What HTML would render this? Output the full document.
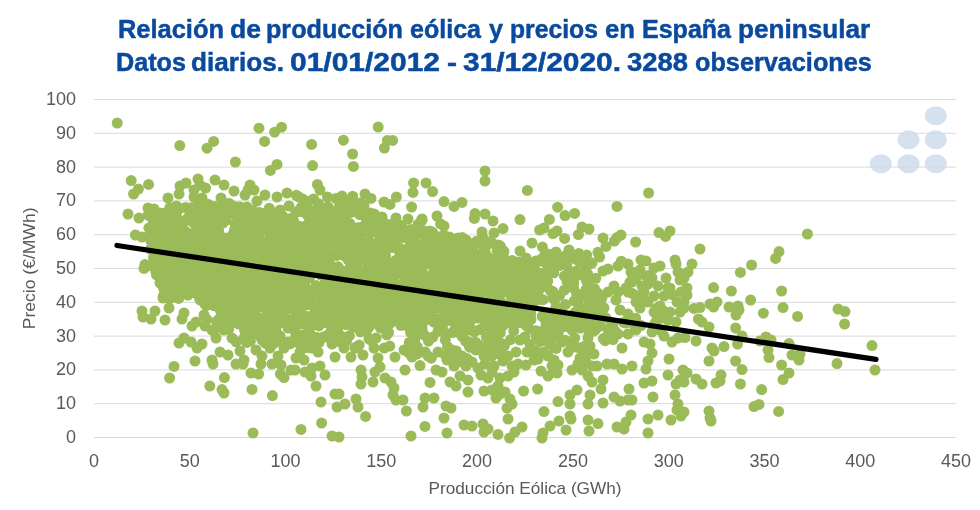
<!DOCTYPE html>
<html><head><meta charset="utf-8">
<style>
html,body{margin:0;padding:0;background:#fff;width:980px;height:510px;overflow:hidden}
svg{display:block;will-change:transform}
text{font-family:"Liberation Sans",sans-serif}
</style></head><body>
<svg width="980" height="510" viewBox="0 0 980 510">
<rect width="980" height="510" fill="#fff"/>
<g fill="#D6E1F0">
<ellipse cx="935.8" cy="115.8" rx="11" ry="9.5"/>
<ellipse cx="908.5" cy="139.8" rx="11" ry="9.5"/>
<ellipse cx="935.8" cy="139.8" rx="11" ry="9.5"/>
<ellipse cx="880.8" cy="163.8" rx="11" ry="9.5"/>
<ellipse cx="908.5" cy="163.8" rx="11" ry="9.5"/>
<ellipse cx="935.8" cy="163.8" rx="11" ry="9.5"/>
</g>
<g stroke="#D9D9D9" stroke-width="1">
<line x1="94" x2="956" y1="437.5" y2="437.5"/>
<line x1="94" x2="956" y1="403.7" y2="403.7"/>
<line x1="94" x2="956" y1="369.9" y2="369.9"/>
<line x1="94" x2="956" y1="336.1" y2="336.1"/>
<line x1="94" x2="956" y1="302.3" y2="302.3"/>
<line x1="94" x2="956" y1="268.5" y2="268.5"/>
<line x1="94" x2="956" y1="234.7" y2="234.7"/>
<line x1="94" x2="956" y1="200.9" y2="200.9"/>
<line x1="94" x2="956" y1="167.1" y2="167.1"/>
<line x1="94" x2="956" y1="133.3" y2="133.3"/>
<line x1="94" x2="956" y1="99.5" y2="99.5"/>
</g>
<g id="dots" fill="#9BBB59">

</g><g fill="#fff"></g><g fill="#9BBB59"><circle cx="117.2" cy="123.0" r="5.5"/>
<circle cx="179.8" cy="145.6" r="5.5"/>
<circle cx="207.0" cy="148.2" r="5.5"/>
<circle cx="213.6" cy="141.4" r="5.5"/>
<circle cx="235.4" cy="162.0" r="5.5"/>
<circle cx="259.0" cy="128.2" r="5.5"/>
<circle cx="264.6" cy="141.4" r="5.5"/>
<circle cx="274.6" cy="132.2" r="5.5"/>
<circle cx="281.6" cy="127.2" r="5.5"/>
<circle cx="277.0" cy="164.4" r="5.5"/>
<circle cx="270.4" cy="170.4" r="5.5"/>
<circle cx="248.0" cy="190.0" r="5.5"/>
<circle cx="194.0" cy="190.0" r="5.5"/>
<circle cx="135.4" cy="235.0" r="5.5"/>
<circle cx="145.0" cy="264.4" r="5.5"/>
<circle cx="144.0" cy="268.4" r="5.5"/>
<circle cx="156.0" cy="271.0" r="5.5"/>
<circle cx="142.0" cy="237.0" r="5.5"/>
<circle cx="131.2" cy="180.6" r="5.5"/>
<circle cx="138.4" cy="189.0" r="5.5"/>
<circle cx="133.6" cy="194.0" r="5.5"/>
<circle cx="148.6" cy="184.4" r="5.5"/>
<circle cx="128.0" cy="214.0" r="5.5"/>
<circle cx="168.0" cy="198.0" r="5.5"/>
<circle cx="180.0" cy="186.0" r="5.5"/>
<circle cx="186.0" cy="183.0" r="5.5"/>
<circle cx="179.0" cy="194.0" r="5.5"/>
<circle cx="198.0" cy="179.0" r="5.5"/>
<circle cx="200.0" cy="185.0" r="5.5"/>
<circle cx="205.6" cy="188.0" r="5.5"/>
<circle cx="194.0" cy="197.0" r="5.5"/>
<circle cx="202.0" cy="198.0" r="5.5"/>
<circle cx="215.0" cy="180.0" r="5.5"/>
<circle cx="224.0" cy="185.0" r="5.5"/>
<circle cx="234.0" cy="191.0" r="5.5"/>
<circle cx="221.0" cy="198.0" r="5.5"/>
<circle cx="250.0" cy="185.0" r="5.5"/>
<circle cx="254.0" cy="190.0" r="5.5"/>
<circle cx="245.0" cy="195.0" r="5.5"/>
<circle cx="265.0" cy="195.0" r="5.5"/>
<circle cx="257.0" cy="201.0" r="5.5"/>
<circle cx="277.0" cy="197.0" r="5.5"/>
<circle cx="287.0" cy="193.0" r="5.5"/>
<circle cx="289.0" cy="206.0" r="5.5"/>
<circle cx="148.0" cy="208.0" r="5.5"/>
<circle cx="154.0" cy="209.0" r="5.5"/>
<circle cx="160.0" cy="213.0" r="5.5"/>
<circle cx="139.0" cy="218.0" r="5.5"/>
<circle cx="160.0" cy="283.0" r="5.5"/>
<circle cx="163.0" cy="298.0" r="5.5"/>
<circle cx="169.0" cy="308.0" r="5.5"/>
<circle cx="142.0" cy="311.0" r="5.5"/>
<circle cx="155.0" cy="311.0" r="5.5"/>
<circle cx="151.0" cy="319.0" r="5.5"/>
<circle cx="143.0" cy="317.0" r="5.5"/>
<circle cx="165.0" cy="320.0" r="5.5"/>
<circle cx="184.0" cy="313.0" r="5.5"/>
<circle cx="182.0" cy="319.0" r="5.5"/>
<circle cx="192.0" cy="326.0" r="5.5"/>
<circle cx="196.0" cy="322.0" r="5.5"/>
<circle cx="204.0" cy="315.0" r="5.5"/>
<circle cx="205.0" cy="326.0" r="5.5"/>
<circle cx="212.0" cy="330.0" r="5.5"/>
<circle cx="216.0" cy="338.0" r="5.5"/>
<circle cx="220.0" cy="318.0" r="5.5"/>
<circle cx="224.0" cy="330.0" r="5.5"/>
<circle cx="232.0" cy="338.0" r="5.5"/>
<circle cx="234.0" cy="322.0" r="5.5"/>
<circle cx="244.0" cy="338.0" r="5.5"/>
<circle cx="252.0" cy="326.0" r="5.5"/>
<circle cx="256.0" cy="334.0" r="5.5"/>
<circle cx="262.0" cy="340.0" r="5.5"/>
<circle cx="268.0" cy="328.0" r="5.5"/>
<circle cx="276.0" cy="330.0" r="5.5"/>
<circle cx="280.0" cy="336.0" r="5.5"/>
<circle cx="288.0" cy="328.0" r="5.5"/>
<circle cx="179.0" cy="343.0" r="5.5"/>
<circle cx="184.0" cy="338.0" r="5.5"/>
<circle cx="191.0" cy="342.0" r="5.5"/>
<circle cx="202.0" cy="344.0" r="5.5"/>
<circle cx="197.0" cy="348.0" r="5.5"/>
<circle cx="195.0" cy="361.0" r="5.5"/>
<circle cx="212.0" cy="360.0" r="5.5"/>
<circle cx="220.0" cy="352.0" r="5.5"/>
<circle cx="228.0" cy="355.0" r="5.5"/>
<circle cx="240.0" cy="351.0" r="5.5"/>
<circle cx="244.0" cy="360.0" r="5.5"/>
<circle cx="256.0" cy="350.0" r="5.5"/>
<circle cx="262.0" cy="356.0" r="5.5"/>
<circle cx="270.0" cy="348.0" r="5.5"/>
<circle cx="278.0" cy="356.0" r="5.5"/>
<circle cx="284.0" cy="348.0" r="5.5"/>
<circle cx="288.0" cy="342.0" r="5.5"/>
<circle cx="272.0" cy="364.0" r="5.5"/>
<circle cx="236.0" cy="364.0" r="5.5"/>
<circle cx="174.0" cy="366.4" r="5.5"/>
<circle cx="169.6" cy="378.0" r="5.5"/>
<circle cx="213.0" cy="364.0" r="5.5"/>
<circle cx="243.0" cy="364.0" r="5.5"/>
<circle cx="261.0" cy="364.0" r="5.5"/>
<circle cx="281.0" cy="365.0" r="5.5"/>
<circle cx="291.0" cy="370.0" r="5.5"/>
<circle cx="224.4" cy="377.6" r="5.5"/>
<circle cx="209.8" cy="386.0" r="5.5"/>
<circle cx="222.0" cy="389.6" r="5.5"/>
<circle cx="224.0" cy="393.0" r="5.5"/>
<circle cx="251.0" cy="373.0" r="5.5"/>
<circle cx="258.6" cy="374.0" r="5.5"/>
<circle cx="252.0" cy="389.4" r="5.5"/>
<circle cx="272.4" cy="395.6" r="5.5"/>
<circle cx="280.4" cy="374.0" r="5.5"/>
<circle cx="284.0" cy="377.6" r="5.5"/>
<circle cx="253.0" cy="433.0" r="5.5"/>
<circle cx="311.6" cy="144.4" r="5.5"/>
<circle cx="312.6" cy="165.6" r="5.5"/>
<circle cx="343.4" cy="140.2" r="5.5"/>
<circle cx="352.6" cy="154.0" r="5.5"/>
<circle cx="353.4" cy="166.4" r="5.5"/>
<circle cx="378.2" cy="127.0" r="5.5"/>
<circle cx="387.4" cy="140.4" r="5.5"/>
<circle cx="392.6" cy="140.4" r="5.5"/>
<circle cx="384.4" cy="148.0" r="5.5"/>
<circle cx="317.4" cy="184.4" r="5.5"/>
<circle cx="320.0" cy="190.0" r="5.5"/>
<circle cx="327.4" cy="197.0" r="5.5"/>
<circle cx="299.0" cy="197.0" r="5.5"/>
<circle cx="313.6" cy="199.0" r="5.5"/>
<circle cx="342.0" cy="196.0" r="5.5"/>
<circle cx="351.0" cy="201.0" r="5.5"/>
<circle cx="340.0" cy="206.0" r="5.5"/>
<circle cx="365.0" cy="194.0" r="5.5"/>
<circle cx="371.0" cy="198.4" r="5.5"/>
<circle cx="364.0" cy="205.6" r="5.5"/>
<circle cx="370.0" cy="213.0" r="5.5"/>
<circle cx="384.0" cy="202.0" r="5.5"/>
<circle cx="390.0" cy="204.4" r="5.5"/>
<circle cx="396.4" cy="197.0" r="5.5"/>
<circle cx="413.6" cy="183.0" r="5.5"/>
<circle cx="413.0" cy="192.4" r="5.5"/>
<circle cx="411.6" cy="207.0" r="5.5"/>
<circle cx="426.0" cy="183.0" r="5.5"/>
<circle cx="432.6" cy="191.6" r="5.5"/>
<circle cx="444.0" cy="201.6" r="5.5"/>
<circle cx="454.0" cy="206.4" r="5.5"/>
<circle cx="462.0" cy="202.4" r="5.5"/>
<circle cx="475.0" cy="213.6" r="5.5"/>
<circle cx="474.4" cy="218.4" r="5.5"/>
<circle cx="485.0" cy="171.0" r="5.5"/>
<circle cx="485.0" cy="181.0" r="5.5"/>
<circle cx="485.0" cy="214.0" r="5.5"/>
<circle cx="382.0" cy="217.0" r="5.5"/>
<circle cx="396.0" cy="218.0" r="5.5"/>
<circle cx="408.0" cy="219.0" r="5.5"/>
<circle cx="422.0" cy="219.0" r="5.5"/>
<circle cx="437.0" cy="216.0" r="5.5"/>
<circle cx="444.0" cy="226.0" r="5.5"/>
<circle cx="458.0" cy="238.0" r="5.5"/>
<circle cx="476.0" cy="243.0" r="5.5"/>
<circle cx="482.0" cy="232.0" r="5.5"/>
<circle cx="472.0" cy="250.0" r="5.5"/>
<circle cx="296.0" cy="358.0" r="5.5"/>
<circle cx="295.0" cy="370.0" r="5.5"/>
<circle cx="305.0" cy="372.0" r="5.5"/>
<circle cx="311.0" cy="376.0" r="5.5"/>
<circle cx="312.0" cy="368.0" r="5.5"/>
<circle cx="320.0" cy="366.0" r="5.5"/>
<circle cx="325.0" cy="375.0" r="5.5"/>
<circle cx="316.0" cy="386.0" r="5.5"/>
<circle cx="335.0" cy="357.0" r="5.5"/>
<circle cx="351.0" cy="357.0" r="5.5"/>
<circle cx="363.0" cy="355.0" r="5.5"/>
<circle cx="361.0" cy="370.0" r="5.5"/>
<circle cx="362.0" cy="377.0" r="5.5"/>
<circle cx="361.0" cy="384.0" r="5.5"/>
<circle cx="373.0" cy="382.0" r="5.5"/>
<circle cx="378.0" cy="358.0" r="5.5"/>
<circle cx="380.0" cy="367.0" r="5.5"/>
<circle cx="375.0" cy="372.0" r="5.5"/>
<circle cx="385.0" cy="378.0" r="5.5"/>
<circle cx="391.0" cy="382.0" r="5.5"/>
<circle cx="394.0" cy="388.0" r="5.5"/>
<circle cx="393.0" cy="395.0" r="5.5"/>
<circle cx="396.0" cy="400.0" r="5.5"/>
<circle cx="403.0" cy="400.0" r="5.5"/>
<circle cx="406.4" cy="411.0" r="5.5"/>
<circle cx="395.0" cy="357.0" r="5.5"/>
<circle cx="405.0" cy="370.0" r="5.5"/>
<circle cx="412.0" cy="357.0" r="5.5"/>
<circle cx="420.0" cy="365.6" r="5.5"/>
<circle cx="425.0" cy="352.0" r="5.5"/>
<circle cx="430.0" cy="382.4" r="5.5"/>
<circle cx="425.0" cy="398.0" r="5.5"/>
<circle cx="434.0" cy="398.0" r="5.5"/>
<circle cx="423.0" cy="407.0" r="5.5"/>
<circle cx="436.0" cy="370.0" r="5.5"/>
<circle cx="442.0" cy="372.0" r="5.5"/>
<circle cx="447.0" cy="360.0" r="5.5"/>
<circle cx="450.0" cy="382.0" r="5.5"/>
<circle cx="456.0" cy="386.0" r="5.5"/>
<circle cx="460.0" cy="376.0" r="5.5"/>
<circle cx="468.0" cy="380.0" r="5.5"/>
<circle cx="468.0" cy="392.0" r="5.5"/>
<circle cx="472.0" cy="362.0" r="5.5"/>
<circle cx="446.0" cy="406.0" r="5.5"/>
<circle cx="451.0" cy="408.0" r="5.5"/>
<circle cx="444.0" cy="418.0" r="5.5"/>
<circle cx="447.0" cy="433.0" r="5.5"/>
<circle cx="425.0" cy="426.4" r="5.5"/>
<circle cx="411.0" cy="436.0" r="5.5"/>
<circle cx="464.0" cy="425.0" r="5.5"/>
<circle cx="472.0" cy="426.0" r="5.5"/>
<circle cx="483.0" cy="424.0" r="5.5"/>
<circle cx="484.0" cy="432.0" r="5.5"/>
<circle cx="484.0" cy="391.0" r="5.5"/>
<circle cx="481.0" cy="375.0" r="5.5"/>
<circle cx="485.0" cy="364.0" r="5.5"/>
<circle cx="321.0" cy="402.0" r="5.5"/>
<circle cx="335.0" cy="394.0" r="5.5"/>
<circle cx="339.0" cy="394.0" r="5.5"/>
<circle cx="337.0" cy="407.0" r="5.5"/>
<circle cx="345.0" cy="404.0" r="5.5"/>
<circle cx="356.0" cy="399.0" r="5.5"/>
<circle cx="358.0" cy="407.0" r="5.5"/>
<circle cx="365.6" cy="416.4" r="5.5"/>
<circle cx="321.6" cy="423.0" r="5.5"/>
<circle cx="301.0" cy="429.4" r="5.5"/>
<circle cx="332.0" cy="436.0" r="5.5"/>
<circle cx="339.0" cy="437.0" r="5.5"/>
<circle cx="438.0" cy="352.0" r="5.5"/>
<circle cx="452.0" cy="350.0" r="5.5"/>
<circle cx="462.0" cy="356.0" r="5.5"/>
<circle cx="476.0" cy="350.0" r="5.5"/>
<circle cx="484.0" cy="356.0" r="5.5"/>
<circle cx="344.0" cy="348.0" r="5.5"/>
<circle cx="356.0" cy="348.0" r="5.5"/>
<circle cx="374.0" cy="348.0" r="5.5"/>
<circle cx="404.0" cy="350.0" r="5.5"/>
<circle cx="332.0" cy="344.0" r="5.5"/>
<circle cx="312.0" cy="348.0" r="5.5"/>
<circle cx="304.0" cy="360.0" r="5.5"/>
<circle cx="300.0" cy="352.0" r="5.5"/>
<circle cx="318.0" cy="352.0" r="5.5"/>
<circle cx="454.0" cy="366.0" r="5.5"/>
<circle cx="458.0" cy="362.0" r="5.5"/>
<circle cx="466.0" cy="366.0" r="5.5"/>
<circle cx="478.0" cy="368.0" r="5.5"/>
<circle cx="412.0" cy="352.0" r="5.5"/>
<circle cx="428.0" cy="356.0" r="5.5"/>
<circle cx="527.4" cy="190.4" r="5.5"/>
<circle cx="648.6" cy="193.0" r="5.5"/>
<circle cx="617.0" cy="206.4" r="5.5"/>
<circle cx="557.6" cy="207.2" r="5.5"/>
<circle cx="565.0" cy="215.6" r="5.5"/>
<circle cx="574.6" cy="213.4" r="5.5"/>
<circle cx="549.4" cy="219.4" r="5.5"/>
<circle cx="520.0" cy="219.6" r="5.5"/>
<circle cx="493.0" cy="221.0" r="5.5"/>
<circle cx="503.0" cy="228.6" r="5.5"/>
<circle cx="494.0" cy="233.0" r="5.5"/>
<circle cx="539.6" cy="230.0" r="5.5"/>
<circle cx="544.0" cy="228.0" r="5.5"/>
<circle cx="553.0" cy="233.6" r="5.5"/>
<circle cx="557.0" cy="231.0" r="5.5"/>
<circle cx="564.6" cy="238.4" r="5.5"/>
<circle cx="578.4" cy="234.6" r="5.5"/>
<circle cx="582.0" cy="227.0" r="5.5"/>
<circle cx="589.0" cy="229.0" r="5.5"/>
<circle cx="603.0" cy="238.0" r="5.5"/>
<circle cx="606.0" cy="246.4" r="5.5"/>
<circle cx="614.4" cy="241.0" r="5.5"/>
<circle cx="621.0" cy="235.0" r="5.5"/>
<circle cx="617.0" cy="237.6" r="5.5"/>
<circle cx="635.6" cy="242.0" r="5.5"/>
<circle cx="659.0" cy="232.6" r="5.5"/>
<circle cx="665.6" cy="236.4" r="5.5"/>
<circle cx="670.0" cy="231.0" r="5.5"/>
<circle cx="532.0" cy="243.0" r="5.5"/>
<circle cx="542.4" cy="247.0" r="5.5"/>
<circle cx="520.0" cy="251.0" r="5.5"/>
<circle cx="526.0" cy="258.0" r="5.5"/>
<circle cx="537.0" cy="261.0" r="5.5"/>
<circle cx="548.0" cy="254.0" r="5.5"/>
<circle cx="556.0" cy="252.0" r="5.5"/>
<circle cx="569.0" cy="250.0" r="5.5"/>
<circle cx="576.0" cy="259.0" r="5.5"/>
<circle cx="586.0" cy="263.0" r="5.5"/>
<circle cx="592.0" cy="263.0" r="5.5"/>
<circle cx="641.0" cy="260.0" r="5.5"/>
<circle cx="646.0" cy="261.0" r="5.5"/>
<circle cx="675.0" cy="260.0" r="5.5"/>
<circle cx="603.0" cy="271.0" r="5.5"/>
<circle cx="608.0" cy="269.0" r="5.5"/>
<circle cx="618.0" cy="266.0" r="5.5"/>
<circle cx="614.0" cy="286.0" r="5.5"/>
<circle cx="608.0" cy="292.0" r="5.5"/>
<circle cx="600.0" cy="298.0" r="5.5"/>
<circle cx="604.0" cy="308.0" r="5.5"/>
<circle cx="616.0" cy="300.0" r="5.5"/>
<circle cx="620.0" cy="310.0" r="5.5"/>
<circle cx="628.0" cy="292.0" r="5.5"/>
<circle cx="626.0" cy="288.0" r="5.5"/>
<circle cx="632.0" cy="282.0" r="5.5"/>
<circle cx="632.0" cy="272.0" r="5.5"/>
<circle cx="640.0" cy="270.0" r="5.5"/>
<circle cx="646.0" cy="276.0" r="5.5"/>
<circle cx="648.0" cy="284.0" r="5.5"/>
<circle cx="644.0" cy="292.0" r="5.5"/>
<circle cx="636.0" cy="302.0" r="5.5"/>
<circle cx="640.0" cy="308.0" r="5.5"/>
<circle cx="648.0" cy="302.0" r="5.5"/>
<circle cx="654.0" cy="312.0" r="5.5"/>
<circle cx="660.0" cy="306.0" r="5.5"/>
<circle cx="664.0" cy="296.0" r="5.5"/>
<circle cx="666.0" cy="278.0" r="5.5"/>
<circle cx="670.0" cy="288.0" r="5.5"/>
<circle cx="660.0" cy="266.0" r="5.5"/>
<circle cx="676.0" cy="264.0" r="5.5"/>
<circle cx="680.0" cy="280.0" r="5.5"/>
<circle cx="681.0" cy="292.0" r="5.5"/>
<circle cx="677.0" cy="302.0" r="5.5"/>
<circle cx="670.0" cy="312.0" r="5.5"/>
<circle cx="680.0" cy="312.0" r="5.5"/>
<circle cx="668.0" cy="320.0" r="5.5"/>
<circle cx="676.0" cy="322.0" r="5.5"/>
<circle cx="660.0" cy="330.0" r="5.5"/>
<circle cx="664.0" cy="336.0" r="5.5"/>
<circle cx="652.0" cy="332.0" r="5.5"/>
<circle cx="636.0" cy="330.0" r="5.5"/>
<circle cx="628.0" cy="334.0" r="5.5"/>
<circle cx="618.0" cy="334.0" r="5.5"/>
<circle cx="612.0" cy="324.0" r="5.5"/>
<circle cx="600.0" cy="326.0" r="5.5"/>
<circle cx="592.0" cy="330.0" r="5.5"/>
<circle cx="588.0" cy="338.0" r="5.5"/>
<circle cx="590.0" cy="346.0" r="5.5"/>
<circle cx="584.0" cy="352.0" r="5.5"/>
<circle cx="594.0" cy="354.0" r="5.5"/>
<circle cx="568.0" cy="352.0" r="5.5"/>
<circle cx="562.0" cy="342.0" r="5.5"/>
<circle cx="554.0" cy="360.0" r="5.5"/>
<circle cx="544.0" cy="352.0" r="5.5"/>
<circle cx="548.0" cy="356.0" r="5.5"/>
<circle cx="572.0" cy="330.0" r="5.5"/>
<circle cx="580.0" cy="328.0" r="5.5"/>
<circle cx="622.0" cy="348.0" r="5.5"/>
<circle cx="644.0" cy="342.0" r="5.5"/>
<circle cx="650.0" cy="344.0" r="5.5"/>
<circle cx="652.0" cy="353.0" r="5.5"/>
<circle cx="672.0" cy="342.0" r="5.5"/>
<circle cx="678.0" cy="338.0" r="5.5"/>
<circle cx="606.0" cy="318.0" r="5.5"/>
<circle cx="618.0" cy="292.0" r="5.5"/>
<circle cx="638.0" cy="296.0" r="5.5"/>
<circle cx="658.0" cy="286.0" r="5.5"/>
<circle cx="654.0" cy="268.0" r="5.5"/>
<circle cx="628.0" cy="264.0" r="5.5"/>
<circle cx="636.0" cy="278.0" r="5.5"/>
<circle cx="642.0" cy="286.0" r="5.5"/>
<circle cx="654.0" cy="296.0" r="5.5"/>
<circle cx="652.0" cy="278.0" r="5.5"/>
<circle cx="628.0" cy="314.0" r="5.5"/>
<circle cx="634.0" cy="320.0" r="5.5"/>
<circle cx="678.0" cy="272.0" r="5.5"/>
<circle cx="684.0" cy="302.0" r="5.5"/>
<circle cx="662.0" cy="318.0" r="5.5"/>
<circle cx="656.0" cy="322.0" r="5.5"/>
<circle cx="492.0" cy="356.0" r="5.5"/>
<circle cx="500.0" cy="354.0" r="5.5"/>
<circle cx="508.0" cy="356.0" r="5.5"/>
<circle cx="516.0" cy="352.0" r="5.5"/>
<circle cx="494.0" cy="366.0" r="5.5"/>
<circle cx="503.0" cy="361.0" r="5.5"/>
<circle cx="512.0" cy="366.0" r="5.5"/>
<circle cx="518.0" cy="364.0" r="5.5"/>
<circle cx="526.0" cy="365.0" r="5.5"/>
<circle cx="534.0" cy="360.0" r="5.5"/>
<circle cx="538.0" cy="359.0" r="5.5"/>
<circle cx="541.0" cy="371.0" r="5.5"/>
<circle cx="548.0" cy="376.0" r="5.5"/>
<circle cx="552.0" cy="366.0" r="5.5"/>
<circle cx="558.0" cy="365.0" r="5.5"/>
<circle cx="557.0" cy="373.0" r="5.5"/>
<circle cx="572.0" cy="370.0" r="5.5"/>
<circle cx="578.0" cy="364.0" r="5.5"/>
<circle cx="584.0" cy="356.0" r="5.5"/>
<circle cx="590.0" cy="353.0" r="5.5"/>
<circle cx="586.0" cy="362.0" r="5.5"/>
<circle cx="592.0" cy="366.0" r="5.5"/>
<circle cx="597.0" cy="366.0" r="5.5"/>
<circle cx="588.0" cy="376.0" r="5.5"/>
<circle cx="592.0" cy="382.0" r="5.5"/>
<circle cx="603.0" cy="380.0" r="5.5"/>
<circle cx="601.0" cy="389.0" r="5.5"/>
<circle cx="607.0" cy="364.0" r="5.5"/>
<circle cx="614.0" cy="364.0" r="5.5"/>
<circle cx="622.0" cy="369.0" r="5.5"/>
<circle cx="632.0" cy="366.0" r="5.5"/>
<circle cx="646.0" cy="369.0" r="5.5"/>
<circle cx="648.0" cy="361.0" r="5.5"/>
<circle cx="669.0" cy="359.0" r="5.5"/>
<circle cx="668.0" cy="375.0" r="5.5"/>
<circle cx="644.0" cy="383.0" r="5.5"/>
<circle cx="652.0" cy="381.0" r="5.5"/>
<circle cx="653.0" cy="397.0" r="5.5"/>
<circle cx="676.0" cy="384.0" r="5.5"/>
<circle cx="680.0" cy="380.0" r="5.5"/>
<circle cx="675.0" cy="395.0" r="5.5"/>
<circle cx="678.0" cy="404.0" r="5.5"/>
<circle cx="677.0" cy="410.0" r="5.5"/>
<circle cx="681.0" cy="416.0" r="5.5"/>
<circle cx="671.0" cy="420.0" r="5.5"/>
<circle cx="683.0" cy="370.0" r="5.5"/>
<circle cx="488.0" cy="378.0" r="5.5"/>
<circle cx="492.0" cy="390.0" r="5.5"/>
<circle cx="498.0" cy="386.0" r="5.5"/>
<circle cx="505.0" cy="392.0" r="5.5"/>
<circle cx="510.0" cy="399.0" r="5.5"/>
<circle cx="512.0" cy="404.0" r="5.5"/>
<circle cx="507.0" cy="408.0" r="5.5"/>
<circle cx="508.0" cy="419.0" r="5.5"/>
<circle cx="488.0" cy="429.0" r="5.5"/>
<circle cx="498.0" cy="434.4" r="5.5"/>
<circle cx="509.6" cy="438.0" r="5.5"/>
<circle cx="515.0" cy="432.0" r="5.5"/>
<circle cx="522.0" cy="427.0" r="5.5"/>
<circle cx="500.0" cy="378.0" r="5.5"/>
<circle cx="492.0" cy="372.0" r="5.5"/>
<circle cx="508.0" cy="376.0" r="5.5"/>
<circle cx="514.0" cy="372.0" r="5.5"/>
<circle cx="523.6" cy="391.0" r="5.5"/>
<circle cx="537.6" cy="389.0" r="5.5"/>
<circle cx="544.0" cy="411.6" r="5.5"/>
<circle cx="558.0" cy="401.6" r="5.5"/>
<circle cx="570.0" cy="395.0" r="5.5"/>
<circle cx="577.0" cy="390.0" r="5.5"/>
<circle cx="570.0" cy="404.0" r="5.5"/>
<circle cx="570.0" cy="416.0" r="5.5"/>
<circle cx="571.0" cy="419.0" r="5.5"/>
<circle cx="588.0" cy="404.0" r="5.5"/>
<circle cx="590.0" cy="395.0" r="5.5"/>
<circle cx="603.0" cy="403.0" r="5.5"/>
<circle cx="614.0" cy="397.0" r="5.5"/>
<circle cx="620.0" cy="401.0" r="5.5"/>
<circle cx="628.0" cy="400.0" r="5.5"/>
<circle cx="632.0" cy="400.0" r="5.5"/>
<circle cx="629.0" cy="389.0" r="5.5"/>
<circle cx="588.0" cy="420.0" r="5.5"/>
<circle cx="589.0" cy="431.0" r="5.5"/>
<circle cx="598.0" cy="423.6" r="5.5"/>
<circle cx="566.0" cy="430.0" r="5.5"/>
<circle cx="559.0" cy="421.0" r="5.5"/>
<circle cx="550.0" cy="426.0" r="5.5"/>
<circle cx="543.0" cy="433.0" r="5.5"/>
<circle cx="542.0" cy="438.0" r="5.5"/>
<circle cx="617.0" cy="427.0" r="5.5"/>
<circle cx="624.0" cy="429.0" r="5.5"/>
<circle cx="626.0" cy="422.0" r="5.5"/>
<circle cx="631.0" cy="415.0" r="5.5"/>
<circle cx="648.0" cy="419.0" r="5.5"/>
<circle cx="658.0" cy="415.0" r="5.5"/>
<circle cx="648.0" cy="433.0" r="5.5"/>
<circle cx="582.0" cy="370.0" r="5.5"/>
<circle cx="580.0" cy="358.0" r="5.5"/>
<circle cx="554.0" cy="370.0" r="5.5"/>
<circle cx="500.0" cy="394.0" r="5.5"/>
<circle cx="496.0" cy="398.0" r="5.5"/>
<circle cx="807.4" cy="234.0" r="5.5"/>
<circle cx="700.0" cy="249.0" r="5.5"/>
<circle cx="779.0" cy="251.6" r="5.5"/>
<circle cx="775.6" cy="258.4" r="5.5"/>
<circle cx="692.0" cy="264.0" r="5.5"/>
<circle cx="688.0" cy="272.0" r="5.5"/>
<circle cx="684.0" cy="278.0" r="5.5"/>
<circle cx="687.0" cy="288.0" r="5.5"/>
<circle cx="687.0" cy="295.0" r="5.5"/>
<circle cx="684.0" cy="308.0" r="5.5"/>
<circle cx="694.0" cy="308.4" r="5.5"/>
<circle cx="700.0" cy="307.6" r="5.5"/>
<circle cx="710.0" cy="304.0" r="5.5"/>
<circle cx="717.0" cy="302.0" r="5.5"/>
<circle cx="713.6" cy="307.0" r="5.5"/>
<circle cx="713.6" cy="287.6" r="5.5"/>
<circle cx="731.4" cy="291.0" r="5.5"/>
<circle cx="740.4" cy="272.4" r="5.5"/>
<circle cx="751.6" cy="265.0" r="5.5"/>
<circle cx="729.0" cy="307.0" r="5.5"/>
<circle cx="738.0" cy="306.0" r="5.5"/>
<circle cx="739.0" cy="310.0" r="5.5"/>
<circle cx="736.0" cy="315.0" r="5.5"/>
<circle cx="750.6" cy="300.0" r="5.5"/>
<circle cx="763.4" cy="313.2" r="5.5"/>
<circle cx="781.6" cy="291.0" r="5.5"/>
<circle cx="783.0" cy="307.6" r="5.5"/>
<circle cx="797.6" cy="316.4" r="5.5"/>
<circle cx="838.0" cy="309.0" r="5.5"/>
<circle cx="845.0" cy="311.6" r="5.5"/>
<circle cx="844.6" cy="324.0" r="5.5"/>
<circle cx="872.0" cy="345.6" r="5.5"/>
<circle cx="698.4" cy="319.0" r="5.5"/>
<circle cx="702.0" cy="322.0" r="5.5"/>
<circle cx="709.0" cy="327.0" r="5.5"/>
<circle cx="735.6" cy="328.0" r="5.5"/>
<circle cx="742.0" cy="336.0" r="5.5"/>
<circle cx="737.6" cy="344.0" r="5.5"/>
<circle cx="724.0" cy="346.6" r="5.5"/>
<circle cx="712.0" cy="348.0" r="5.5"/>
<circle cx="714.0" cy="351.0" r="5.5"/>
<circle cx="696.0" cy="341.0" r="5.5"/>
<circle cx="685.0" cy="337.6" r="5.5"/>
<circle cx="760.0" cy="341.0" r="5.5"/>
<circle cx="766.0" cy="337.0" r="5.5"/>
<circle cx="771.0" cy="340.0" r="5.5"/>
<circle cx="768.0" cy="350.0" r="5.5"/>
<circle cx="789.0" cy="343.6" r="5.5"/>
<circle cx="792.0" cy="355.0" r="5.5"/>
<circle cx="800.0" cy="354.0" r="5.5"/>
<circle cx="709.0" cy="361.0" r="5.5"/>
<circle cx="735.6" cy="361.0" r="5.5"/>
<circle cx="742.0" cy="369.6" r="5.5"/>
<circle cx="687.0" cy="373.0" r="5.5"/>
<circle cx="684.0" cy="382.0" r="5.5"/>
<circle cx="696.0" cy="379.0" r="5.5"/>
<circle cx="702.0" cy="384.0" r="5.5"/>
<circle cx="716.0" cy="383.0" r="5.5"/>
<circle cx="721.0" cy="375.0" r="5.5"/>
<circle cx="720.0" cy="381.0" r="5.5"/>
<circle cx="740.4" cy="384.0" r="5.5"/>
<circle cx="761.6" cy="389.6" r="5.5"/>
<circle cx="754.0" cy="406.6" r="5.5"/>
<circle cx="759.0" cy="404.4" r="5.5"/>
<circle cx="778.6" cy="411.4" r="5.5"/>
<circle cx="769.0" cy="357.6" r="5.5"/>
<circle cx="781.6" cy="365.0" r="5.5"/>
<circle cx="789.0" cy="373.0" r="5.5"/>
<circle cx="783.0" cy="379.6" r="5.5"/>
<circle cx="799.0" cy="360.0" r="5.5"/>
<circle cx="837.0" cy="363.6" r="5.5"/>
<circle cx="875.0" cy="370.0" r="5.5"/>
<circle cx="684.0" cy="412.0" r="5.5"/>
<circle cx="709.0" cy="411.0" r="5.5"/>
<circle cx="710.0" cy="418.0" r="5.5"/>
<circle cx="711.0" cy="421.0" r="5.5"/>
<circle cx="522.0" cy="322.8" r="5.5"/>
<circle cx="410.6" cy="332.5" r="5.5"/>
<circle cx="475.4" cy="349.4" r="5.5"/>
<circle cx="551.8" cy="331.6" r="5.5"/>
<circle cx="389.8" cy="346.1" r="5.5"/>
<circle cx="594.7" cy="329.1" r="5.5"/>
<circle cx="294.9" cy="331.1" r="5.5"/>
<circle cx="217.1" cy="321.1" r="5.5"/>
<circle cx="386.7" cy="334.8" r="5.5"/>
<circle cx="301.7" cy="321.5" r="5.5"/>
<circle cx="295.8" cy="333.0" r="5.5"/>
<circle cx="552.6" cy="337.8" r="5.5"/>
<circle cx="471.6" cy="319.3" r="5.5"/>
<circle cx="255.2" cy="326.6" r="5.5"/>
<circle cx="504.4" cy="345.6" r="5.5"/>
<circle cx="593.6" cy="331.1" r="5.5"/>
<circle cx="549.5" cy="343.5" r="5.5"/>
<circle cx="330.9" cy="339.4" r="5.5"/>
<circle cx="414.7" cy="339.5" r="5.5"/>
<circle cx="219.3" cy="322.1" r="5.5"/>
<circle cx="535.9" cy="330.7" r="5.5"/>
<circle cx="276.8" cy="337.4" r="5.5"/>
<circle cx="496.8" cy="343.7" r="5.5"/>
<circle cx="360.5" cy="331.9" r="5.5"/>
<circle cx="416.0" cy="348.9" r="5.5"/>
<circle cx="421.2" cy="329.7" r="5.5"/>
<circle cx="613.0" cy="339.7" r="5.5"/>
<circle cx="368.3" cy="318.5" r="5.5"/>
<circle cx="524.8" cy="337.0" r="5.5"/>
<circle cx="562.0" cy="321.6" r="5.5"/>
<circle cx="444.8" cy="333.0" r="5.5"/>
<circle cx="316.8" cy="337.4" r="5.5"/>
<circle cx="530.2" cy="351.0" r="5.5"/>
<circle cx="572.8" cy="347.0" r="5.5"/>
<circle cx="540.8" cy="335.9" r="5.5"/>
<circle cx="438.0" cy="331.3" r="5.5"/>
<circle cx="441.5" cy="320.0" r="5.5"/>
<circle cx="414.5" cy="334.2" r="5.5"/>
<circle cx="353.1" cy="327.3" r="5.5"/>
<circle cx="428.5" cy="341.2" r="5.5"/>
<circle cx="459.2" cy="332.9" r="5.5"/>
<circle cx="216.6" cy="321.5" r="5.5"/>
<circle cx="278.5" cy="339.2" r="5.5"/>
<circle cx="535.8" cy="350.8" r="5.5"/>
<circle cx="518.6" cy="322.5" r="5.5"/>
<circle cx="250.4" cy="341.2" r="5.5"/>
<circle cx="271.2" cy="336.4" r="5.5"/>
<circle cx="274.8" cy="323.6" r="5.5"/>
<circle cx="500.3" cy="332.7" r="5.5"/>
<circle cx="338.6" cy="333.7" r="5.5"/>
<circle cx="214.8" cy="329.3" r="5.5"/>
<circle cx="379.7" cy="319.4" r="5.5"/>
<circle cx="416.7" cy="320.5" r="5.5"/>
<circle cx="456.3" cy="350.9" r="5.5"/>
<circle cx="271.5" cy="345.2" r="5.5"/>
<circle cx="486.4" cy="337.2" r="5.5"/>
<circle cx="536.1" cy="335.8" r="5.5"/>
<circle cx="297.6" cy="342.4" r="5.5"/>
<circle cx="368.9" cy="338.8" r="5.5"/>
<circle cx="338.3" cy="341.5" r="5.5"/>
<circle cx="229.4" cy="324.9" r="5.5"/>
<circle cx="513.7" cy="330.8" r="5.5"/>
<circle cx="441.7" cy="318.6" r="5.5"/>
<circle cx="497.2" cy="335.4" r="5.5"/>
<circle cx="361.9" cy="327.3" r="5.5"/>
<circle cx="290.4" cy="343.7" r="5.5"/>
<circle cx="384.7" cy="319.7" r="5.5"/>
<circle cx="327.9" cy="335.0" r="5.5"/>
<circle cx="288.4" cy="326.4" r="5.5"/>
<circle cx="345.7" cy="320.7" r="5.5"/>
<circle cx="484.9" cy="351.9" r="5.5"/>
<circle cx="591.9" cy="327.2" r="5.5"/>
<circle cx="571.2" cy="344.4" r="5.5"/>
<circle cx="302.4" cy="346.3" r="5.5"/>
<circle cx="240.1" cy="318.5" r="5.5"/>
<circle cx="583.1" cy="320.6" r="5.5"/>
<circle cx="520.0" cy="340.0" r="5.5"/>
<circle cx="554.1" cy="328.4" r="5.5"/>
<circle cx="346.2" cy="324.6" r="5.5"/>
<circle cx="565.0" cy="340.2" r="5.5"/>
<circle cx="261.2" cy="337.6" r="5.5"/>
<circle cx="532.1" cy="351.4" r="5.5"/>
<circle cx="346.5" cy="340.8" r="5.5"/>
<circle cx="529.5" cy="328.9" r="5.5"/>
<circle cx="441.9" cy="321.2" r="5.5"/>
<circle cx="238.9" cy="323.3" r="5.5"/>
<circle cx="574.7" cy="338.2" r="5.5"/>
<circle cx="588.9" cy="332.9" r="5.5"/>
<circle cx="221.6" cy="322.0" r="5.5"/>
<circle cx="615.1" cy="331.1" r="5.5"/>
<circle cx="253.0" cy="318.4" r="5.5"/>
<circle cx="305.2" cy="347.2" r="5.5"/>
<circle cx="582.3" cy="324.7" r="5.5"/>
<circle cx="310.2" cy="333.9" r="5.5"/>
<circle cx="246.6" cy="342.6" r="5.5"/>
<circle cx="612.8" cy="324.8" r="5.5"/>
<circle cx="452.6" cy="332.5" r="5.5"/>
<circle cx="294.3" cy="340.9" r="5.5"/>
<circle cx="611.7" cy="337.1" r="5.5"/>
<circle cx="490.6" cy="343.1" r="5.5"/>
<circle cx="312.5" cy="337.1" r="5.5"/>
<circle cx="332.5" cy="322.3" r="5.5"/>
<circle cx="238.8" cy="324.0" r="5.5"/>
<circle cx="613.1" cy="332.4" r="5.5"/>
<circle cx="475.6" cy="342.2" r="5.5"/>
<circle cx="595.4" cy="329.5" r="5.5"/>
<circle cx="332.3" cy="326.4" r="5.5"/>
<circle cx="575.8" cy="325.1" r="5.5"/>
<circle cx="343.7" cy="337.2" r="5.5"/>
<circle cx="445.3" cy="339.8" r="5.5"/>
<circle cx="236.2" cy="341.8" r="5.5"/>
<circle cx="409.7" cy="353.1" r="5.5"/>
<circle cx="269.0" cy="335.1" r="5.5"/>
<circle cx="598.9" cy="318.7" r="5.5"/>
<circle cx="545.9" cy="326.0" r="5.5"/>
<circle cx="249.4" cy="335.7" r="5.5"/>
<circle cx="586.5" cy="324.7" r="5.5"/>
<circle cx="575.9" cy="317.1" r="5.5"/>
<circle cx="553.9" cy="347.3" r="5.5"/>
<circle cx="491.2" cy="318.9" r="5.5"/>
<circle cx="501.7" cy="343.4" r="5.5"/>
<circle cx="432.9" cy="337.1" r="5.5"/>
<circle cx="558.3" cy="332.7" r="5.5"/>
<circle cx="369.2" cy="326.9" r="5.5"/>
<circle cx="473.3" cy="330.8" r="5.5"/>
<circle cx="256.9" cy="323.0" r="5.5"/>
<circle cx="549.0" cy="329.9" r="5.5"/>
<circle cx="371.4" cy="340.6" r="5.5"/>
<circle cx="424.4" cy="335.0" r="5.5"/>
<circle cx="474.3" cy="331.9" r="5.5"/>
<circle cx="489.9" cy="346.6" r="5.5"/>
<circle cx="303.9" cy="334.8" r="5.5"/>
<circle cx="403.7" cy="321.3" r="5.5"/>
<circle cx="376.1" cy="338.0" r="5.5"/>
<circle cx="319.2" cy="342.3" r="5.5"/>
<circle cx="417.4" cy="353.9" r="5.5"/>
<circle cx="571.4" cy="325.6" r="5.5"/>
<circle cx="492.4" cy="352.4" r="5.5"/>
<circle cx="359.2" cy="345.1" r="5.5"/>
<circle cx="510.6" cy="339.7" r="5.5"/>
<circle cx="603.4" cy="338.6" r="5.5"/>
<circle cx="278.2" cy="322.5" r="5.5"/>
<circle cx="295.3" cy="338.5" r="5.5"/>
<circle cx="487.9" cy="345.9" r="5.5"/>
<circle cx="349.4" cy="335.8" r="5.5"/>
<circle cx="540.3" cy="341.4" r="5.5"/>
<circle cx="603.2" cy="317.0" r="5.5"/>
<circle cx="526.9" cy="352.1" r="5.5"/>
<circle cx="478.8" cy="345.0" r="5.5"/>
<circle cx="608.1" cy="329.1" r="5.5"/>
<circle cx="538.1" cy="331.6" r="5.5"/>
<circle cx="273.4" cy="326.3" r="5.5"/>
<circle cx="603.2" cy="316.0" r="5.5"/>
<circle cx="454.3" cy="330.4" r="5.5"/>
<circle cx="254.0" cy="324.8" r="5.5"/>
<circle cx="308.0" cy="347.5" r="5.5"/>
<circle cx="206.7" cy="319.5" r="5.5"/>
<circle cx="465.4" cy="340.3" r="5.5"/>
<circle cx="551.7" cy="320.3" r="5.5"/>
<circle cx="323.2" cy="337.1" r="5.5"/>
<circle cx="318.4" cy="339.3" r="5.5"/>
<circle cx="309.1" cy="344.2" r="5.5"/>
<circle cx="533.3" cy="350.4" r="5.5"/>
<circle cx="609.1" cy="337.3" r="5.5"/>
<circle cx="408.7" cy="352.8" r="5.5"/>
<circle cx="524.2" cy="338.5" r="5.5"/>
<circle cx="364.1" cy="324.2" r="5.5"/>
<circle cx="431.3" cy="358.2" r="5.5"/>
<circle cx="261.7" cy="335.0" r="5.5"/>
<circle cx="442.6" cy="325.6" r="5.5"/>
<circle cx="413.8" cy="327.8" r="5.5"/>
<circle cx="388.6" cy="332.5" r="5.5"/>
<circle cx="331.5" cy="330.0" r="5.5"/>
<circle cx="530.0" cy="344.2" r="5.5"/>
<circle cx="409.3" cy="342.4" r="5.5"/>
<circle cx="361.7" cy="320.2" r="5.5"/>
<circle cx="453.2" cy="354.1" r="5.5"/>
<circle cx="549.2" cy="335.5" r="5.5"/>
<circle cx="614.6" cy="333.1" r="5.5"/>
<circle cx="551.4" cy="330.4" r="5.5"/>
<circle cx="331.7" cy="318.5" r="5.5"/>
<circle cx="462.3" cy="336.5" r="5.5"/>
<circle cx="366.5" cy="331.3" r="5.5"/>
<circle cx="447.5" cy="346.7" r="5.5"/>
<circle cx="577.6" cy="347.4" r="5.5"/>
<circle cx="409.5" cy="347.3" r="5.5"/>
<circle cx="470.7" cy="342.4" r="5.5"/>
<circle cx="466.3" cy="330.3" r="5.5"/>
<circle cx="466.1" cy="341.7" r="5.5"/>
<circle cx="556.2" cy="348.4" r="5.5"/>
<circle cx="543.4" cy="340.3" r="5.5"/>
<circle cx="350.0" cy="323.2" r="5.5"/>
<circle cx="498.8" cy="353.7" r="5.5"/>
<circle cx="430.9" cy="317.6" r="5.5"/>
<circle cx="550.7" cy="334.2" r="5.5"/>
<circle cx="416.8" cy="347.2" r="5.5"/>
<circle cx="380.4" cy="327.8" r="5.5"/>
<circle cx="491.5" cy="330.1" r="5.5"/>
<circle cx="490.9" cy="340.2" r="5.5"/>
<circle cx="291.7" cy="320.4" r="5.5"/>
<circle cx="572.7" cy="323.5" r="5.5"/>
<circle cx="422.1" cy="328.4" r="5.5"/>
<circle cx="417.3" cy="346.8" r="5.5"/>
<circle cx="274.9" cy="342.7" r="5.5"/>
<circle cx="501.1" cy="350.8" r="5.5"/>
<circle cx="317.0" cy="340.5" r="5.5"/>
<circle cx="301.3" cy="338.1" r="5.5"/>
<circle cx="564.7" cy="326.5" r="5.5"/>
<circle cx="498.3" cy="352.2" r="5.5"/>
<circle cx="463.3" cy="325.8" r="5.5"/>
<circle cx="384.2" cy="348.1" r="5.5"/>
<circle cx="530.9" cy="319.5" r="5.5"/>
<circle cx="464.7" cy="318.3" r="5.5"/>
<circle cx="608.8" cy="332.2" r="5.5"/>
<circle cx="584.0" cy="346.4" r="5.5"/>
<circle cx="456.6" cy="323.1" r="5.5"/>
<circle cx="354.9" cy="347.6" r="5.5"/>
<circle cx="304.8" cy="345.9" r="5.5"/>
<circle cx="503.2" cy="325.3" r="5.5"/>
<circle cx="249.1" cy="329.9" r="5.5"/>
<circle cx="453.0" cy="354.4" r="5.5"/>
<circle cx="497.1" cy="350.7" r="5.5"/>
<circle cx="605.1" cy="340.7" r="5.5"/>
<circle cx="244.5" cy="330.0" r="5.5"/>
<circle cx="410.4" cy="328.9" r="5.5"/>
<circle cx="275.0" cy="321.6" r="5.5"/>
<circle cx="545.4" cy="333.1" r="5.5"/>
<circle cx="445.7" cy="320.6" r="5.5"/>
<circle cx="501.7" cy="326.5" r="5.5"/>
<circle cx="451.4" cy="355.5" r="5.5"/>
<circle cx="535.9" cy="352.9" r="5.5"/>
<circle cx="337.6" cy="329.2" r="5.5"/>
<circle cx="445.8" cy="355.9" r="5.5"/>
<circle cx="519.8" cy="317.6" r="5.5"/>
<circle cx="265.2" cy="343.2" r="5.5"/>
<circle cx="228.7" cy="329.0" r="5.5"/>
<circle cx="258.9" cy="333.1" r="5.5"/>
<circle cx="469.6" cy="347.2" r="5.5"/>
<circle cx="490.0" cy="352.3" r="5.5"/>
<circle cx="480.2" cy="329.5" r="5.5"/>
<circle cx="466.9" cy="358.5" r="5.5"/>
<circle cx="599.6" cy="257.0" r="5.5"/>
<circle cx="662.7" cy="310.3" r="5.5"/>
<circle cx="649.2" cy="275.3" r="5.5"/>
<circle cx="644.1" cy="299.8" r="5.5"/>
<circle cx="629.9" cy="282.3" r="5.5"/>
<circle cx="671.9" cy="294.6" r="5.5"/>
<circle cx="631.0" cy="272.0" r="5.5"/>
<circle cx="597.9" cy="252.3" r="5.5"/>
<circle cx="632.7" cy="276.1" r="5.5"/>
<circle cx="625.8" cy="323.1" r="5.5"/>
<circle cx="637.6" cy="296.0" r="5.5"/>
<circle cx="621.3" cy="261.2" r="5.5"/>
<circle cx="667.4" cy="315.3" r="5.5"/>
<circle cx="654.5" cy="324.3" r="5.5"/>
<circle cx="656.8" cy="314.8" r="5.5"/>
<circle cx="656.1" cy="308.6" r="5.5"/>
<circle cx="632.4" cy="293.5" r="5.5"/>
<circle cx="634.7" cy="325.8" r="5.5"/>
<circle cx="635.6" cy="318.2" r="5.5"/>
<circle cx="623.7" cy="322.4" r="5.5"/>
<circle cx="667.9" cy="287.8" r="5.5"/>
<circle cx="641.0" cy="325.5" r="5.5"/>
<circle cx="321.0" cy="240.1" r="5.5"/>
<circle cx="325.3" cy="245.6" r="5.5"/>
<circle cx="413.0" cy="237.3" r="5.5"/>
<circle cx="300.5" cy="235.2" r="5.5"/>
<circle cx="413.5" cy="234.6" r="5.5"/>
<circle cx="464.4" cy="246.9" r="5.5"/>
<circle cx="365.9" cy="217.9" r="5.5"/>
<circle cx="317.1" cy="251.2" r="5.5"/>
<circle cx="427.2" cy="239.7" r="5.5"/>
<circle cx="378.6" cy="233.6" r="5.5"/>
<circle cx="335.5" cy="235.2" r="5.5"/>
<circle cx="320.5" cy="240.4" r="5.5"/>
<circle cx="415.5" cy="243.2" r="5.5"/>
<circle cx="357.3" cy="244.2" r="5.5"/>
<circle cx="391.9" cy="247.6" r="5.5"/>
<circle cx="376.5" cy="227.7" r="5.5"/>
<circle cx="332.6" cy="238.6" r="5.5"/>
<circle cx="415.8" cy="229.7" r="5.5"/>
<circle cx="401.4" cy="230.1" r="5.5"/>
<circle cx="423.1" cy="255.7" r="5.5"/>
<circle cx="453.7" cy="241.4" r="5.5"/>
<circle cx="384.1" cy="259.0" r="5.5"/>
<circle cx="379.6" cy="240.7" r="5.5"/>
<circle cx="462.2" cy="244.0" r="5.5"/>
<circle cx="368.6" cy="247.4" r="5.5"/>
<circle cx="409.7" cy="257.2" r="5.5"/>
<circle cx="414.1" cy="235.4" r="5.5"/>
<circle cx="370.1" cy="258.4" r="5.5"/>
<circle cx="306.2" cy="253.9" r="5.5"/>
<circle cx="341.9" cy="244.0" r="5.5"/>
<circle cx="379.8" cy="242.8" r="5.5"/>
<circle cx="335.3" cy="228.6" r="5.5"/>
<circle cx="320.0" cy="232.3" r="5.5"/>
<circle cx="368.3" cy="213.6" r="5.5"/>
<circle cx="315.3" cy="213.6" r="5.5"/>
<circle cx="373.9" cy="223.1" r="5.5"/>
<circle cx="339.7" cy="215.7" r="5.5"/>
<circle cx="350.2" cy="247.4" r="5.5"/>
<circle cx="331.5" cy="231.5" r="5.5"/>
<circle cx="450.1" cy="252.3" r="5.5"/>
<circle cx="382.6" cy="253.0" r="5.5"/>
<circle cx="310.2" cy="214.7" r="5.5"/>
<circle cx="456.1" cy="260.1" r="5.5"/>
<circle cx="293.5" cy="220.8" r="5.5"/>
<circle cx="334.9" cy="242.0" r="5.5"/>
<circle cx="429.6" cy="257.5" r="5.5"/>
<circle cx="430.2" cy="259.7" r="5.5"/>
<circle cx="417.1" cy="232.1" r="5.5"/>
<circle cx="444.6" cy="246.5" r="5.5"/>
<circle cx="328.9" cy="259.1" r="5.5"/>
<circle cx="319.8" cy="230.7" r="5.5"/>
<circle cx="409.9" cy="232.5" r="5.5"/>
<circle cx="464.3" cy="259.5" r="5.5"/>
<circle cx="358.9" cy="212.7" r="5.5"/>
<circle cx="340.7" cy="212.9" r="5.5"/>
<circle cx="293.8" cy="238.2" r="5.5"/>
<circle cx="347.1" cy="236.7" r="5.5"/>
<circle cx="440.6" cy="248.0" r="5.5"/>
<circle cx="391.3" cy="236.7" r="5.5"/>
<circle cx="409.3" cy="231.9" r="5.5"/>
<circle cx="345.5" cy="256.5" r="5.5"/>
<circle cx="464.1" cy="245.0" r="5.5"/>
<circle cx="307.6" cy="244.6" r="5.5"/>
<circle cx="312.6" cy="247.8" r="5.5"/>
<circle cx="326.7" cy="260.7" r="5.5"/>
<circle cx="336.7" cy="255.4" r="5.5"/>
<circle cx="318.4" cy="224.3" r="5.5"/>
<circle cx="384.6" cy="225.4" r="5.5"/>
<circle cx="313.4" cy="244.4" r="5.5"/>
<circle cx="358.5" cy="232.8" r="5.5"/>
<circle cx="302.7" cy="244.2" r="5.5"/>
<circle cx="380.6" cy="261.7" r="5.5"/>
<circle cx="455.3" cy="261.4" r="5.5"/>
<circle cx="395.7" cy="260.4" r="5.5"/>
<circle cx="303.0" cy="231.9" r="5.5"/>
<circle cx="378.4" cy="230.6" r="5.5"/>
<circle cx="366.4" cy="251.3" r="5.5"/>
<circle cx="355.2" cy="250.8" r="5.5"/>
<circle cx="437.8" cy="251.4" r="5.5"/>
<circle cx="425.6" cy="257.2" r="5.5"/>
<circle cx="457.6" cy="241.1" r="5.5"/>
<circle cx="460.6" cy="253.9" r="5.5"/>
<circle cx="436.7" cy="258.0" r="5.5"/>
<circle cx="326.1" cy="217.5" r="5.5"/>
<circle cx="425.3" cy="251.8" r="5.5"/>
<circle cx="452.5" cy="244.3" r="5.5"/>
<circle cx="483.8" cy="260.4" r="5.5"/>
<circle cx="378.1" cy="257.5" r="5.5"/>
<circle cx="370.4" cy="251.3" r="5.5"/>
<circle cx="293.9" cy="235.6" r="5.5"/>
<circle cx="377.4" cy="221.1" r="5.5"/>
<circle cx="304.7" cy="234.8" r="5.5"/>
<circle cx="370.7" cy="243.7" r="5.5"/>
<circle cx="307.6" cy="249.8" r="5.5"/>
<circle cx="308.3" cy="231.8" r="5.5"/>
<circle cx="363.9" cy="253.9" r="5.5"/>
<circle cx="467.0" cy="247.0" r="5.5"/>
<circle cx="349.7" cy="223.5" r="5.5"/>
<circle cx="416.5" cy="246.3" r="5.5"/>
<circle cx="329.6" cy="226.9" r="5.5"/>
<circle cx="294.8" cy="233.6" r="5.5"/>
<circle cx="347.5" cy="239.0" r="5.5"/>
<circle cx="389.9" cy="226.3" r="5.5"/>
<circle cx="469.6" cy="253.1" r="5.5"/>
<circle cx="465.4" cy="247.3" r="5.5"/>
<circle cx="360.0" cy="240.3" r="5.5"/>
<circle cx="348.8" cy="242.0" r="5.5"/>
<circle cx="361.7" cy="214.0" r="5.5"/>
<circle cx="363.6" cy="227.1" r="5.5"/>
<circle cx="310.3" cy="241.8" r="5.5"/>
<circle cx="359.4" cy="251.0" r="5.5"/>
<circle cx="339.6" cy="246.8" r="5.5"/>
<circle cx="364.6" cy="260.4" r="5.5"/>
<circle cx="371.1" cy="223.7" r="5.5"/>
<circle cx="322.1" cy="252.3" r="5.5"/>
<circle cx="355.9" cy="255.1" r="5.5"/>
<circle cx="486.6" cy="256.3" r="5.5"/>
<circle cx="438.8" cy="239.3" r="5.5"/>
<circle cx="439.7" cy="259.0" r="5.5"/>
<circle cx="330.7" cy="218.8" r="5.5"/>
<circle cx="485.1" cy="252.5" r="5.5"/>
<circle cx="411.9" cy="239.3" r="5.5"/>
<circle cx="405.7" cy="249.4" r="5.5"/>
<circle cx="385.6" cy="255.9" r="5.5"/>
<circle cx="469.5" cy="257.8" r="5.5"/>
<circle cx="330.3" cy="216.5" r="5.5"/>
<circle cx="429.7" cy="231.0" r="5.5"/>
<circle cx="365.4" cy="247.8" r="5.5"/>
<circle cx="357.7" cy="212.4" r="5.5"/>
<circle cx="400.0" cy="255.0" r="5.5"/>
<circle cx="312.1" cy="223.9" r="5.5"/>
<circle cx="388.3" cy="242.6" r="5.5"/>
<circle cx="332.5" cy="221.5" r="5.5"/>
<circle cx="360.3" cy="240.2" r="5.5"/>
<circle cx="427.5" cy="254.3" r="5.5"/>
<circle cx="402.7" cy="253.7" r="5.5"/>
<circle cx="467.0" cy="257.8" r="5.5"/>
<circle cx="472.2" cy="244.6" r="5.5"/>
<circle cx="312.9" cy="257.6" r="5.5"/>
<circle cx="373.2" cy="224.3" r="5.5"/>
<circle cx="399.6" cy="248.1" r="5.5"/>
<circle cx="445.6" cy="258.6" r="5.5"/>
<circle cx="483.7" cy="258.7" r="5.5"/>
<circle cx="404.1" cy="255.7" r="5.5"/>
<circle cx="407.8" cy="253.4" r="5.5"/>
<circle cx="316.2" cy="247.8" r="5.5"/>
<circle cx="475.8" cy="256.6" r="5.5"/>
<circle cx="382.7" cy="230.6" r="5.5"/>
<circle cx="316.4" cy="253.5" r="5.5"/>
<circle cx="345.3" cy="212.0" r="5.5"/>
<circle cx="311.9" cy="258.1" r="5.5"/>
<circle cx="373.5" cy="250.2" r="5.5"/>
<circle cx="305.8" cy="232.4" r="5.5"/>
<circle cx="438.2" cy="249.0" r="5.5"/>
<circle cx="329.3" cy="232.4" r="5.5"/>
<circle cx="451.3" cy="257.1" r="5.5"/>
<circle cx="310.4" cy="238.5" r="5.5"/>
<circle cx="466.4" cy="240.3" r="5.5"/>
<circle cx="448.5" cy="237.1" r="5.5"/>
<circle cx="327.5" cy="258.6" r="5.5"/>
<circle cx="296.4" cy="247.0" r="5.5"/>
<circle cx="412.2" cy="242.6" r="5.5"/>
<circle cx="430.9" cy="245.9" r="5.5"/>
<circle cx="326.5" cy="229.2" r="5.5"/>
<circle cx="408.1" cy="254.4" r="5.5"/>
<circle cx="418.6" cy="232.8" r="5.5"/>
<circle cx="452.6" cy="253.1" r="5.5"/>
<circle cx="341.0" cy="215.5" r="5.5"/>
<circle cx="293.1" cy="254.7" r="5.5"/>
<circle cx="333.5" cy="238.0" r="5.5"/>
<circle cx="395.0" cy="242.5" r="5.5"/>
<circle cx="475.9" cy="242.4" r="5.5"/>
<circle cx="325.7" cy="229.6" r="5.5"/>
<circle cx="328.3" cy="226.8" r="5.5"/>
<circle cx="437.1" cy="242.2" r="5.5"/>
<circle cx="415.2" cy="254.2" r="5.5"/>
<circle cx="429.5" cy="241.8" r="5.5"/>
<circle cx="297.3" cy="261.5" r="5.5"/>
<circle cx="370.2" cy="243.4" r="5.5"/>
<circle cx="337.0" cy="229.1" r="5.5"/>
<circle cx="315.1" cy="260.2" r="5.5"/>
<circle cx="300.2" cy="209.1" r="5.5"/>
<circle cx="434.4" cy="237.8" r="5.5"/>
<circle cx="355.3" cy="258.6" r="5.5"/>
<circle cx="431.5" cy="258.4" r="5.5"/>
<circle cx="367.7" cy="261.6" r="5.5"/>
<circle cx="398.6" cy="229.9" r="5.5"/>
<circle cx="430.6" cy="234.8" r="5.5"/>
<circle cx="380.8" cy="228.9" r="5.5"/>
<circle cx="464.4" cy="251.2" r="5.5"/>
<circle cx="339.5" cy="227.7" r="5.5"/>
<circle cx="468.5" cy="246.6" r="5.5"/>
<circle cx="409.8" cy="240.9" r="5.5"/>
<circle cx="331.5" cy="237.4" r="5.5"/>
<circle cx="372.2" cy="229.6" r="5.5"/>
<circle cx="443.6" cy="234.9" r="5.5"/>
<circle cx="341.1" cy="219.3" r="5.5"/>
<circle cx="344.8" cy="214.2" r="5.5"/>
<circle cx="308.5" cy="242.5" r="5.5"/>
<circle cx="337.3" cy="238.3" r="5.5"/>
<circle cx="355.9" cy="231.2" r="5.5"/>
<circle cx="404.2" cy="261.9" r="5.5"/>
<circle cx="365.9" cy="225.7" r="5.5"/>
<circle cx="430.8" cy="237.5" r="5.5"/>
<circle cx="416.6" cy="234.1" r="5.5"/>
<circle cx="410.3" cy="232.9" r="5.5"/>
<circle cx="323.8" cy="212.1" r="5.5"/>
<circle cx="369.8" cy="262.0" r="5.5"/>
<circle cx="391.8" cy="233.5" r="5.5"/>
<circle cx="379.8" cy="249.2" r="5.5"/>
<circle cx="361.4" cy="227.2" r="5.5"/>
<circle cx="357.8" cy="237.6" r="5.5"/>
<circle cx="386.0" cy="239.4" r="5.5"/>
<circle cx="414.4" cy="261.6" r="5.5"/>
<circle cx="437.5" cy="253.1" r="5.5"/>
<circle cx="361.6" cy="212.3" r="5.5"/>
<circle cx="445.2" cy="257.6" r="5.5"/>
<circle cx="472.0" cy="250.8" r="5.5"/>
<circle cx="412.7" cy="250.8" r="5.5"/>
<circle cx="413.6" cy="242.0" r="5.5"/>
<circle cx="362.4" cy="251.1" r="5.5"/>
<circle cx="292.4" cy="222.0" r="5.5"/>
<circle cx="346.8" cy="255.5" r="5.5"/>
<circle cx="296.0" cy="212.3" r="5.5"/>
<circle cx="319.4" cy="236.9" r="5.5"/>
<circle cx="405.9" cy="253.6" r="5.5"/>
<circle cx="293.0" cy="248.5" r="5.5"/>
<circle cx="388.7" cy="227.1" r="5.5"/>
<circle cx="369.4" cy="241.3" r="5.5"/>
<circle cx="294.9" cy="239.4" r="5.5"/>
<circle cx="320.6" cy="258.8" r="5.5"/>
<circle cx="394.8" cy="228.5" r="5.5"/>
<circle cx="306.0" cy="248.4" r="5.5"/>
<circle cx="376.3" cy="253.0" r="5.5"/>
<circle cx="440.7" cy="252.1" r="5.5"/>
<circle cx="402.7" cy="237.5" r="5.5"/>
<circle cx="413.1" cy="247.5" r="5.5"/>
<circle cx="441.7" cy="242.1" r="5.5"/>
<circle cx="410.3" cy="235.9" r="5.5"/>
<circle cx="319.8" cy="220.5" r="5.5"/>
<circle cx="315.4" cy="239.0" r="5.5"/>
<circle cx="366.1" cy="254.4" r="5.5"/>
<circle cx="322.6" cy="235.6" r="5.5"/>
<circle cx="392.4" cy="231.8" r="5.5"/>
<circle cx="347.9" cy="259.3" r="5.5"/>
<circle cx="402.0" cy="233.6" r="5.5"/>
<circle cx="307.1" cy="207.2" r="5.5"/>
<circle cx="426.1" cy="245.4" r="5.5"/>
<circle cx="303.9" cy="226.6" r="5.5"/>
<circle cx="353.0" cy="242.0" r="5.5"/>
<circle cx="403.1" cy="254.1" r="5.5"/>
<circle cx="299.7" cy="232.3" r="5.5"/>
<circle cx="299.9" cy="230.4" r="5.5"/>
<circle cx="458.4" cy="247.3" r="5.5"/>
<circle cx="423.4" cy="254.7" r="5.5"/>
<circle cx="441.8" cy="258.0" r="5.5"/>
<circle cx="477.2" cy="254.8" r="5.5"/>
<circle cx="446.9" cy="260.2" r="5.5"/>
<circle cx="477.0" cy="240.9" r="5.5"/>
<circle cx="374.3" cy="244.5" r="5.5"/>
<circle cx="312.7" cy="237.6" r="5.5"/>
<circle cx="328.6" cy="210.9" r="5.5"/>
<circle cx="405.8" cy="236.6" r="5.5"/>
<circle cx="318.3" cy="235.7" r="5.5"/>
<circle cx="304.5" cy="211.2" r="5.5"/>
<circle cx="359.0" cy="258.9" r="5.5"/>
<circle cx="442.0" cy="255.6" r="5.5"/>
<circle cx="433.6" cy="243.2" r="5.5"/>
<circle cx="325.9" cy="212.3" r="5.5"/>
<circle cx="375.0" cy="224.4" r="5.5"/>
<circle cx="345.4" cy="249.2" r="5.5"/>
<circle cx="475.6" cy="258.5" r="5.5"/>
<circle cx="307.1" cy="214.5" r="5.5"/>
<circle cx="379.7" cy="248.9" r="5.5"/>
<circle cx="441.4" cy="252.8" r="5.5"/>
<circle cx="316.4" cy="236.8" r="5.5"/>
<circle cx="302.2" cy="244.2" r="5.5"/>
<circle cx="346.8" cy="226.8" r="5.5"/>
<circle cx="322.9" cy="261.4" r="5.5"/>
<circle cx="370.2" cy="232.7" r="5.5"/>
<circle cx="335.1" cy="243.5" r="5.5"/>
<circle cx="353.3" cy="233.4" r="5.5"/>
<circle cx="310.9" cy="229.5" r="5.5"/>
<circle cx="474.7" cy="244.7" r="5.5"/>
<circle cx="408.7" cy="253.5" r="5.5"/>
<circle cx="326.4" cy="245.3" r="5.5"/>
<circle cx="295.0" cy="239.6" r="5.5"/>
<circle cx="345.8" cy="245.2" r="5.5"/>
<circle cx="395.6" cy="261.5" r="5.5"/>
<circle cx="362.1" cy="233.0" r="5.5"/>
<circle cx="445.3" cy="248.3" r="5.5"/>
<circle cx="378.2" cy="226.6" r="5.5"/>
<circle cx="387.3" cy="224.7" r="5.5"/>
<circle cx="295.6" cy="243.8" r="5.5"/>
<circle cx="309.3" cy="221.9" r="5.5"/>
<circle cx="409.9" cy="254.4" r="5.5"/>
<circle cx="417.7" cy="259.6" r="5.5"/>
<circle cx="296.3" cy="250.8" r="5.5"/>
<circle cx="436.9" cy="245.3" r="5.5"/>
<circle cx="308.3" cy="259.3" r="5.5"/>
<circle cx="382.6" cy="254.8" r="5.5"/>
<circle cx="334.5" cy="252.6" r="5.5"/>
<circle cx="322.5" cy="221.2" r="5.5"/>
<circle cx="325.1" cy="236.4" r="5.5"/>
<circle cx="340.0" cy="245.3" r="5.5"/>
<circle cx="423.7" cy="234.8" r="5.5"/>
<circle cx="325.5" cy="233.7" r="5.5"/>
<circle cx="459.6" cy="260.2" r="5.5"/>
<circle cx="379.9" cy="244.6" r="5.5"/>
<circle cx="438.5" cy="259.0" r="5.5"/>
<circle cx="466.0" cy="241.5" r="5.5"/>
<circle cx="338.2" cy="254.5" r="5.5"/>
<circle cx="419.4" cy="246.2" r="5.5"/>
<circle cx="351.1" cy="234.2" r="5.5"/>
<circle cx="456.8" cy="261.3" r="5.5"/>
<circle cx="312.1" cy="223.8" r="5.5"/>
<circle cx="373.5" cy="258.0" r="5.5"/>
<circle cx="402.4" cy="250.5" r="5.5"/>
<circle cx="376.0" cy="261.1" r="5.5"/>
<circle cx="441.9" cy="260.6" r="5.5"/>
<circle cx="320.5" cy="244.0" r="5.5"/>
<circle cx="469.0" cy="259.7" r="5.5"/>
<circle cx="462.3" cy="238.2" r="5.5"/>
<circle cx="337.2" cy="220.3" r="5.5"/>
<circle cx="484.3" cy="249.2" r="5.5"/>
<circle cx="405.5" cy="254.7" r="5.5"/>
<circle cx="411.0" cy="229.4" r="5.5"/>
<circle cx="300.6" cy="211.5" r="5.5"/>
<circle cx="461.0" cy="240.6" r="5.5"/>
<circle cx="311.1" cy="260.2" r="5.5"/>
<circle cx="448.0" cy="241.1" r="5.5"/>
<circle cx="312.0" cy="218.6" r="5.5"/>
<circle cx="354.7" cy="237.2" r="5.5"/>
<circle cx="390.6" cy="237.3" r="5.5"/>
<circle cx="297.9" cy="225.8" r="5.5"/>
<circle cx="317.9" cy="226.8" r="5.5"/>
<circle cx="294.3" cy="228.1" r="5.5"/>
<circle cx="460.6" cy="250.7" r="5.5"/>
<circle cx="453.8" cy="241.8" r="5.5"/>
<circle cx="391.9" cy="237.1" r="5.5"/>
<circle cx="479.9" cy="256.1" r="5.5"/>
<circle cx="346.6" cy="235.1" r="5.5"/>
<circle cx="314.9" cy="252.0" r="5.5"/>
<circle cx="468.8" cy="260.9" r="5.5"/>
<circle cx="310.2" cy="260.5" r="5.5"/>
<circle cx="312.2" cy="248.1" r="5.5"/>
<circle cx="408.6" cy="251.0" r="5.5"/>
<circle cx="447.7" cy="251.8" r="5.5"/>
<circle cx="422.9" cy="234.0" r="5.5"/>
<circle cx="397.4" cy="248.5" r="5.5"/>
<circle cx="438.8" cy="243.0" r="5.5"/>
<circle cx="357.6" cy="227.8" r="5.5"/>
<circle cx="343.5" cy="245.6" r="5.5"/>
<circle cx="294.9" cy="258.8" r="5.5"/>
<circle cx="322.8" cy="242.2" r="5.5"/>
<circle cx="298.7" cy="261.2" r="5.5"/>
<circle cx="338.2" cy="232.9" r="5.5"/>
<circle cx="412.5" cy="244.8" r="5.5"/>
<circle cx="334.4" cy="225.0" r="5.5"/>
<circle cx="367.2" cy="221.2" r="5.5"/>
<circle cx="357.1" cy="254.6" r="5.5"/>
<circle cx="423.5" cy="230.8" r="5.5"/>
<circle cx="317.4" cy="224.4" r="5.5"/>
<circle cx="432.3" cy="232.1" r="5.5"/>
<circle cx="441.2" cy="244.4" r="5.5"/>
<circle cx="389.8" cy="244.6" r="5.5"/>
<circle cx="390.5" cy="224.5" r="5.5"/>
<circle cx="485.6" cy="246.9" r="5.5"/>
<circle cx="383.2" cy="224.0" r="5.5"/>
<circle cx="463.6" cy="259.8" r="5.5"/>
<circle cx="402.0" cy="251.8" r="5.5"/>
<circle cx="304.4" cy="260.5" r="5.5"/>
<circle cx="456.0" cy="260.0" r="5.5"/>
<circle cx="383.4" cy="249.7" r="5.5"/>
<circle cx="312.4" cy="212.9" r="5.5"/>
<circle cx="436.4" cy="246.7" r="5.5"/>
<circle cx="304.8" cy="253.1" r="5.5"/>
<circle cx="401.8" cy="233.6" r="5.5"/>
<circle cx="462.2" cy="237.5" r="5.5"/>
<circle cx="374.1" cy="224.3" r="5.5"/>
<circle cx="328.7" cy="254.4" r="5.5"/>
<circle cx="407.5" cy="257.9" r="5.5"/>
<circle cx="416.8" cy="248.5" r="5.5"/>
<circle cx="404.3" cy="233.5" r="5.5"/>
<circle cx="316.9" cy="260.8" r="5.5"/>
<circle cx="296.5" cy="251.1" r="5.5"/>
<circle cx="486.8" cy="244.8" r="5.5"/>
<circle cx="433.0" cy="240.0" r="5.5"/>
<circle cx="304.5" cy="250.8" r="5.5"/>
<circle cx="325.6" cy="244.1" r="5.5"/>
<circle cx="320.3" cy="241.7" r="5.5"/>
<circle cx="303.0" cy="260.3" r="5.5"/>
<circle cx="385.7" cy="238.5" r="5.5"/>
<circle cx="320.5" cy="244.4" r="5.5"/>
<circle cx="344.2" cy="250.8" r="5.5"/>
<circle cx="482.4" cy="258.0" r="5.5"/>
<circle cx="313.9" cy="232.7" r="5.5"/>
<circle cx="295.6" cy="249.3" r="5.5"/>
<circle cx="436.9" cy="251.1" r="5.5"/>
<circle cx="348.2" cy="236.5" r="5.5"/>
<circle cx="432.2" cy="259.9" r="5.5"/>
<circle cx="484.5" cy="261.5" r="5.5"/>
<circle cx="451.0" cy="258.5" r="5.5"/>
<circle cx="367.5" cy="221.8" r="5.5"/>
<circle cx="342.6" cy="239.8" r="5.5"/>
<circle cx="370.6" cy="257.8" r="5.5"/>
<circle cx="319.3" cy="225.0" r="5.5"/>
<circle cx="433.8" cy="234.5" r="5.5"/>
<circle cx="431.8" cy="258.8" r="5.5"/>
<circle cx="426.8" cy="260.1" r="5.5"/>
<circle cx="365.8" cy="224.2" r="5.5"/>
<circle cx="409.7" cy="260.5" r="5.5"/>
<circle cx="424.0" cy="243.2" r="5.5"/>
<circle cx="311.5" cy="246.9" r="5.5"/>
<circle cx="384.2" cy="242.1" r="5.5"/>
<circle cx="367.0" cy="246.5" r="5.5"/>
<circle cx="327.4" cy="234.2" r="5.5"/>
<circle cx="309.4" cy="248.2" r="5.5"/>
<circle cx="345.4" cy="217.3" r="5.5"/>
<circle cx="386.0" cy="249.4" r="5.5"/>
<circle cx="312.7" cy="229.8" r="5.5"/>
<circle cx="293.7" cy="232.0" r="5.5"/>
<circle cx="312.2" cy="243.5" r="5.5"/>
<circle cx="481.7" cy="239.1" r="5.5"/>
<circle cx="379.7" cy="236.4" r="5.5"/>
<circle cx="448.7" cy="247.4" r="5.5"/>
<circle cx="470.0" cy="257.9" r="5.5"/>
<circle cx="330.6" cy="256.2" r="5.5"/>
<circle cx="420.7" cy="230.5" r="5.5"/>
<circle cx="360.4" cy="230.8" r="5.5"/>
<circle cx="300.5" cy="251.3" r="5.5"/>
<circle cx="333.7" cy="216.6" r="5.5"/>
<circle cx="466.7" cy="245.6" r="5.5"/>
<circle cx="480.2" cy="256.9" r="5.5"/>
<circle cx="463.7" cy="258.9" r="5.5"/>
<circle cx="356.5" cy="253.6" r="5.5"/>
<circle cx="371.0" cy="258.1" r="5.5"/>
<circle cx="299.3" cy="241.1" r="5.5"/>
<circle cx="342.8" cy="204.7" r="5.5"/>
<circle cx="440.6" cy="223.9" r="5.5"/>
<circle cx="318.6" cy="203.7" r="5.5"/>
<circle cx="352.7" cy="196.2" r="5.5"/>
<circle cx="382.2" cy="220.1" r="5.5"/>
<circle cx="418.2" cy="224.2" r="5.5"/>
<circle cx="401.6" cy="225.5" r="5.5"/>
<circle cx="338.6" cy="208.3" r="5.5"/>
<circle cx="430.6" cy="231.9" r="5.5"/>
<circle cx="296.3" cy="195.3" r="5.5"/>
<circle cx="363.3" cy="208.9" r="5.5"/>
<circle cx="350.9" cy="212.4" r="5.5"/>
<circle cx="352.8" cy="204.0" r="5.5"/>
<circle cx="355.1" cy="210.0" r="5.5"/>
<circle cx="336.1" cy="198.5" r="5.5"/>
<circle cx="450.1" cy="237.3" r="5.5"/>
<circle cx="328.0" cy="207.0" r="5.5"/>
<circle cx="317.4" cy="207.8" r="5.5"/>
<circle cx="359.9" cy="214.5" r="5.5"/>
<circle cx="374.3" cy="214.1" r="5.5"/>
<circle cx="421.9" cy="220.0" r="5.5"/>
<circle cx="348.7" cy="210.4" r="5.5"/>
<circle cx="325.7" cy="208.2" r="5.5"/>
<circle cx="421.9" cy="220.3" r="5.5"/>
<circle cx="361.0" cy="202.7" r="5.5"/>
<circle cx="301.8" cy="206.7" r="5.5"/>
<circle cx="374.9" cy="217.5" r="5.5"/>
<circle cx="302.7" cy="198.9" r="5.5"/>
<circle cx="483.0" cy="238.1" r="5.5"/>
<circle cx="353.9" cy="209.0" r="5.5"/>
<circle cx="329.5" cy="209.8" r="5.5"/>
<circle cx="307.7" cy="201.6" r="5.5"/>
<circle cx="528.3" cy="317.8" r="5.5"/>
<circle cx="518.7" cy="276.6" r="5.5"/>
<circle cx="501.9" cy="307.7" r="5.5"/>
<circle cx="521.9" cy="263.1" r="5.5"/>
<circle cx="495.0" cy="319.3" r="5.5"/>
<circle cx="493.0" cy="303.9" r="5.5"/>
<circle cx="501.8" cy="303.3" r="5.5"/>
<circle cx="524.2" cy="299.2" r="5.5"/>
<circle cx="504.4" cy="282.6" r="5.5"/>
<circle cx="514.1" cy="302.2" r="5.5"/>
<circle cx="505.2" cy="291.8" r="5.5"/>
<circle cx="510.5" cy="278.5" r="5.5"/>
<circle cx="495.5" cy="298.4" r="5.5"/>
<circle cx="492.2" cy="300.3" r="5.5"/>
<circle cx="521.7" cy="315.0" r="5.5"/>
<circle cx="498.6" cy="288.5" r="5.5"/>
<circle cx="526.8" cy="284.4" r="5.5"/>
<circle cx="529.6" cy="274.8" r="5.5"/>
<circle cx="523.3" cy="264.6" r="5.5"/>
<circle cx="516.0" cy="313.6" r="5.5"/>
<circle cx="511.0" cy="302.5" r="5.5"/>
<circle cx="526.4" cy="325.8" r="5.5"/>
<circle cx="495.5" cy="295.5" r="5.5"/>
<circle cx="489.7" cy="286.2" r="5.5"/>
<circle cx="494.1" cy="272.3" r="5.5"/>
<circle cx="514.2" cy="267.4" r="5.5"/>
<circle cx="494.5" cy="262.6" r="5.5"/>
<circle cx="522.2" cy="277.6" r="5.5"/>
<circle cx="491.0" cy="301.7" r="5.5"/>
<circle cx="518.1" cy="302.4" r="5.5"/>
<circle cx="511.0" cy="296.2" r="5.5"/>
<circle cx="518.2" cy="281.9" r="5.5"/>
<circle cx="523.4" cy="306.4" r="5.5"/>
<circle cx="524.0" cy="319.0" r="5.5"/>
<circle cx="523.3" cy="295.2" r="5.5"/>
<circle cx="509.9" cy="309.0" r="5.5"/>
<circle cx="512.3" cy="263.8" r="5.5"/>
<circle cx="526.5" cy="274.7" r="5.5"/>
<circle cx="508.3" cy="291.0" r="5.5"/>
<circle cx="491.9" cy="299.0" r="5.5"/>
<circle cx="512.8" cy="314.0" r="5.5"/>
<circle cx="513.7" cy="281.6" r="5.5"/>
<circle cx="511.7" cy="323.4" r="5.5"/>
<circle cx="514.7" cy="316.0" r="5.5"/>
<circle cx="488.5" cy="306.1" r="5.5"/>
<circle cx="496.9" cy="272.4" r="5.5"/>
<circle cx="501.9" cy="273.4" r="5.5"/>
<circle cx="491.6" cy="275.5" r="5.5"/>
<circle cx="497.7" cy="278.0" r="5.5"/>
<circle cx="521.6" cy="267.3" r="5.5"/>
<circle cx="496.4" cy="265.5" r="5.5"/>
<circle cx="509.3" cy="276.7" r="5.5"/>
<circle cx="510.3" cy="277.2" r="5.5"/>
<circle cx="496.3" cy="293.2" r="5.5"/>
<circle cx="491.0" cy="318.6" r="5.5"/>
<circle cx="511.6" cy="287.3" r="5.5"/>
<circle cx="511.1" cy="322.6" r="5.5"/>
<circle cx="508.8" cy="287.2" r="5.5"/>
<circle cx="497.1" cy="286.3" r="5.5"/>
<circle cx="520.5" cy="301.2" r="5.5"/>
<circle cx="499.6" cy="319.5" r="5.5"/>
<circle cx="493.6" cy="284.8" r="5.5"/>
<circle cx="520.6" cy="320.6" r="5.5"/>
<circle cx="507.3" cy="262.7" r="5.5"/>
<circle cx="511.6" cy="289.3" r="5.5"/>
<circle cx="489.2" cy="284.3" r="5.5"/>
<circle cx="525.0" cy="264.4" r="5.5"/>
<circle cx="495.5" cy="272.7" r="5.5"/>
<circle cx="521.5" cy="281.7" r="5.5"/>
<circle cx="516.8" cy="305.2" r="5.5"/>
<circle cx="488.5" cy="290.0" r="5.5"/>
<circle cx="493.0" cy="313.2" r="5.5"/>
<circle cx="508.6" cy="285.6" r="5.5"/>
<circle cx="522.1" cy="314.6" r="5.5"/>
<circle cx="490.9" cy="268.1" r="5.5"/>
<circle cx="501.6" cy="282.0" r="5.5"/>
<circle cx="506.5" cy="289.4" r="5.5"/>
<circle cx="528.8" cy="305.0" r="5.5"/>
<circle cx="528.4" cy="301.6" r="5.5"/>
<circle cx="497.8" cy="298.3" r="5.5"/>
<circle cx="494.7" cy="299.4" r="5.5"/>
<circle cx="494.0" cy="321.6" r="5.5"/>
<circle cx="500.7" cy="319.2" r="5.5"/>
<circle cx="497.2" cy="275.3" r="5.5"/>
<circle cx="498.3" cy="314.7" r="5.5"/>
<circle cx="522.8" cy="309.7" r="5.5"/>
<circle cx="512.1" cy="271.3" r="5.5"/>
<circle cx="498.0" cy="264.1" r="5.5"/>
<circle cx="527.1" cy="270.2" r="5.5"/>
<circle cx="518.1" cy="262.0" r="5.5"/>
<circle cx="500.0" cy="300.6" r="5.5"/>
<circle cx="495.7" cy="266.5" r="5.5"/>
<circle cx="525.6" cy="280.4" r="5.5"/>
<circle cx="488.3" cy="307.1" r="5.5"/>
<circle cx="529.5" cy="296.9" r="5.5"/>
<circle cx="489.5" cy="288.7" r="5.5"/>
<circle cx="513.6" cy="277.7" r="5.5"/>
<circle cx="505.5" cy="309.5" r="5.5"/>
<circle cx="515.6" cy="315.2" r="5.5"/>
<circle cx="527.9" cy="295.2" r="5.5"/>
<circle cx="529.2" cy="269.5" r="5.5"/>
<circle cx="509.7" cy="305.2" r="5.5"/>
<circle cx="527.0" cy="292.1" r="5.5"/>
<circle cx="506.3" cy="319.1" r="5.5"/>
<circle cx="507.8" cy="265.7" r="5.5"/>
<circle cx="507.0" cy="279.3" r="5.5"/>
<circle cx="515.5" cy="314.2" r="5.5"/>
<circle cx="490.0" cy="282.3" r="5.5"/>
<circle cx="525.8" cy="313.8" r="5.5"/>
<circle cx="520.9" cy="286.9" r="5.5"/>
<circle cx="528.1" cy="316.3" r="5.5"/>
<circle cx="522.4" cy="296.8" r="5.5"/>
<circle cx="514.9" cy="270.4" r="5.5"/>
<circle cx="489.5" cy="262.9" r="5.5"/>
<circle cx="490.3" cy="294.6" r="5.5"/>
<circle cx="527.7" cy="298.8" r="5.5"/>
<circle cx="521.1" cy="310.3" r="5.5"/>
<circle cx="527.7" cy="279.7" r="5.5"/>
<circle cx="508.9" cy="321.2" r="5.5"/>
<circle cx="501.9" cy="306.7" r="5.5"/>
<circle cx="505.3" cy="271.8" r="5.5"/>
<circle cx="496.5" cy="285.0" r="5.5"/>
<circle cx="489.2" cy="318.4" r="5.5"/>
<circle cx="502.9" cy="277.4" r="5.5"/>
<circle cx="521.6" cy="262.4" r="5.5"/>
<circle cx="520.0" cy="290.8" r="5.5"/>
<circle cx="491.8" cy="287.5" r="5.5"/>
<circle cx="529.4" cy="264.5" r="5.5"/>
<circle cx="499.9" cy="273.4" r="5.5"/>
<circle cx="512.9" cy="274.7" r="5.5"/>
<circle cx="523.6" cy="285.3" r="5.5"/>
<circle cx="527.9" cy="269.8" r="5.5"/>
<circle cx="497.7" cy="263.7" r="5.5"/>
<circle cx="489.9" cy="273.7" r="5.5"/>
<circle cx="512.7" cy="297.2" r="5.5"/>
<circle cx="518.5" cy="277.0" r="5.5"/>
<circle cx="513.2" cy="325.0" r="5.5"/>
<circle cx="501.5" cy="277.1" r="5.5"/>
<circle cx="495.8" cy="323.8" r="5.5"/>
<circle cx="514.7" cy="293.6" r="5.5"/>
<circle cx="508.8" cy="267.1" r="5.5"/>
<circle cx="497.5" cy="306.8" r="5.5"/>
<circle cx="498.6" cy="294.9" r="5.5"/>
<circle cx="526.0" cy="273.7" r="5.5"/>
<circle cx="507.8" cy="310.8" r="5.5"/>
<circle cx="519.3" cy="314.9" r="5.5"/>
<circle cx="526.2" cy="299.0" r="5.5"/>
<circle cx="497.5" cy="294.6" r="5.5"/>
<circle cx="526.9" cy="274.7" r="5.5"/>
<circle cx="500.3" cy="274.6" r="5.5"/>
<circle cx="547.2" cy="257.8" r="5.5"/>
<circle cx="558.9" cy="261.8" r="5.5"/>
<circle cx="534.9" cy="280.5" r="5.5"/>
<circle cx="597.0" cy="310.8" r="5.5"/>
<circle cx="585.9" cy="266.9" r="5.5"/>
<circle cx="569.2" cy="271.0" r="5.5"/>
<circle cx="542.6" cy="258.1" r="5.5"/>
<circle cx="545.7" cy="320.5" r="5.5"/>
<circle cx="590.5" cy="311.3" r="5.5"/>
<circle cx="588.4" cy="264.7" r="5.5"/>
<circle cx="552.6" cy="297.7" r="5.5"/>
<circle cx="583.4" cy="315.0" r="5.5"/>
<circle cx="574.2" cy="301.0" r="5.5"/>
<circle cx="566.9" cy="263.5" r="5.5"/>
<circle cx="564.6" cy="256.8" r="5.5"/>
<circle cx="598.2" cy="315.8" r="5.5"/>
<circle cx="570.0" cy="272.8" r="5.5"/>
<circle cx="596.3" cy="293.5" r="5.5"/>
<circle cx="594.4" cy="314.5" r="5.5"/>
<circle cx="567.1" cy="281.5" r="5.5"/>
<circle cx="573.7" cy="282.8" r="5.5"/>
<circle cx="541.8" cy="273.2" r="5.5"/>
<circle cx="533.4" cy="297.6" r="5.5"/>
<circle cx="550.5" cy="290.6" r="5.5"/>
<circle cx="564.4" cy="276.1" r="5.5"/>
<circle cx="560.1" cy="265.4" r="5.5"/>
<circle cx="576.2" cy="271.0" r="5.5"/>
<circle cx="556.0" cy="306.8" r="5.5"/>
<circle cx="553.4" cy="292.4" r="5.5"/>
<circle cx="534.5" cy="267.4" r="5.5"/>
<circle cx="585.9" cy="296.8" r="5.5"/>
<circle cx="547.3" cy="275.2" r="5.5"/>
<circle cx="543.0" cy="284.9" r="5.5"/>
<circle cx="533.1" cy="303.0" r="5.5"/>
<circle cx="531.3" cy="272.0" r="5.5"/>
<circle cx="600.5" cy="308.9" r="5.5"/>
<circle cx="560.0" cy="321.7" r="5.5"/>
<circle cx="575.3" cy="312.2" r="5.5"/>
<circle cx="551.4" cy="264.5" r="5.5"/>
<circle cx="562.4" cy="260.4" r="5.5"/>
<circle cx="557.9" cy="323.1" r="5.5"/>
<circle cx="533.3" cy="262.9" r="5.5"/>
<circle cx="587.2" cy="277.6" r="5.5"/>
<circle cx="551.2" cy="257.4" r="5.5"/>
<circle cx="545.2" cy="254.5" r="5.5"/>
<circle cx="534.0" cy="262.8" r="5.5"/>
<circle cx="579.4" cy="261.4" r="5.5"/>
<circle cx="533.0" cy="287.3" r="5.5"/>
<circle cx="538.9" cy="290.2" r="5.5"/>
<circle cx="586.5" cy="281.1" r="5.5"/>
<circle cx="547.7" cy="281.2" r="5.5"/>
<circle cx="532.7" cy="282.0" r="5.5"/>
<circle cx="548.1" cy="317.6" r="5.5"/>
<circle cx="590.7" cy="287.9" r="5.5"/>
<circle cx="532.3" cy="269.3" r="5.5"/>
<circle cx="547.7" cy="265.8" r="5.5"/>
<circle cx="546.9" cy="316.1" r="5.5"/>
<circle cx="597.7" cy="293.0" r="5.5"/>
<circle cx="595.8" cy="299.7" r="5.5"/>
<circle cx="587.7" cy="306.6" r="5.5"/>
<circle cx="566.1" cy="257.1" r="5.5"/>
<circle cx="545.4" cy="316.4" r="5.5"/>
<circle cx="595.7" cy="320.3" r="5.5"/>
<circle cx="554.6" cy="299.9" r="5.5"/>
<circle cx="588.4" cy="298.8" r="5.5"/>
<circle cx="589.5" cy="290.1" r="5.5"/>
<circle cx="577.8" cy="302.1" r="5.5"/>
<circle cx="549.6" cy="320.1" r="5.5"/>
<circle cx="578.8" cy="253.4" r="5.5"/>
<circle cx="600.7" cy="300.7" r="5.5"/>
<circle cx="534.4" cy="262.7" r="5.5"/>
<circle cx="576.4" cy="293.3" r="5.5"/>
<circle cx="584.5" cy="320.5" r="5.5"/>
<circle cx="589.1" cy="309.5" r="5.5"/>
<circle cx="594.1" cy="291.8" r="5.5"/>
<circle cx="579.0" cy="275.1" r="5.5"/>
<circle cx="595.1" cy="308.8" r="5.5"/>
<circle cx="564.4" cy="290.0" r="5.5"/>
<circle cx="573.4" cy="287.2" r="5.5"/>
<circle cx="593.1" cy="296.2" r="5.5"/>
<circle cx="540.1" cy="277.6" r="5.5"/>
<circle cx="586.0" cy="289.7" r="5.5"/>
<circle cx="530.8" cy="313.7" r="5.5"/>
<circle cx="569.7" cy="279.0" r="5.5"/>
<circle cx="587.5" cy="273.6" r="5.5"/>
<circle cx="547.1" cy="287.0" r="5.5"/>
<circle cx="538.4" cy="297.2" r="5.5"/>
<circle cx="594.6" cy="288.9" r="5.5"/>
<circle cx="561.7" cy="315.2" r="5.5"/>
<circle cx="586.7" cy="255.1" r="5.5"/>
<circle cx="552.1" cy="313.6" r="5.5"/>
<circle cx="560.8" cy="310.7" r="5.5"/>
<circle cx="542.2" cy="316.4" r="5.5"/>
<circle cx="542.9" cy="261.3" r="5.5"/>
<circle cx="566.1" cy="275.7" r="5.5"/>
<circle cx="569.6" cy="318.7" r="5.5"/>
<circle cx="552.8" cy="291.4" r="5.5"/>
<circle cx="565.5" cy="304.4" r="5.5"/>
<circle cx="565.4" cy="255.8" r="5.5"/>
<circle cx="547.9" cy="314.4" r="5.5"/>
<circle cx="556.0" cy="308.3" r="5.5"/>
<circle cx="602.0" cy="297.6" r="5.5"/>
<circle cx="579.4" cy="296.3" r="5.5"/>
<circle cx="552.9" cy="319.4" r="5.5"/>
<circle cx="564.1" cy="319.3" r="5.5"/>
<circle cx="552.3" cy="315.9" r="5.5"/>
<circle cx="587.4" cy="296.6" r="5.5"/>
<circle cx="562.3" cy="260.7" r="5.5"/>
<circle cx="586.3" cy="277.5" r="5.5"/>
<circle cx="578.3" cy="260.1" r="5.5"/>
<circle cx="536.0" cy="260.9" r="5.5"/>
<circle cx="589.1" cy="263.5" r="5.5"/>
<circle cx="595.8" cy="278.3" r="5.5"/>
<circle cx="572.0" cy="276.6" r="5.5"/>
<circle cx="575.3" cy="257.1" r="5.5"/>
<circle cx="559.4" cy="321.2" r="5.5"/>
<circle cx="543.1" cy="299.7" r="5.5"/>
<circle cx="553.8" cy="272.8" r="5.5"/>
<circle cx="599.3" cy="313.1" r="5.5"/>
<circle cx="588.5" cy="311.4" r="5.5"/>
<circle cx="572.6" cy="287.6" r="5.5"/>
<circle cx="571.9" cy="321.3" r="5.5"/>
<circle cx="538.5" cy="299.5" r="5.5"/>
<circle cx="579.3" cy="306.6" r="5.5"/>
<circle cx="575.1" cy="313.2" r="5.5"/>
<circle cx="552.1" cy="320.5" r="5.5"/>
<circle cx="559.6" cy="295.5" r="5.5"/>
<circle cx="595.5" cy="303.5" r="5.5"/>
<circle cx="250.6" cy="290.5" r="5.5"/>
<circle cx="266.4" cy="243.2" r="5.5"/>
<circle cx="264.3" cy="285.1" r="5.5"/>
<circle cx="175.8" cy="294.4" r="5.5"/>
<circle cx="201.0" cy="265.2" r="5.5"/>
<circle cx="242.5" cy="278.7" r="5.5"/>
<circle cx="255.8" cy="255.6" r="5.5"/>
<circle cx="218.2" cy="247.7" r="5.5"/>
<circle cx="188.3" cy="267.5" r="5.5"/>
<circle cx="159.7" cy="259.5" r="5.5"/>
<circle cx="265.6" cy="250.0" r="5.5"/>
<circle cx="211.0" cy="242.1" r="5.5"/>
<circle cx="254.5" cy="245.6" r="5.5"/>
<circle cx="175.0" cy="281.7" r="5.5"/>
<circle cx="212.2" cy="271.0" r="5.5"/>
<circle cx="236.1" cy="267.8" r="5.5"/>
<circle cx="209.7" cy="248.6" r="5.5"/>
<circle cx="169.3" cy="251.4" r="5.5"/>
<circle cx="184.0" cy="258.0" r="5.5"/>
<circle cx="276.5" cy="252.0" r="5.5"/>
<circle cx="167.7" cy="255.1" r="5.5"/>
<circle cx="167.9" cy="286.4" r="5.5"/>
<circle cx="285.3" cy="282.9" r="5.5"/>
<circle cx="285.4" cy="270.8" r="5.5"/>
<circle cx="213.8" cy="261.5" r="5.5"/>
<circle cx="242.3" cy="253.4" r="5.5"/>
<circle cx="223.9" cy="261.8" r="5.5"/>
<circle cx="244.6" cy="288.8" r="5.5"/>
<circle cx="243.1" cy="247.8" r="5.5"/>
<circle cx="233.9" cy="281.0" r="5.5"/>
<circle cx="225.9" cy="243.7" r="5.5"/>
<circle cx="162.5" cy="270.2" r="5.5"/>
<circle cx="251.6" cy="267.7" r="5.5"/>
<circle cx="253.2" cy="270.8" r="5.5"/>
<circle cx="266.7" cy="252.1" r="5.5"/>
<circle cx="267.9" cy="281.9" r="5.5"/>
<circle cx="165.3" cy="252.6" r="5.5"/>
<circle cx="191.0" cy="284.0" r="5.5"/>
<circle cx="240.3" cy="243.8" r="5.5"/>
<circle cx="254.2" cy="257.2" r="5.5"/>
<circle cx="272.5" cy="255.6" r="5.5"/>
<circle cx="163.6" cy="258.6" r="5.5"/>
<circle cx="215.0" cy="264.0" r="5.5"/>
<circle cx="225.8" cy="246.0" r="5.5"/>
<circle cx="188.1" cy="242.3" r="5.5"/>
<circle cx="290.1" cy="267.3" r="5.5"/>
<circle cx="190.0" cy="249.4" r="5.5"/>
<circle cx="235.5" cy="240.3" r="5.5"/>
<circle cx="171.6" cy="277.4" r="5.5"/>
<circle cx="224.5" cy="279.6" r="5.5"/>
<circle cx="270.3" cy="258.2" r="5.5"/>
<circle cx="258.1" cy="285.1" r="5.5"/>
<circle cx="267.2" cy="270.0" r="5.5"/>
<circle cx="258.2" cy="241.9" r="5.5"/>
<circle cx="176.4" cy="272.3" r="5.5"/>
<circle cx="228.4" cy="274.2" r="5.5"/>
<circle cx="208.3" cy="242.8" r="5.5"/>
<circle cx="194.8" cy="251.2" r="5.5"/>
<circle cx="244.3" cy="253.2" r="5.5"/>
<circle cx="257.7" cy="270.0" r="5.5"/>
<circle cx="204.7" cy="274.4" r="5.5"/>
<circle cx="276.1" cy="258.6" r="5.5"/>
<circle cx="190.4" cy="289.9" r="5.5"/>
<circle cx="217.1" cy="262.8" r="5.5"/>
<circle cx="269.5" cy="246.4" r="5.5"/>
<circle cx="272.7" cy="255.5" r="5.5"/>
<circle cx="259.9" cy="293.5" r="5.5"/>
<circle cx="268.8" cy="258.9" r="5.5"/>
<circle cx="287.4" cy="269.6" r="5.5"/>
<circle cx="191.6" cy="260.5" r="5.5"/>
<circle cx="161.1" cy="275.3" r="5.5"/>
<circle cx="212.6" cy="271.5" r="5.5"/>
<circle cx="275.6" cy="265.2" r="5.5"/>
<circle cx="161.4" cy="273.5" r="5.5"/>
<circle cx="226.6" cy="265.1" r="5.5"/>
<circle cx="243.4" cy="244.9" r="5.5"/>
<circle cx="200.3" cy="251.6" r="5.5"/>
<circle cx="179.8" cy="246.7" r="5.5"/>
<circle cx="180.6" cy="287.9" r="5.5"/>
<circle cx="288.8" cy="274.5" r="5.5"/>
<circle cx="260.0" cy="240.8" r="5.5"/>
<circle cx="197.5" cy="280.4" r="5.5"/>
<circle cx="278.8" cy="243.0" r="5.5"/>
<circle cx="290.7" cy="294.4" r="5.5"/>
<circle cx="161.8" cy="262.6" r="5.5"/>
<circle cx="279.6" cy="259.3" r="5.5"/>
<circle cx="172.6" cy="272.7" r="5.5"/>
<circle cx="238.3" cy="283.2" r="5.5"/>
<circle cx="180.7" cy="268.2" r="5.5"/>
<circle cx="176.8" cy="292.5" r="5.5"/>
<circle cx="278.9" cy="293.3" r="5.5"/>
<circle cx="168.5" cy="250.0" r="5.5"/>
<circle cx="265.7" cy="266.4" r="5.5"/>
<circle cx="270.4" cy="276.1" r="5.5"/>
<circle cx="153.9" cy="246.4" r="5.5"/>
<circle cx="253.0" cy="255.3" r="5.5"/>
<circle cx="206.4" cy="274.6" r="5.5"/>
<circle cx="156.7" cy="245.6" r="5.5"/>
<circle cx="218.9" cy="241.1" r="5.5"/>
<circle cx="198.3" cy="261.7" r="5.5"/>
<circle cx="163.1" cy="244.7" r="5.5"/>
<circle cx="258.1" cy="278.4" r="5.5"/>
<circle cx="219.2" cy="265.3" r="5.5"/>
<circle cx="279.8" cy="266.2" r="5.5"/>
<circle cx="174.3" cy="268.4" r="5.5"/>
<circle cx="219.0" cy="271.0" r="5.5"/>
<circle cx="198.7" cy="268.2" r="5.5"/>
<circle cx="276.0" cy="281.2" r="5.5"/>
<circle cx="269.1" cy="294.8" r="5.5"/>
<circle cx="219.5" cy="263.7" r="5.5"/>
<circle cx="255.2" cy="252.4" r="5.5"/>
<circle cx="192.7" cy="273.4" r="5.5"/>
<circle cx="282.2" cy="268.7" r="5.5"/>
<circle cx="237.8" cy="259.3" r="5.5"/>
<circle cx="214.7" cy="245.3" r="5.5"/>
<circle cx="199.0" cy="250.6" r="5.5"/>
<circle cx="206.7" cy="276.9" r="5.5"/>
<circle cx="271.8" cy="244.5" r="5.5"/>
<circle cx="168.2" cy="274.8" r="5.5"/>
<circle cx="283.1" cy="271.4" r="5.5"/>
<circle cx="223.3" cy="288.3" r="5.5"/>
<circle cx="178.4" cy="240.1" r="5.5"/>
<circle cx="221.2" cy="272.9" r="5.5"/>
<circle cx="166.5" cy="278.5" r="5.5"/>
<circle cx="236.8" cy="286.6" r="5.5"/>
<circle cx="196.5" cy="243.8" r="5.5"/>
<circle cx="181.4" cy="253.1" r="5.5"/>
<circle cx="196.1" cy="276.3" r="5.5"/>
<circle cx="187.8" cy="295.1" r="5.5"/>
<circle cx="173.0" cy="289.0" r="5.5"/>
<circle cx="183.7" cy="291.7" r="5.5"/>
<circle cx="181.5" cy="271.0" r="5.5"/>
<circle cx="184.2" cy="280.2" r="5.5"/>
<circle cx="236.6" cy="280.9" r="5.5"/>
<circle cx="206.7" cy="249.1" r="5.5"/>
<circle cx="194.9" cy="287.9" r="5.5"/>
<circle cx="220.7" cy="249.8" r="5.5"/>
<circle cx="160.2" cy="269.2" r="5.5"/>
<circle cx="268.0" cy="277.9" r="5.5"/>
<circle cx="261.0" cy="243.6" r="5.5"/>
<circle cx="212.1" cy="256.8" r="5.5"/>
<circle cx="182.2" cy="292.8" r="5.5"/>
<circle cx="271.3" cy="259.7" r="5.5"/>
<circle cx="290.4" cy="251.7" r="5.5"/>
<circle cx="267.9" cy="265.7" r="5.5"/>
<circle cx="210.7" cy="295.3" r="5.5"/>
<circle cx="262.4" cy="278.9" r="5.5"/>
<circle cx="243.2" cy="276.1" r="5.5"/>
<circle cx="266.4" cy="279.1" r="5.5"/>
<circle cx="199.3" cy="273.4" r="5.5"/>
<circle cx="209.3" cy="251.4" r="5.5"/>
<circle cx="208.8" cy="268.9" r="5.5"/>
<circle cx="171.7" cy="270.5" r="5.5"/>
<circle cx="276.9" cy="279.3" r="5.5"/>
<circle cx="243.1" cy="271.8" r="5.5"/>
<circle cx="150.7" cy="240.4" r="5.5"/>
<circle cx="163.8" cy="274.0" r="5.5"/>
<circle cx="268.9" cy="293.3" r="5.5"/>
<circle cx="253.6" cy="280.7" r="5.5"/>
<circle cx="176.0" cy="243.7" r="5.5"/>
<circle cx="259.0" cy="254.6" r="5.5"/>
<circle cx="241.6" cy="290.2" r="5.5"/>
<circle cx="195.7" cy="271.1" r="5.5"/>
<circle cx="208.8" cy="285.7" r="5.5"/>
<circle cx="247.3" cy="290.9" r="5.5"/>
<circle cx="250.6" cy="285.2" r="5.5"/>
<circle cx="262.3" cy="267.8" r="5.5"/>
<circle cx="224.9" cy="270.5" r="5.5"/>
<circle cx="164.7" cy="241.9" r="5.5"/>
<circle cx="192.6" cy="263.0" r="5.5"/>
<circle cx="191.6" cy="267.4" r="5.5"/>
<circle cx="279.3" cy="287.5" r="5.5"/>
<circle cx="212.4" cy="266.9" r="5.5"/>
<circle cx="154.3" cy="241.9" r="5.5"/>
<circle cx="227.2" cy="242.7" r="5.5"/>
<circle cx="247.8" cy="247.2" r="5.5"/>
<circle cx="181.0" cy="282.0" r="5.5"/>
<circle cx="170.0" cy="281.9" r="5.5"/>
<circle cx="211.3" cy="253.9" r="5.5"/>
<circle cx="195.7" cy="287.1" r="5.5"/>
<circle cx="180.1" cy="251.6" r="5.5"/>
<circle cx="211.6" cy="262.5" r="5.5"/>
<circle cx="210.3" cy="269.5" r="5.5"/>
<circle cx="231.3" cy="253.7" r="5.5"/>
<circle cx="222.9" cy="271.1" r="5.5"/>
<circle cx="265.8" cy="254.7" r="5.5"/>
<circle cx="168.3" cy="258.7" r="5.5"/>
<circle cx="263.6" cy="265.2" r="5.5"/>
<circle cx="199.8" cy="270.7" r="5.5"/>
<circle cx="160.1" cy="255.4" r="5.5"/>
<circle cx="282.4" cy="267.3" r="5.5"/>
<circle cx="243.4" cy="246.2" r="5.5"/>
<circle cx="166.2" cy="273.4" r="5.5"/>
<circle cx="216.6" cy="251.5" r="5.5"/>
<circle cx="208.6" cy="295.8" r="5.5"/>
<circle cx="233.7" cy="280.2" r="5.5"/>
<circle cx="217.2" cy="272.5" r="5.5"/>
<circle cx="209.1" cy="251.8" r="5.5"/>
<circle cx="184.5" cy="282.7" r="5.5"/>
<circle cx="291.5" cy="282.3" r="5.5"/>
<circle cx="291.2" cy="271.6" r="5.5"/>
<circle cx="190.0" cy="270.5" r="5.5"/>
<circle cx="160.3" cy="242.1" r="5.5"/>
<circle cx="158.8" cy="270.2" r="5.5"/>
<circle cx="277.6" cy="269.5" r="5.5"/>
<circle cx="221.6" cy="272.7" r="5.5"/>
<circle cx="270.1" cy="241.4" r="5.5"/>
<circle cx="279.8" cy="272.7" r="5.5"/>
<circle cx="221.3" cy="242.8" r="5.5"/>
<circle cx="238.0" cy="278.5" r="5.5"/>
<circle cx="275.0" cy="252.0" r="5.5"/>
<circle cx="187.4" cy="293.4" r="5.5"/>
<circle cx="291.7" cy="264.8" r="5.5"/>
<circle cx="244.8" cy="251.1" r="5.5"/>
<circle cx="261.2" cy="294.5" r="5.5"/>
<circle cx="176.7" cy="259.4" r="5.5"/>
<circle cx="282.9" cy="251.0" r="5.5"/>
<circle cx="262.2" cy="272.6" r="5.5"/>
<circle cx="259.9" cy="265.0" r="5.5"/>
<circle cx="287.2" cy="285.6" r="5.5"/>
<circle cx="241.7" cy="253.7" r="5.5"/>
<circle cx="281.2" cy="295.6" r="5.5"/>
<circle cx="224.3" cy="244.1" r="5.5"/>
<circle cx="203.3" cy="274.9" r="5.5"/>
<circle cx="274.7" cy="293.0" r="5.5"/>
<circle cx="222.8" cy="263.7" r="5.5"/>
<circle cx="244.6" cy="288.0" r="5.5"/>
<circle cx="243.3" cy="275.9" r="5.5"/>
<circle cx="204.8" cy="284.7" r="5.5"/>
<circle cx="191.2" cy="256.4" r="5.5"/>
<circle cx="167.7" cy="275.5" r="5.5"/>
<circle cx="196.4" cy="285.4" r="5.5"/>
<circle cx="228.4" cy="243.9" r="5.5"/>
<circle cx="281.7" cy="273.7" r="5.5"/>
<circle cx="236.6" cy="288.8" r="5.5"/>
<circle cx="280.5" cy="265.2" r="5.5"/>
<circle cx="219.8" cy="275.6" r="5.5"/>
<circle cx="171.4" cy="246.0" r="5.5"/>
<circle cx="198.0" cy="290.4" r="5.5"/>
<circle cx="278.7" cy="291.0" r="5.5"/>
<circle cx="286.7" cy="277.6" r="5.5"/>
<circle cx="170.7" cy="266.8" r="5.5"/>
<circle cx="238.3" cy="264.6" r="5.5"/>
<circle cx="218.3" cy="269.9" r="5.5"/>
<circle cx="237.9" cy="245.5" r="5.5"/>
<circle cx="203.0" cy="242.2" r="5.5"/>
<circle cx="262.2" cy="260.1" r="5.5"/>
<circle cx="259.8" cy="249.4" r="5.5"/>
<circle cx="205.0" cy="241.3" r="5.5"/>
<circle cx="259.5" cy="261.4" r="5.5"/>
<circle cx="181.1" cy="280.2" r="5.5"/>
<circle cx="237.2" cy="252.3" r="5.5"/>
<circle cx="189.3" cy="293.1" r="5.5"/>
<circle cx="171.2" cy="291.4" r="5.5"/>
<circle cx="234.6" cy="289.4" r="5.5"/>
<circle cx="269.6" cy="286.7" r="5.5"/>
<circle cx="192.7" cy="290.4" r="5.5"/>
<circle cx="173.7" cy="287.7" r="5.5"/>
<circle cx="271.9" cy="273.7" r="5.5"/>
<circle cx="192.5" cy="283.1" r="5.5"/>
<circle cx="196.9" cy="264.9" r="5.5"/>
<circle cx="252.3" cy="277.6" r="5.5"/>
<circle cx="218.1" cy="290.6" r="5.5"/>
<circle cx="167.7" cy="282.5" r="5.5"/>
<circle cx="235.8" cy="263.6" r="5.5"/>
<circle cx="161.7" cy="250.8" r="5.5"/>
<circle cx="191.6" cy="240.7" r="5.5"/>
<circle cx="279.9" cy="279.9" r="5.5"/>
<circle cx="237.7" cy="260.3" r="5.5"/>
<circle cx="211.6" cy="250.0" r="5.5"/>
<circle cx="244.1" cy="265.4" r="5.5"/>
<circle cx="237.8" cy="255.7" r="5.5"/>
<circle cx="175.1" cy="253.1" r="5.5"/>
<circle cx="241.3" cy="244.5" r="5.5"/>
<circle cx="171.1" cy="260.2" r="5.5"/>
<circle cx="224.5" cy="295.6" r="5.5"/>
<circle cx="246.2" cy="274.5" r="5.5"/>
<circle cx="246.6" cy="269.0" r="5.5"/>
<circle cx="176.3" cy="289.4" r="5.5"/>
<circle cx="274.5" cy="248.4" r="5.5"/>
<circle cx="191.8" cy="279.1" r="5.5"/>
<circle cx="220.2" cy="293.9" r="5.5"/>
<circle cx="224.4" cy="281.7" r="5.5"/>
<circle cx="167.6" cy="249.9" r="5.5"/>
<circle cx="163.3" cy="273.4" r="5.5"/>
<circle cx="170.1" cy="281.5" r="5.5"/>
<circle cx="230.4" cy="273.0" r="5.5"/>
<circle cx="223.9" cy="284.8" r="5.5"/>
<circle cx="160.5" cy="248.5" r="5.5"/>
<circle cx="205.0" cy="293.5" r="5.5"/>
<circle cx="241.2" cy="280.3" r="5.5"/>
<circle cx="163.4" cy="246.6" r="5.5"/>
<circle cx="224.1" cy="289.1" r="5.5"/>
<circle cx="240.5" cy="246.8" r="5.5"/>
<circle cx="261.7" cy="242.6" r="5.5"/>
<circle cx="185.3" cy="291.4" r="5.5"/>
<circle cx="226.0" cy="267.9" r="5.5"/>
<circle cx="201.8" cy="293.0" r="5.5"/>
<circle cx="218.5" cy="259.8" r="5.5"/>
<circle cx="163.9" cy="246.2" r="5.5"/>
<circle cx="239.5" cy="251.9" r="5.5"/>
<circle cx="192.1" cy="257.8" r="5.5"/>
<circle cx="274.3" cy="246.7" r="5.5"/>
<circle cx="283.7" cy="291.2" r="5.5"/>
<circle cx="253.3" cy="247.7" r="5.5"/>
<circle cx="222.8" cy="269.8" r="5.5"/>
<circle cx="211.7" cy="267.1" r="5.5"/>
<circle cx="211.3" cy="284.2" r="5.5"/>
<circle cx="244.1" cy="274.6" r="5.5"/>
<circle cx="200.1" cy="255.8" r="5.5"/>
<circle cx="226.1" cy="249.4" r="5.5"/>
<circle cx="214.1" cy="259.3" r="5.5"/>
<circle cx="185.9" cy="271.7" r="5.5"/>
<circle cx="204.0" cy="267.8" r="5.5"/>
<circle cx="200.7" cy="283.0" r="5.5"/>
<circle cx="268.5" cy="260.7" r="5.5"/>
<circle cx="241.1" cy="282.5" r="5.5"/>
<circle cx="281.3" cy="288.5" r="5.5"/>
<circle cx="166.5" cy="284.1" r="5.5"/>
<circle cx="171.9" cy="240.2" r="5.5"/>
<circle cx="223.0" cy="252.5" r="5.5"/>
<circle cx="274.8" cy="256.9" r="5.5"/>
<circle cx="247.3" cy="261.8" r="5.5"/>
<circle cx="193.1" cy="283.3" r="5.5"/>
<circle cx="270.5" cy="260.2" r="5.5"/>
<circle cx="167.0" cy="277.8" r="5.5"/>
<circle cx="270.7" cy="267.1" r="5.5"/>
<circle cx="277.2" cy="283.6" r="5.5"/>
<circle cx="176.4" cy="260.2" r="5.5"/>
<circle cx="246.6" cy="248.6" r="5.5"/>
<circle cx="210.0" cy="293.1" r="5.5"/>
<circle cx="172.7" cy="244.0" r="5.5"/>
<circle cx="286.7" cy="287.2" r="5.5"/>
<circle cx="194.0" cy="249.8" r="5.5"/>
<circle cx="193.2" cy="264.6" r="5.5"/>
<circle cx="230.6" cy="243.0" r="5.5"/>
<circle cx="195.8" cy="242.0" r="5.5"/>
<circle cx="228.7" cy="258.1" r="5.5"/>
<circle cx="224.4" cy="261.4" r="5.5"/>
<circle cx="187.9" cy="286.8" r="5.5"/>
<circle cx="214.8" cy="290.4" r="5.5"/>
<circle cx="287.0" cy="246.7" r="5.5"/>
<circle cx="242.5" cy="294.0" r="5.5"/>
<circle cx="258.6" cy="289.8" r="5.5"/>
<circle cx="198.2" cy="284.5" r="5.5"/>
<circle cx="179.3" cy="281.5" r="5.5"/>
<circle cx="199.3" cy="261.8" r="5.5"/>
<circle cx="183.5" cy="254.8" r="5.5"/>
<circle cx="181.8" cy="259.6" r="5.5"/>
<circle cx="285.7" cy="281.9" r="5.5"/>
<circle cx="192.7" cy="275.5" r="5.5"/>
<circle cx="264.8" cy="279.2" r="5.5"/>
<circle cx="225.9" cy="291.3" r="5.5"/>
<circle cx="201.6" cy="241.2" r="5.5"/>
<circle cx="237.3" cy="258.6" r="5.5"/>
<circle cx="180.9" cy="272.0" r="5.5"/>
<circle cx="196.8" cy="271.6" r="5.5"/>
<circle cx="231.2" cy="249.6" r="5.5"/>
<circle cx="234.8" cy="262.0" r="5.5"/>
<circle cx="250.7" cy="252.6" r="5.5"/>
<circle cx="266.8" cy="286.8" r="5.5"/>
<circle cx="157.1" cy="244.3" r="5.5"/>
<circle cx="243.9" cy="283.3" r="5.5"/>
<circle cx="151.7" cy="250.2" r="5.5"/>
<circle cx="161.7" cy="270.7" r="5.5"/>
<circle cx="203.3" cy="260.6" r="5.5"/>
<circle cx="161.5" cy="274.1" r="5.5"/>
<circle cx="289.6" cy="263.3" r="5.5"/>
<circle cx="266.0" cy="244.6" r="5.5"/>
<circle cx="283.7" cy="264.7" r="5.5"/>
<circle cx="194.7" cy="274.4" r="5.5"/>
<circle cx="174.4" cy="276.7" r="5.5"/>
<circle cx="239.4" cy="276.8" r="5.5"/>
<circle cx="214.1" cy="258.5" r="5.5"/>
<circle cx="261.5" cy="293.7" r="5.5"/>
<circle cx="175.9" cy="281.9" r="5.5"/>
<circle cx="243.7" cy="264.3" r="5.5"/>
<circle cx="208.2" cy="262.0" r="5.5"/>
<circle cx="280.3" cy="277.9" r="5.5"/>
<circle cx="249.5" cy="290.7" r="5.5"/>
<circle cx="271.4" cy="279.0" r="5.5"/>
<circle cx="184.2" cy="255.3" r="5.5"/>
<circle cx="210.2" cy="271.7" r="5.5"/>
<circle cx="198.5" cy="248.1" r="5.5"/>
<circle cx="182.4" cy="245.4" r="5.5"/>
<circle cx="277.0" cy="251.6" r="5.5"/>
<circle cx="212.4" cy="268.3" r="5.5"/>
<circle cx="160.0" cy="260.3" r="5.5"/>
<circle cx="155.0" cy="247.7" r="5.5"/>
<circle cx="242.4" cy="255.6" r="5.5"/>
<circle cx="250.1" cy="240.8" r="5.5"/>
<circle cx="187.1" cy="264.2" r="5.5"/>
<circle cx="243.1" cy="279.8" r="5.5"/>
<circle cx="205.1" cy="242.2" r="5.5"/>
<circle cx="211.5" cy="242.1" r="5.5"/>
<circle cx="267.7" cy="247.7" r="5.5"/>
<circle cx="169.1" cy="258.3" r="5.5"/>
<circle cx="239.2" cy="257.7" r="5.5"/>
<circle cx="221.5" cy="267.9" r="5.5"/>
<circle cx="250.6" cy="244.0" r="5.5"/>
<circle cx="226.8" cy="286.0" r="5.5"/>
<circle cx="172.5" cy="290.2" r="5.5"/>
<circle cx="199.2" cy="274.7" r="5.5"/>
<circle cx="258.4" cy="290.4" r="5.5"/>
<circle cx="238.6" cy="263.0" r="5.5"/>
<circle cx="164.5" cy="281.6" r="5.5"/>
<circle cx="173.5" cy="291.9" r="5.5"/>
<circle cx="167.9" cy="278.3" r="5.5"/>
<circle cx="290.1" cy="245.9" r="5.5"/>
<circle cx="278.7" cy="280.6" r="5.5"/>
<circle cx="213.4" cy="255.1" r="5.5"/>
<circle cx="287.1" cy="251.9" r="5.5"/>
<circle cx="186.5" cy="251.7" r="5.5"/>
<circle cx="201.2" cy="293.5" r="5.5"/>
<circle cx="289.5" cy="253.3" r="5.5"/>
<circle cx="236.3" cy="283.3" r="5.5"/>
<circle cx="213.5" cy="293.4" r="5.5"/>
<circle cx="169.9" cy="289.3" r="5.5"/>
<circle cx="202.9" cy="284.1" r="5.5"/>
<circle cx="249.5" cy="290.8" r="5.5"/>
<circle cx="172.1" cy="269.5" r="5.5"/>
<circle cx="236.5" cy="245.9" r="5.5"/>
<circle cx="219.2" cy="250.8" r="5.5"/>
<circle cx="173.7" cy="283.9" r="5.5"/>
<circle cx="216.1" cy="286.3" r="5.5"/>
<circle cx="181.2" cy="235.6" r="5.5"/>
<circle cx="287.9" cy="240.4" r="5.5"/>
<circle cx="215.9" cy="218.5" r="5.5"/>
<circle cx="165.3" cy="261.9" r="5.5"/>
<circle cx="255.9" cy="214.8" r="5.5"/>
<circle cx="232.4" cy="243.7" r="5.5"/>
<circle cx="278.3" cy="216.7" r="5.5"/>
<circle cx="191.1" cy="210.8" r="5.5"/>
<circle cx="231.7" cy="257.1" r="5.5"/>
<circle cx="199.7" cy="203.8" r="5.5"/>
<circle cx="168.7" cy="230.1" r="5.5"/>
<circle cx="167.5" cy="216.0" r="5.5"/>
<circle cx="180.7" cy="225.6" r="5.5"/>
<circle cx="270.8" cy="213.8" r="5.5"/>
<circle cx="235.1" cy="224.2" r="5.5"/>
<circle cx="187.9" cy="217.8" r="5.5"/>
<circle cx="259.5" cy="252.1" r="5.5"/>
<circle cx="252.7" cy="255.0" r="5.5"/>
<circle cx="252.1" cy="217.8" r="5.5"/>
<circle cx="179.4" cy="234.7" r="5.5"/>
<circle cx="234.5" cy="248.4" r="5.5"/>
<circle cx="278.2" cy="249.3" r="5.5"/>
<circle cx="288.5" cy="241.5" r="5.5"/>
<circle cx="245.3" cy="249.4" r="5.5"/>
<circle cx="218.1" cy="249.3" r="5.5"/>
<circle cx="273.7" cy="231.3" r="5.5"/>
<circle cx="195.4" cy="223.0" r="5.5"/>
<circle cx="235.0" cy="234.7" r="5.5"/>
<circle cx="217.8" cy="223.5" r="5.5"/>
<circle cx="253.5" cy="242.1" r="5.5"/>
<circle cx="282.7" cy="259.6" r="5.5"/>
<circle cx="254.2" cy="232.8" r="5.5"/>
<circle cx="235.8" cy="215.2" r="5.5"/>
<circle cx="201.7" cy="253.2" r="5.5"/>
<circle cx="243.5" cy="254.3" r="5.5"/>
<circle cx="279.9" cy="257.0" r="5.5"/>
<circle cx="272.2" cy="256.7" r="5.5"/>
<circle cx="276.9" cy="257.6" r="5.5"/>
<circle cx="205.8" cy="224.7" r="5.5"/>
<circle cx="210.6" cy="247.3" r="5.5"/>
<circle cx="288.8" cy="241.3" r="5.5"/>
<circle cx="208.1" cy="204.2" r="5.5"/>
<circle cx="203.6" cy="218.2" r="5.5"/>
<circle cx="158.6" cy="255.6" r="5.5"/>
<circle cx="280.5" cy="231.3" r="5.5"/>
<circle cx="224.2" cy="220.3" r="5.5"/>
<circle cx="203.3" cy="216.8" r="5.5"/>
<circle cx="160.0" cy="260.5" r="5.5"/>
<circle cx="272.5" cy="253.4" r="5.5"/>
<circle cx="166.8" cy="239.1" r="5.5"/>
<circle cx="153.9" cy="244.1" r="5.5"/>
<circle cx="155.3" cy="237.4" r="5.5"/>
<circle cx="168.4" cy="260.7" r="5.5"/>
<circle cx="279.1" cy="225.8" r="5.5"/>
<circle cx="280.2" cy="248.3" r="5.5"/>
<circle cx="171.1" cy="253.2" r="5.5"/>
<circle cx="274.1" cy="215.0" r="5.5"/>
<circle cx="243.4" cy="218.2" r="5.5"/>
<circle cx="148.9" cy="227.9" r="5.5"/>
<circle cx="164.9" cy="250.4" r="5.5"/>
<circle cx="248.0" cy="214.1" r="5.5"/>
<circle cx="197.5" cy="236.9" r="5.5"/>
<circle cx="267.1" cy="260.1" r="5.5"/>
<circle cx="236.4" cy="227.0" r="5.5"/>
<circle cx="273.8" cy="235.7" r="5.5"/>
<circle cx="264.3" cy="221.4" r="5.5"/>
<circle cx="203.1" cy="213.4" r="5.5"/>
<circle cx="200.3" cy="237.9" r="5.5"/>
<circle cx="230.6" cy="212.8" r="5.5"/>
<circle cx="265.6" cy="245.8" r="5.5"/>
<circle cx="287.4" cy="259.8" r="5.5"/>
<circle cx="240.3" cy="215.4" r="5.5"/>
<circle cx="250.6" cy="227.7" r="5.5"/>
<circle cx="276.4" cy="226.5" r="5.5"/>
<circle cx="165.6" cy="212.9" r="5.5"/>
<circle cx="254.9" cy="228.5" r="5.5"/>
<circle cx="189.3" cy="219.6" r="5.5"/>
<circle cx="185.3" cy="231.2" r="5.5"/>
<circle cx="228.4" cy="203.5" r="5.5"/>
<circle cx="206.2" cy="254.4" r="5.5"/>
<circle cx="249.9" cy="231.3" r="5.5"/>
<circle cx="203.7" cy="219.3" r="5.5"/>
<circle cx="166.7" cy="218.1" r="5.5"/>
<circle cx="162.7" cy="261.4" r="5.5"/>
<circle cx="196.9" cy="206.2" r="5.5"/>
<circle cx="196.4" cy="237.3" r="5.5"/>
<circle cx="180.3" cy="227.1" r="5.5"/>
<circle cx="170.9" cy="231.4" r="5.5"/>
<circle cx="167.0" cy="219.1" r="5.5"/>
<circle cx="205.8" cy="216.3" r="5.5"/>
<circle cx="217.0" cy="248.1" r="5.5"/>
<circle cx="208.8" cy="252.4" r="5.5"/>
<circle cx="169.8" cy="243.8" r="5.5"/>
<circle cx="266.8" cy="259.0" r="5.5"/>
<circle cx="246.4" cy="218.8" r="5.5"/>
<circle cx="246.5" cy="238.7" r="5.5"/>
<circle cx="203.7" cy="236.8" r="5.5"/>
<circle cx="171.9" cy="256.8" r="5.5"/>
<circle cx="148.0" cy="215.2" r="5.5"/>
<circle cx="257.6" cy="254.5" r="5.5"/>
<circle cx="206.2" cy="231.0" r="5.5"/>
<circle cx="278.4" cy="217.1" r="5.5"/>
<circle cx="160.5" cy="216.4" r="5.5"/>
<circle cx="251.4" cy="219.7" r="5.5"/>
<circle cx="229.6" cy="203.7" r="5.5"/>
<circle cx="266.5" cy="259.6" r="5.5"/>
<circle cx="286.4" cy="254.9" r="5.5"/>
<circle cx="178.1" cy="225.4" r="5.5"/>
<circle cx="168.4" cy="222.2" r="5.5"/>
<circle cx="241.9" cy="249.0" r="5.5"/>
<circle cx="260.0" cy="250.5" r="5.5"/>
<circle cx="187.2" cy="254.8" r="5.5"/>
<circle cx="252.6" cy="210.3" r="5.5"/>
<circle cx="194.5" cy="250.5" r="5.5"/>
<circle cx="197.3" cy="237.2" r="5.5"/>
<circle cx="188.0" cy="235.3" r="5.5"/>
<circle cx="178.2" cy="235.9" r="5.5"/>
<circle cx="210.0" cy="237.7" r="5.5"/>
<circle cx="178.1" cy="250.7" r="5.5"/>
<circle cx="215.0" cy="241.1" r="5.5"/>
<circle cx="208.7" cy="206.9" r="5.5"/>
<circle cx="288.7" cy="244.3" r="5.5"/>
<circle cx="288.0" cy="241.3" r="5.5"/>
<circle cx="206.0" cy="223.9" r="5.5"/>
<circle cx="261.1" cy="251.7" r="5.5"/>
<circle cx="259.3" cy="212.4" r="5.5"/>
<circle cx="183.0" cy="223.3" r="5.5"/>
<circle cx="150.8" cy="211.3" r="5.5"/>
<circle cx="199.0" cy="208.7" r="5.5"/>
<circle cx="178.5" cy="233.9" r="5.5"/>
<circle cx="246.9" cy="219.6" r="5.5"/>
<circle cx="152.5" cy="210.7" r="5.5"/>
<circle cx="259.6" cy="213.0" r="5.5"/>
<circle cx="254.1" cy="218.3" r="5.5"/>
<circle cx="262.8" cy="229.6" r="5.5"/>
<circle cx="173.8" cy="256.5" r="5.5"/>
<circle cx="291.9" cy="256.7" r="5.5"/>
<circle cx="210.4" cy="235.7" r="5.5"/>
<circle cx="184.8" cy="251.7" r="5.5"/>
<circle cx="201.6" cy="234.4" r="5.5"/>
<circle cx="231.5" cy="257.9" r="5.5"/>
<circle cx="210.3" cy="224.9" r="5.5"/>
<circle cx="152.7" cy="218.8" r="5.5"/>
<circle cx="217.8" cy="251.6" r="5.5"/>
<circle cx="153.0" cy="227.7" r="5.5"/>
<circle cx="258.4" cy="259.0" r="5.5"/>
<circle cx="269.2" cy="208.2" r="5.5"/>
<circle cx="217.2" cy="230.8" r="5.5"/>
<circle cx="215.8" cy="251.7" r="5.5"/>
<circle cx="191.2" cy="211.0" r="5.5"/>
<circle cx="282.6" cy="234.2" r="5.5"/>
<circle cx="242.6" cy="233.3" r="5.5"/>
<circle cx="234.5" cy="206.4" r="5.5"/>
<circle cx="268.5" cy="242.2" r="5.5"/>
<circle cx="171.6" cy="216.3" r="5.5"/>
<circle cx="238.1" cy="261.3" r="5.5"/>
<circle cx="199.8" cy="214.1" r="5.5"/>
<circle cx="173.1" cy="249.2" r="5.5"/>
<circle cx="243.0" cy="245.8" r="5.5"/>
<circle cx="173.2" cy="230.8" r="5.5"/>
<circle cx="149.5" cy="235.6" r="5.5"/>
<circle cx="205.6" cy="233.3" r="5.5"/>
<circle cx="278.3" cy="225.2" r="5.5"/>
<circle cx="224.9" cy="238.0" r="5.5"/>
<circle cx="259.2" cy="225.9" r="5.5"/>
<circle cx="202.2" cy="234.5" r="5.5"/>
<circle cx="252.1" cy="217.8" r="5.5"/>
<circle cx="187.3" cy="253.0" r="5.5"/>
<circle cx="170.0" cy="210.3" r="5.5"/>
<circle cx="210.6" cy="232.4" r="5.5"/>
<circle cx="188.0" cy="250.0" r="5.5"/>
<circle cx="169.2" cy="229.9" r="5.5"/>
<circle cx="150.7" cy="249.0" r="5.5"/>
<circle cx="220.9" cy="207.6" r="5.5"/>
<circle cx="261.4" cy="215.3" r="5.5"/>
<circle cx="237.0" cy="247.4" r="5.5"/>
<circle cx="159.7" cy="223.4" r="5.5"/>
<circle cx="269.5" cy="231.4" r="5.5"/>
<circle cx="195.4" cy="231.3" r="5.5"/>
<circle cx="241.1" cy="214.3" r="5.5"/>
<circle cx="268.8" cy="253.6" r="5.5"/>
<circle cx="229.7" cy="210.6" r="5.5"/>
<circle cx="264.3" cy="213.2" r="5.5"/>
<circle cx="231.5" cy="243.9" r="5.5"/>
<circle cx="204.1" cy="205.2" r="5.5"/>
<circle cx="280.7" cy="248.4" r="5.5"/>
<circle cx="224.7" cy="214.4" r="5.5"/>
<circle cx="195.8" cy="254.2" r="5.5"/>
<circle cx="269.6" cy="254.6" r="5.5"/>
<circle cx="163.4" cy="219.7" r="5.5"/>
<circle cx="248.1" cy="249.5" r="5.5"/>
<circle cx="168.9" cy="240.8" r="5.5"/>
<circle cx="278.8" cy="230.7" r="5.5"/>
<circle cx="246.7" cy="256.8" r="5.5"/>
<circle cx="254.5" cy="260.2" r="5.5"/>
<circle cx="234.5" cy="229.9" r="5.5"/>
<circle cx="253.3" cy="226.7" r="5.5"/>
<circle cx="162.1" cy="229.4" r="5.5"/>
<circle cx="201.8" cy="238.0" r="5.5"/>
<circle cx="273.1" cy="247.3" r="5.5"/>
<circle cx="244.7" cy="219.7" r="5.5"/>
<circle cx="200.2" cy="229.2" r="5.5"/>
<circle cx="291.4" cy="245.5" r="5.5"/>
<circle cx="185.6" cy="220.7" r="5.5"/>
<circle cx="206.9" cy="255.7" r="5.5"/>
<circle cx="212.1" cy="214.9" r="5.5"/>
<circle cx="201.8" cy="239.6" r="5.5"/>
<circle cx="283.1" cy="219.8" r="5.5"/>
<circle cx="270.4" cy="216.5" r="5.5"/>
<circle cx="251.3" cy="222.6" r="5.5"/>
<circle cx="230.5" cy="249.7" r="5.5"/>
<circle cx="169.7" cy="238.9" r="5.5"/>
<circle cx="243.4" cy="256.6" r="5.5"/>
<circle cx="225.0" cy="245.2" r="5.5"/>
<circle cx="215.6" cy="232.6" r="5.5"/>
<circle cx="250.9" cy="220.7" r="5.5"/>
<circle cx="270.4" cy="224.3" r="5.5"/>
<circle cx="203.3" cy="204.0" r="5.5"/>
<circle cx="251.1" cy="254.6" r="5.5"/>
<circle cx="289.7" cy="221.6" r="5.5"/>
<circle cx="177.9" cy="226.1" r="5.5"/>
<circle cx="162.3" cy="222.8" r="5.5"/>
<circle cx="246.0" cy="262.0" r="5.5"/>
<circle cx="260.0" cy="227.8" r="5.5"/>
<circle cx="253.1" cy="227.4" r="5.5"/>
<circle cx="157.2" cy="241.2" r="5.5"/>
<circle cx="247.6" cy="225.6" r="5.5"/>
<circle cx="290.8" cy="231.8" r="5.5"/>
<circle cx="172.5" cy="232.3" r="5.5"/>
<circle cx="213.9" cy="218.7" r="5.5"/>
<circle cx="218.2" cy="237.6" r="5.5"/>
<circle cx="198.2" cy="238.2" r="5.5"/>
<circle cx="218.4" cy="245.2" r="5.5"/>
<circle cx="259.3" cy="213.7" r="5.5"/>
<circle cx="181.3" cy="224.7" r="5.5"/>
<circle cx="275.5" cy="258.9" r="5.5"/>
<circle cx="208.2" cy="216.9" r="5.5"/>
<circle cx="192.9" cy="218.1" r="5.5"/>
<circle cx="252.8" cy="241.9" r="5.5"/>
<circle cx="236.4" cy="223.8" r="5.5"/>
<circle cx="291.2" cy="261.9" r="5.5"/>
<circle cx="257.3" cy="239.7" r="5.5"/>
<circle cx="198.4" cy="234.3" r="5.5"/>
<circle cx="226.9" cy="242.8" r="5.5"/>
<circle cx="291.2" cy="240.3" r="5.5"/>
<circle cx="243.4" cy="251.6" r="5.5"/>
<circle cx="261.7" cy="257.9" r="5.5"/>
<circle cx="185.6" cy="207.4" r="5.5"/>
<circle cx="268.4" cy="226.7" r="5.5"/>
<circle cx="287.8" cy="228.5" r="5.5"/>
<circle cx="239.6" cy="210.6" r="5.5"/>
<circle cx="238.7" cy="244.1" r="5.5"/>
<circle cx="180.9" cy="258.2" r="5.5"/>
<circle cx="217.4" cy="208.3" r="5.5"/>
<circle cx="186.4" cy="258.1" r="5.5"/>
<circle cx="287.1" cy="219.9" r="5.5"/>
<circle cx="278.7" cy="253.4" r="5.5"/>
<circle cx="222.4" cy="218.7" r="5.5"/>
<circle cx="267.8" cy="244.5" r="5.5"/>
<circle cx="191.0" cy="207.8" r="5.5"/>
<circle cx="246.9" cy="222.1" r="5.5"/>
<circle cx="253.7" cy="223.5" r="5.5"/>
<circle cx="252.4" cy="259.8" r="5.5"/>
<circle cx="162.7" cy="233.7" r="5.5"/>
<circle cx="153.1" cy="220.5" r="5.5"/>
<circle cx="168.7" cy="257.2" r="5.5"/>
<circle cx="183.8" cy="240.6" r="5.5"/>
<circle cx="152.8" cy="250.6" r="5.5"/>
<circle cx="197.1" cy="234.5" r="5.5"/>
<circle cx="258.7" cy="234.1" r="5.5"/>
<circle cx="154.3" cy="243.5" r="5.5"/>
<circle cx="213.1" cy="219.4" r="5.5"/>
<circle cx="258.0" cy="236.4" r="5.5"/>
<circle cx="203.6" cy="248.8" r="5.5"/>
<circle cx="266.2" cy="227.6" r="5.5"/>
<circle cx="215.9" cy="225.9" r="5.5"/>
<circle cx="245.2" cy="247.8" r="5.5"/>
<circle cx="214.9" cy="245.2" r="5.5"/>
<circle cx="269.9" cy="238.4" r="5.5"/>
<circle cx="157.3" cy="232.8" r="5.5"/>
<circle cx="202.1" cy="220.6" r="5.5"/>
<circle cx="214.8" cy="206.6" r="5.5"/>
<circle cx="275.7" cy="240.5" r="5.5"/>
<circle cx="210.5" cy="229.4" r="5.5"/>
<circle cx="270.5" cy="217.3" r="5.5"/>
<circle cx="151.9" cy="227.8" r="5.5"/>
<circle cx="209.9" cy="240.4" r="5.5"/>
<circle cx="189.2" cy="209.9" r="5.5"/>
<circle cx="188.1" cy="242.2" r="5.5"/>
<circle cx="224.6" cy="211.6" r="5.5"/>
<circle cx="207.9" cy="243.7" r="5.5"/>
<circle cx="209.6" cy="240.3" r="5.5"/>
<circle cx="153.8" cy="245.8" r="5.5"/>
<circle cx="284.8" cy="227.0" r="5.5"/>
<circle cx="262.7" cy="241.3" r="5.5"/>
<circle cx="230.1" cy="248.8" r="5.5"/>
<circle cx="189.8" cy="235.1" r="5.5"/>
<circle cx="217.9" cy="245.1" r="5.5"/>
<circle cx="287.9" cy="251.6" r="5.5"/>
<circle cx="154.4" cy="217.8" r="5.5"/>
<circle cx="254.2" cy="218.5" r="5.5"/>
<circle cx="257.1" cy="253.6" r="5.5"/>
<circle cx="260.8" cy="213.5" r="5.5"/>
<circle cx="188.4" cy="257.5" r="5.5"/>
<circle cx="201.9" cy="243.7" r="5.5"/>
<circle cx="284.6" cy="226.9" r="5.5"/>
<circle cx="237.4" cy="229.1" r="5.5"/>
<circle cx="243.4" cy="259.1" r="5.5"/>
<circle cx="156.1" cy="226.1" r="5.5"/>
<circle cx="201.4" cy="250.7" r="5.5"/>
<circle cx="199.7" cy="245.8" r="5.5"/>
<circle cx="227.7" cy="248.7" r="5.5"/>
<circle cx="207.9" cy="233.5" r="5.5"/>
<circle cx="260.6" cy="246.8" r="5.5"/>
<circle cx="211.7" cy="234.4" r="5.5"/>
<circle cx="226.3" cy="220.1" r="5.5"/>
<circle cx="243.2" cy="241.6" r="5.5"/>
<circle cx="237.3" cy="259.9" r="5.5"/>
<circle cx="219.6" cy="246.8" r="5.5"/>
<circle cx="269.7" cy="223.6" r="5.5"/>
<circle cx="222.0" cy="217.4" r="5.5"/>
<circle cx="280.3" cy="216.6" r="5.5"/>
<circle cx="215.4" cy="227.4" r="5.5"/>
<circle cx="270.7" cy="211.7" r="5.5"/>
<circle cx="205.5" cy="251.7" r="5.5"/>
<circle cx="164.3" cy="235.6" r="5.5"/>
<circle cx="150.4" cy="215.0" r="5.5"/>
<circle cx="249.0" cy="228.0" r="5.5"/>
<circle cx="196.3" cy="259.7" r="5.5"/>
<circle cx="184.2" cy="253.5" r="5.5"/>
<circle cx="199.2" cy="223.0" r="5.5"/>
<circle cx="179.7" cy="227.7" r="5.5"/>
<circle cx="239.9" cy="206.8" r="5.5"/>
<circle cx="209.7" cy="253.8" r="5.5"/>
<circle cx="198.7" cy="261.4" r="5.5"/>
<circle cx="159.9" cy="251.8" r="5.5"/>
<circle cx="244.2" cy="242.2" r="5.5"/>
<circle cx="207.6" cy="235.5" r="5.5"/>
<circle cx="207.7" cy="257.4" r="5.5"/>
<circle cx="280.1" cy="210.0" r="5.5"/>
<circle cx="197.5" cy="222.9" r="5.5"/>
<circle cx="155.2" cy="222.2" r="5.5"/>
<circle cx="244.8" cy="212.1" r="5.5"/>
<circle cx="169.7" cy="208.1" r="5.5"/>
<circle cx="176.5" cy="216.3" r="5.5"/>
<circle cx="270.6" cy="212.2" r="5.5"/>
<circle cx="204.2" cy="210.4" r="5.5"/>
<circle cx="218.6" cy="231.0" r="5.5"/>
<circle cx="222.2" cy="255.0" r="5.5"/>
<circle cx="209.2" cy="242.1" r="5.5"/>
<circle cx="156.0" cy="257.9" r="5.5"/>
<circle cx="150.1" cy="236.1" r="5.5"/>
<circle cx="284.8" cy="255.5" r="5.5"/>
<circle cx="213.3" cy="226.0" r="5.5"/>
<circle cx="201.2" cy="211.2" r="5.5"/>
<circle cx="172.6" cy="225.4" r="5.5"/>
<circle cx="257.9" cy="247.5" r="5.5"/>
<circle cx="176.8" cy="210.1" r="5.5"/>
<circle cx="156.6" cy="249.2" r="5.5"/>
<circle cx="255.4" cy="238.4" r="5.5"/>
<circle cx="222.9" cy="223.1" r="5.5"/>
<circle cx="209.8" cy="241.5" r="5.5"/>
<circle cx="191.8" cy="233.7" r="5.5"/>
<circle cx="230.7" cy="258.1" r="5.5"/>
<circle cx="159.2" cy="252.2" r="5.5"/>
<circle cx="182.5" cy="259.1" r="5.5"/>
<circle cx="179.6" cy="208.7" r="5.5"/>
<circle cx="179.7" cy="258.3" r="5.5"/>
<circle cx="283.0" cy="216.4" r="5.5"/>
<circle cx="216.4" cy="258.3" r="5.5"/>
<circle cx="171.5" cy="239.5" r="5.5"/>
<circle cx="175.9" cy="230.2" r="5.5"/>
<circle cx="291.8" cy="248.9" r="5.5"/>
<circle cx="267.7" cy="231.0" r="5.5"/>
<circle cx="189.3" cy="247.1" r="5.5"/>
<circle cx="284.0" cy="251.7" r="5.5"/>
<circle cx="212.0" cy="239.9" r="5.5"/>
<circle cx="157.3" cy="225.0" r="5.5"/>
<circle cx="222.2" cy="250.4" r="5.5"/>
<circle cx="192.0" cy="243.0" r="5.5"/>
<circle cx="247.9" cy="223.6" r="5.5"/>
<circle cx="184.0" cy="258.6" r="5.5"/>
<circle cx="283.6" cy="231.4" r="5.5"/>
<circle cx="208.2" cy="258.4" r="5.5"/>
<circle cx="209.3" cy="243.4" r="5.5"/>
<circle cx="161.9" cy="242.5" r="5.5"/>
<circle cx="290.7" cy="218.5" r="5.5"/>
<circle cx="247.4" cy="213.9" r="5.5"/>
<circle cx="254.4" cy="235.8" r="5.5"/>
<circle cx="199.5" cy="241.5" r="5.5"/>
<circle cx="207.4" cy="239.4" r="5.5"/>
<circle cx="221.6" cy="216.8" r="5.5"/>
<circle cx="255.1" cy="239.8" r="5.5"/>
<circle cx="254.5" cy="256.1" r="5.5"/>
<circle cx="243.0" cy="240.8" r="5.5"/>
<circle cx="257.6" cy="253.0" r="5.5"/>
<circle cx="274.7" cy="247.2" r="5.5"/>
<circle cx="272.4" cy="216.5" r="5.5"/>
<circle cx="245.0" cy="257.6" r="5.5"/>
<circle cx="274.7" cy="253.4" r="5.5"/>
<circle cx="153.6" cy="257.6" r="5.5"/>
<circle cx="204.5" cy="249.5" r="5.5"/>
<circle cx="228.2" cy="256.3" r="5.5"/>
<circle cx="157.2" cy="213.9" r="5.5"/>
<circle cx="269.9" cy="253.4" r="5.5"/>
<circle cx="167.1" cy="253.5" r="5.5"/>
<circle cx="225.6" cy="254.0" r="5.5"/>
<circle cx="262.7" cy="241.5" r="5.5"/>
<circle cx="283.9" cy="229.7" r="5.5"/>
<circle cx="253.0" cy="216.9" r="5.5"/>
<circle cx="202.6" cy="212.3" r="5.5"/>
<circle cx="232.6" cy="234.6" r="5.5"/>
<circle cx="247.0" cy="206.9" r="5.5"/>
<circle cx="266.1" cy="260.7" r="5.5"/>
<circle cx="193.5" cy="222.6" r="5.5"/>
<circle cx="184.7" cy="236.4" r="5.5"/>
<circle cx="221.4" cy="261.4" r="5.5"/>
<circle cx="215.5" cy="238.4" r="5.5"/>
<circle cx="203.5" cy="247.2" r="5.5"/>
<circle cx="176.4" cy="206.0" r="5.5"/>
<circle cx="189.5" cy="236.3" r="5.5"/>
<circle cx="174.8" cy="210.0" r="5.5"/>
<circle cx="238.5" cy="226.2" r="5.5"/>
<circle cx="170.5" cy="225.1" r="5.5"/>
<circle cx="165.4" cy="216.9" r="5.5"/>
<circle cx="224.5" cy="242.1" r="5.5"/>
<circle cx="222.7" cy="247.4" r="5.5"/>
<circle cx="183.7" cy="251.2" r="5.5"/>
<circle cx="172.7" cy="247.7" r="5.5"/>
<circle cx="225.9" cy="216.1" r="5.5"/>
<circle cx="151.2" cy="232.6" r="5.5"/>
<circle cx="263.7" cy="244.6" r="5.5"/>
<circle cx="177.8" cy="207.9" r="5.5"/>
<circle cx="212.7" cy="241.3" r="5.5"/>
<circle cx="198.5" cy="244.5" r="5.5"/>
<circle cx="160.8" cy="215.5" r="5.5"/>
<circle cx="197.5" cy="224.4" r="5.5"/>
<circle cx="220.0" cy="249.1" r="5.5"/>
<circle cx="180.8" cy="253.9" r="5.5"/>
<circle cx="239.2" cy="234.6" r="5.5"/>
<circle cx="278.8" cy="224.2" r="5.5"/>
<circle cx="264.1" cy="221.1" r="5.5"/>
<circle cx="205.9" cy="242.7" r="5.5"/>
<circle cx="274.3" cy="287.4" r="5.5"/>
<circle cx="184.9" cy="274.9" r="5.5"/>
<circle cx="172.2" cy="274.5" r="5.5"/>
<circle cx="281.3" cy="322.5" r="5.5"/>
<circle cx="290.3" cy="287.8" r="5.5"/>
<circle cx="236.9" cy="307.6" r="5.5"/>
<circle cx="239.8" cy="265.7" r="5.5"/>
<circle cx="251.0" cy="315.7" r="5.5"/>
<circle cx="210.3" cy="284.8" r="5.5"/>
<circle cx="283.5" cy="275.3" r="5.5"/>
<circle cx="256.3" cy="294.3" r="5.5"/>
<circle cx="274.9" cy="269.4" r="5.5"/>
<circle cx="178.7" cy="291.0" r="5.5"/>
<circle cx="237.1" cy="285.3" r="5.5"/>
<circle cx="260.2" cy="274.0" r="5.5"/>
<circle cx="232.5" cy="298.4" r="5.5"/>
<circle cx="261.0" cy="318.2" r="5.5"/>
<circle cx="172.2" cy="297.1" r="5.5"/>
<circle cx="164.2" cy="278.7" r="5.5"/>
<circle cx="239.5" cy="271.3" r="5.5"/>
<circle cx="253.3" cy="291.4" r="5.5"/>
<circle cx="252.3" cy="294.0" r="5.5"/>
<circle cx="187.3" cy="287.6" r="5.5"/>
<circle cx="201.5" cy="274.2" r="5.5"/>
<circle cx="169.5" cy="298.9" r="5.5"/>
<circle cx="287.7" cy="300.5" r="5.5"/>
<circle cx="203.8" cy="264.0" r="5.5"/>
<circle cx="280.2" cy="282.9" r="5.5"/>
<circle cx="274.6" cy="269.3" r="5.5"/>
<circle cx="291.2" cy="295.9" r="5.5"/>
<circle cx="218.2" cy="269.0" r="5.5"/>
<circle cx="287.3" cy="290.2" r="5.5"/>
<circle cx="290.7" cy="286.8" r="5.5"/>
<circle cx="192.0" cy="268.7" r="5.5"/>
<circle cx="233.6" cy="272.7" r="5.5"/>
<circle cx="284.5" cy="303.2" r="5.5"/>
<circle cx="214.0" cy="305.5" r="5.5"/>
<circle cx="233.5" cy="269.4" r="5.5"/>
<circle cx="214.9" cy="303.9" r="5.5"/>
<circle cx="249.4" cy="274.7" r="5.5"/>
<circle cx="237.1" cy="303.5" r="5.5"/>
<circle cx="225.5" cy="273.4" r="5.5"/>
<circle cx="218.5" cy="303.6" r="5.5"/>
<circle cx="252.0" cy="269.4" r="5.5"/>
<circle cx="290.1" cy="298.9" r="5.5"/>
<circle cx="275.9" cy="287.1" r="5.5"/>
<circle cx="254.5" cy="265.3" r="5.5"/>
<circle cx="286.9" cy="308.8" r="5.5"/>
<circle cx="276.0" cy="275.0" r="5.5"/>
<circle cx="265.5" cy="276.6" r="5.5"/>
<circle cx="246.5" cy="289.1" r="5.5"/>
<circle cx="182.6" cy="264.6" r="5.5"/>
<circle cx="258.9" cy="301.4" r="5.5"/>
<circle cx="165.0" cy="270.5" r="5.5"/>
<circle cx="290.6" cy="322.4" r="5.5"/>
<circle cx="274.1" cy="291.6" r="5.5"/>
<circle cx="271.0" cy="294.1" r="5.5"/>
<circle cx="258.7" cy="270.5" r="5.5"/>
<circle cx="216.5" cy="278.7" r="5.5"/>
<circle cx="253.0" cy="323.0" r="5.5"/>
<circle cx="274.1" cy="315.4" r="5.5"/>
<circle cx="205.3" cy="304.7" r="5.5"/>
<circle cx="271.0" cy="283.4" r="5.5"/>
<circle cx="255.7" cy="290.6" r="5.5"/>
<circle cx="278.0" cy="285.4" r="5.5"/>
<circle cx="224.8" cy="291.8" r="5.5"/>
<circle cx="165.6" cy="294.2" r="5.5"/>
<circle cx="252.9" cy="303.3" r="5.5"/>
<circle cx="283.0" cy="314.3" r="5.5"/>
<circle cx="210.2" cy="263.1" r="5.5"/>
<circle cx="283.7" cy="304.3" r="5.5"/>
<circle cx="241.8" cy="312.8" r="5.5"/>
<circle cx="275.5" cy="299.8" r="5.5"/>
<circle cx="220.6" cy="299.6" r="5.5"/>
<circle cx="177.6" cy="264.0" r="5.5"/>
<circle cx="253.6" cy="309.7" r="5.5"/>
<circle cx="178.4" cy="269.5" r="5.5"/>
<circle cx="247.1" cy="288.4" r="5.5"/>
<circle cx="262.7" cy="280.3" r="5.5"/>
<circle cx="227.4" cy="279.4" r="5.5"/>
<circle cx="182.4" cy="279.5" r="5.5"/>
<circle cx="187.9" cy="274.2" r="5.5"/>
<circle cx="217.4" cy="280.4" r="5.5"/>
<circle cx="188.7" cy="263.4" r="5.5"/>
<circle cx="288.2" cy="280.2" r="5.5"/>
<circle cx="281.5" cy="267.8" r="5.5"/>
<circle cx="206.7" cy="305.4" r="5.5"/>
<circle cx="191.3" cy="285.0" r="5.5"/>
<circle cx="224.2" cy="281.2" r="5.5"/>
<circle cx="230.2" cy="283.6" r="5.5"/>
<circle cx="223.8" cy="272.0" r="5.5"/>
<circle cx="190.7" cy="284.1" r="5.5"/>
<circle cx="289.0" cy="292.7" r="5.5"/>
<circle cx="243.8" cy="315.3" r="5.5"/>
<circle cx="271.0" cy="302.5" r="5.5"/>
<circle cx="202.5" cy="271.2" r="5.5"/>
<circle cx="180.9" cy="280.9" r="5.5"/>
<circle cx="203.9" cy="282.7" r="5.5"/>
<circle cx="222.6" cy="276.8" r="5.5"/>
<circle cx="285.2" cy="269.7" r="5.5"/>
<circle cx="234.5" cy="317.8" r="5.5"/>
<circle cx="197.1" cy="265.6" r="5.5"/>
<circle cx="227.7" cy="315.2" r="5.5"/>
<circle cx="233.7" cy="284.4" r="5.5"/>
<circle cx="277.4" cy="313.0" r="5.5"/>
<circle cx="266.3" cy="308.6" r="5.5"/>
<circle cx="252.6" cy="278.3" r="5.5"/>
<circle cx="241.3" cy="263.7" r="5.5"/>
<circle cx="172.1" cy="282.4" r="5.5"/>
<circle cx="165.5" cy="283.2" r="5.5"/>
<circle cx="265.7" cy="282.4" r="5.5"/>
<circle cx="252.5" cy="296.2" r="5.5"/>
<circle cx="247.2" cy="304.2" r="5.5"/>
<circle cx="228.7" cy="273.3" r="5.5"/>
<circle cx="266.5" cy="310.1" r="5.5"/>
<circle cx="175.6" cy="295.6" r="5.5"/>
<circle cx="192.4" cy="279.5" r="5.5"/>
<circle cx="202.4" cy="264.1" r="5.5"/>
<circle cx="238.8" cy="310.6" r="5.5"/>
<circle cx="178.0" cy="268.6" r="5.5"/>
<circle cx="244.9" cy="277.2" r="5.5"/>
<circle cx="235.2" cy="262.3" r="5.5"/>
<circle cx="280.1" cy="289.4" r="5.5"/>
<circle cx="283.4" cy="316.4" r="5.5"/>
<circle cx="271.7" cy="324.2" r="5.5"/>
<circle cx="277.3" cy="291.7" r="5.5"/>
<circle cx="234.8" cy="278.3" r="5.5"/>
<circle cx="186.2" cy="285.2" r="5.5"/>
<circle cx="283.7" cy="308.0" r="5.5"/>
<circle cx="201.0" cy="282.6" r="5.5"/>
<circle cx="174.6" cy="274.5" r="5.5"/>
<circle cx="285.4" cy="293.6" r="5.5"/>
<circle cx="260.5" cy="263.5" r="5.5"/>
<circle cx="265.2" cy="306.4" r="5.5"/>
<circle cx="276.7" cy="305.2" r="5.5"/>
<circle cx="268.6" cy="282.9" r="5.5"/>
<circle cx="191.4" cy="292.5" r="5.5"/>
<circle cx="255.6" cy="323.3" r="5.5"/>
<circle cx="256.8" cy="270.8" r="5.5"/>
<circle cx="221.6" cy="299.6" r="5.5"/>
<circle cx="191.0" cy="266.9" r="5.5"/>
<circle cx="197.7" cy="294.5" r="5.5"/>
<circle cx="227.0" cy="313.6" r="5.5"/>
<circle cx="234.8" cy="312.9" r="5.5"/>
<circle cx="207.9" cy="302.9" r="5.5"/>
<circle cx="261.0" cy="277.2" r="5.5"/>
<circle cx="225.7" cy="289.6" r="5.5"/>
<circle cx="245.9" cy="275.1" r="5.5"/>
<circle cx="233.5" cy="273.5" r="5.5"/>
<circle cx="276.0" cy="271.7" r="5.5"/>
<circle cx="200.4" cy="300.2" r="5.5"/>
<circle cx="254.2" cy="321.6" r="5.5"/>
<circle cx="155.9" cy="271.4" r="5.5"/>
<circle cx="291.2" cy="323.0" r="5.5"/>
<circle cx="250.4" cy="319.5" r="5.5"/>
<circle cx="256.9" cy="317.5" r="5.5"/>
<circle cx="218.6" cy="298.2" r="5.5"/>
<circle cx="290.5" cy="262.1" r="5.5"/>
<circle cx="261.4" cy="324.5" r="5.5"/>
<circle cx="254.9" cy="323.6" r="5.5"/>
<circle cx="276.9" cy="305.8" r="5.5"/>
<circle cx="269.0" cy="276.1" r="5.5"/>
<circle cx="254.9" cy="325.0" r="5.5"/>
<circle cx="251.9" cy="297.6" r="5.5"/>
<circle cx="267.6" cy="308.4" r="5.5"/>
<circle cx="197.8" cy="266.4" r="5.5"/>
<circle cx="225.2" cy="286.1" r="5.5"/>
<circle cx="192.7" cy="273.0" r="5.5"/>
<circle cx="277.3" cy="273.8" r="5.5"/>
<circle cx="260.0" cy="302.9" r="5.5"/>
<circle cx="219.7" cy="308.2" r="5.5"/>
<circle cx="264.5" cy="262.8" r="5.5"/>
<circle cx="262.5" cy="321.2" r="5.5"/>
<circle cx="284.0" cy="315.3" r="5.5"/>
<circle cx="232.4" cy="293.9" r="5.5"/>
<circle cx="264.6" cy="304.5" r="5.5"/>
<circle cx="270.3" cy="280.7" r="5.5"/>
<circle cx="277.6" cy="265.8" r="5.5"/>
<circle cx="251.6" cy="273.9" r="5.5"/>
<circle cx="226.8" cy="310.8" r="5.5"/>
<circle cx="182.3" cy="264.6" r="5.5"/>
<circle cx="249.9" cy="278.1" r="5.5"/>
<circle cx="154.5" cy="265.0" r="5.5"/>
<circle cx="231.6" cy="302.1" r="5.5"/>
<circle cx="289.8" cy="287.2" r="5.5"/>
<circle cx="271.6" cy="292.4" r="5.5"/>
<circle cx="167.9" cy="297.1" r="5.5"/>
<circle cx="199.3" cy="267.4" r="5.5"/>
<circle cx="284.2" cy="286.0" r="5.5"/>
<circle cx="259.7" cy="320.1" r="5.5"/>
<circle cx="214.3" cy="305.4" r="5.5"/>
<circle cx="254.6" cy="283.9" r="5.5"/>
<circle cx="285.7" cy="265.4" r="5.5"/>
<circle cx="229.7" cy="293.9" r="5.5"/>
<circle cx="214.9" cy="301.3" r="5.5"/>
<circle cx="202.8" cy="280.0" r="5.5"/>
<circle cx="206.6" cy="270.8" r="5.5"/>
<circle cx="281.4" cy="306.3" r="5.5"/>
<circle cx="181.5" cy="263.6" r="5.5"/>
<circle cx="236.2" cy="316.2" r="5.5"/>
<circle cx="271.4" cy="275.2" r="5.5"/>
<circle cx="228.5" cy="295.5" r="5.5"/>
<circle cx="184.1" cy="278.8" r="5.5"/>
<circle cx="233.2" cy="296.8" r="5.5"/>
<circle cx="267.3" cy="280.9" r="5.5"/>
<circle cx="203.8" cy="265.7" r="5.5"/>
<circle cx="216.1" cy="299.6" r="5.5"/>
<circle cx="279.0" cy="290.2" r="5.5"/>
<circle cx="170.3" cy="291.6" r="5.5"/>
<circle cx="197.8" cy="263.3" r="5.5"/>
<circle cx="255.4" cy="262.5" r="5.5"/>
<circle cx="272.4" cy="269.8" r="5.5"/>
<circle cx="213.1" cy="273.5" r="5.5"/>
<circle cx="266.5" cy="323.0" r="5.5"/>
<circle cx="211.1" cy="276.6" r="5.5"/>
<circle cx="199.8" cy="298.8" r="5.5"/>
<circle cx="291.9" cy="266.0" r="5.5"/>
<circle cx="237.0" cy="266.9" r="5.5"/>
<circle cx="229.9" cy="264.0" r="5.5"/>
<circle cx="237.4" cy="308.9" r="5.5"/>
<circle cx="170.2" cy="273.4" r="5.5"/>
<circle cx="186.6" cy="262.9" r="5.5"/>
<circle cx="194.8" cy="286.5" r="5.5"/>
<circle cx="259.8" cy="282.8" r="5.5"/>
<circle cx="252.0" cy="274.7" r="5.5"/>
<circle cx="289.8" cy="320.5" r="5.5"/>
<circle cx="241.1" cy="311.3" r="5.5"/>
<circle cx="256.7" cy="278.5" r="5.5"/>
<circle cx="279.7" cy="305.6" r="5.5"/>
<circle cx="244.1" cy="311.4" r="5.5"/>
<circle cx="278.9" cy="312.8" r="5.5"/>
<circle cx="237.2" cy="294.0" r="5.5"/>
<circle cx="151.0" cy="265.5" r="5.5"/>
<circle cx="254.3" cy="306.7" r="5.5"/>
<circle cx="277.4" cy="319.5" r="5.5"/>
<circle cx="205.8" cy="286.9" r="5.5"/>
<circle cx="216.3" cy="293.8" r="5.5"/>
<circle cx="197.1" cy="293.6" r="5.5"/>
<circle cx="247.1" cy="281.0" r="5.5"/>
<circle cx="249.4" cy="322.2" r="5.5"/>
<circle cx="209.7" cy="291.3" r="5.5"/>
<circle cx="167.2" cy="268.7" r="5.5"/>
<circle cx="263.0" cy="297.7" r="5.5"/>
<circle cx="201.2" cy="296.2" r="5.5"/>
<circle cx="200.8" cy="294.0" r="5.5"/>
<circle cx="157.7" cy="262.1" r="5.5"/>
<circle cx="219.9" cy="309.5" r="5.5"/>
<circle cx="271.3" cy="293.3" r="5.5"/>
<circle cx="283.1" cy="301.2" r="5.5"/>
<circle cx="219.4" cy="299.4" r="5.5"/>
<circle cx="202.0" cy="284.0" r="5.5"/>
<circle cx="241.7" cy="307.9" r="5.5"/>
<circle cx="190.9" cy="264.9" r="5.5"/>
<circle cx="232.7" cy="273.3" r="5.5"/>
<circle cx="253.3" cy="307.7" r="5.5"/>
<circle cx="239.0" cy="289.1" r="5.5"/>
<circle cx="217.2" cy="285.8" r="5.5"/>
<circle cx="216.7" cy="304.9" r="5.5"/>
<circle cx="202.3" cy="286.5" r="5.5"/>
<circle cx="196.7" cy="273.5" r="5.5"/>
<circle cx="253.2" cy="300.4" r="5.5"/>
<circle cx="287.0" cy="307.2" r="5.5"/>
<circle cx="278.4" cy="294.0" r="5.5"/>
<circle cx="221.1" cy="282.3" r="5.5"/>
<circle cx="211.0" cy="282.6" r="5.5"/>
<circle cx="259.3" cy="271.9" r="5.5"/>
<circle cx="226.0" cy="281.3" r="5.5"/>
<circle cx="200.4" cy="299.8" r="5.5"/>
<circle cx="223.1" cy="295.0" r="5.5"/>
<circle cx="186.1" cy="272.6" r="5.5"/>
<circle cx="260.8" cy="269.4" r="5.5"/>
<circle cx="163.3" cy="296.2" r="5.5"/>
<circle cx="282.3" cy="315.2" r="5.5"/>
<circle cx="228.3" cy="263.3" r="5.5"/>
<circle cx="215.8" cy="271.8" r="5.5"/>
<circle cx="272.0" cy="299.4" r="5.5"/>
<circle cx="218.7" cy="301.5" r="5.5"/>
<circle cx="247.9" cy="311.9" r="5.5"/>
<circle cx="163.7" cy="288.5" r="5.5"/>
<circle cx="247.5" cy="284.8" r="5.5"/>
<circle cx="234.6" cy="306.3" r="5.5"/>
<circle cx="165.5" cy="284.0" r="5.5"/>
<circle cx="290.3" cy="277.1" r="5.5"/>
<circle cx="193.5" cy="287.1" r="5.5"/>
<circle cx="226.4" cy="304.5" r="5.5"/>
<circle cx="280.6" cy="311.5" r="5.5"/>
<circle cx="164.8" cy="286.1" r="5.5"/>
<circle cx="268.3" cy="304.8" r="5.5"/>
<circle cx="235.9" cy="264.7" r="5.5"/>
<circle cx="166.9" cy="272.1" r="5.5"/>
<circle cx="249.2" cy="291.5" r="5.5"/>
<circle cx="275.7" cy="313.7" r="5.5"/>
<circle cx="178.7" cy="298.4" r="5.5"/>
<circle cx="284.7" cy="288.0" r="5.5"/>
<circle cx="156.9" cy="271.4" r="5.5"/>
<circle cx="275.4" cy="317.6" r="5.5"/>
<circle cx="289.3" cy="272.5" r="5.5"/>
<circle cx="243.8" cy="284.2" r="5.5"/>
<circle cx="218.5" cy="275.6" r="5.5"/>
<circle cx="240.3" cy="286.1" r="5.5"/>
<circle cx="246.3" cy="298.6" r="5.5"/>
<circle cx="214.2" cy="283.2" r="5.5"/>
<circle cx="273.1" cy="264.5" r="5.5"/>
<circle cx="233.2" cy="293.0" r="5.5"/>
<circle cx="244.7" cy="280.9" r="5.5"/>
<circle cx="287.5" cy="308.4" r="5.5"/>
<circle cx="262.4" cy="306.6" r="5.5"/>
<circle cx="250.7" cy="316.8" r="5.5"/>
<circle cx="207.5" cy="295.1" r="5.5"/>
<circle cx="232.6" cy="288.3" r="5.5"/>
<circle cx="158.1" cy="272.4" r="5.5"/>
<circle cx="182.5" cy="270.6" r="5.5"/>
<circle cx="268.7" cy="297.2" r="5.5"/>
<circle cx="252.9" cy="278.1" r="5.5"/>
<circle cx="282.4" cy="293.1" r="5.5"/>
<circle cx="215.8" cy="301.6" r="5.5"/>
<circle cx="215.4" cy="266.2" r="5.5"/>
<circle cx="213.8" cy="273.9" r="5.5"/>
<circle cx="265.1" cy="272.8" r="5.5"/>
<circle cx="245.7" cy="281.8" r="5.5"/>
<circle cx="161.3" cy="276.5" r="5.5"/>
<circle cx="182.0" cy="291.8" r="5.5"/>
<circle cx="267.6" cy="275.6" r="5.5"/>
<circle cx="166.4" cy="273.0" r="5.5"/>
<circle cx="236.4" cy="307.0" r="5.5"/>
<circle cx="255.7" cy="323.7" r="5.5"/>
<circle cx="260.8" cy="300.3" r="5.5"/>
<circle cx="283.6" cy="322.6" r="5.5"/>
<circle cx="277.4" cy="301.6" r="5.5"/>
<circle cx="223.3" cy="266.2" r="5.5"/>
<circle cx="176.8" cy="267.1" r="5.5"/>
<circle cx="217.2" cy="275.6" r="5.5"/>
<circle cx="246.6" cy="264.4" r="5.5"/>
<circle cx="280.6" cy="273.9" r="5.5"/>
<circle cx="268.4" cy="276.0" r="5.5"/>
<circle cx="236.0" cy="273.7" r="5.5"/>
<circle cx="198.2" cy="287.7" r="5.5"/>
<circle cx="273.5" cy="306.0" r="5.5"/>
<circle cx="258.6" cy="307.4" r="5.5"/>
<circle cx="282.2" cy="271.6" r="5.5"/>
<circle cx="266.9" cy="320.5" r="5.5"/>
<circle cx="222.1" cy="311.6" r="5.5"/>
<circle cx="233.8" cy="318.9" r="5.5"/>
<circle cx="230.7" cy="272.3" r="5.5"/>
<circle cx="186.1" cy="288.5" r="5.5"/>
<circle cx="237.0" cy="301.7" r="5.5"/>
<circle cx="182.7" cy="290.2" r="5.5"/>
<circle cx="260.3" cy="295.3" r="5.5"/>
<circle cx="274.3" cy="312.6" r="5.5"/>
<circle cx="211.2" cy="268.3" r="5.5"/>
<circle cx="155.8" cy="268.5" r="5.5"/>
<circle cx="185.7" cy="285.1" r="5.5"/>
<circle cx="274.5" cy="302.4" r="5.5"/>
<circle cx="264.8" cy="317.7" r="5.5"/>
<circle cx="256.8" cy="319.4" r="5.5"/>
<circle cx="165.5" cy="275.1" r="5.5"/>
<circle cx="271.8" cy="298.0" r="5.5"/>
<circle cx="252.1" cy="303.0" r="5.5"/>
<circle cx="238.5" cy="274.5" r="5.5"/>
<circle cx="230.4" cy="300.9" r="5.5"/>
<circle cx="171.4" cy="269.5" r="5.5"/>
<circle cx="278.3" cy="294.8" r="5.5"/>
<circle cx="189.7" cy="268.5" r="5.5"/>
<circle cx="199.6" cy="270.7" r="5.5"/>
<circle cx="179.7" cy="266.2" r="5.5"/>
<circle cx="246.5" cy="290.3" r="5.5"/>
<circle cx="243.0" cy="306.1" r="5.5"/>
<circle cx="194.1" cy="288.5" r="5.5"/>
<circle cx="183.3" cy="288.8" r="5.5"/>
<circle cx="216.4" cy="264.7" r="5.5"/>
<circle cx="257.3" cy="271.9" r="5.5"/>
<circle cx="245.6" cy="294.1" r="5.5"/>
<circle cx="197.6" cy="289.2" r="5.5"/>
<circle cx="251.6" cy="304.4" r="5.5"/>
<circle cx="230.7" cy="299.9" r="5.5"/>
<circle cx="271.9" cy="307.5" r="5.5"/>
<circle cx="231.1" cy="307.8" r="5.5"/>
<circle cx="257.2" cy="306.5" r="5.5"/>
<circle cx="201.5" cy="265.2" r="5.5"/>
<circle cx="258.4" cy="292.8" r="5.5"/>
<circle cx="257.1" cy="265.4" r="5.5"/>
<circle cx="230.8" cy="281.6" r="5.5"/>
<circle cx="241.8" cy="305.4" r="5.5"/>
<circle cx="158.3" cy="271.5" r="5.5"/>
<circle cx="167.3" cy="264.7" r="5.5"/>
<circle cx="156.5" cy="274.9" r="5.5"/>
<circle cx="227.8" cy="313.6" r="5.5"/>
<circle cx="257.6" cy="291.3" r="5.5"/>
<circle cx="283.9" cy="278.0" r="5.5"/>
<circle cx="246.2" cy="293.9" r="5.5"/>
<circle cx="245.5" cy="318.9" r="5.5"/>
<circle cx="257.0" cy="306.8" r="5.5"/>
<circle cx="346.8" cy="291.4" r="5.5"/>
<circle cx="399.3" cy="268.5" r="5.5"/>
<circle cx="390.4" cy="323.2" r="5.5"/>
<circle cx="402.3" cy="295.2" r="5.5"/>
<circle cx="446.8" cy="290.9" r="5.5"/>
<circle cx="345.9" cy="315.7" r="5.5"/>
<circle cx="324.7" cy="318.9" r="5.5"/>
<circle cx="465.2" cy="297.1" r="5.5"/>
<circle cx="393.2" cy="266.2" r="5.5"/>
<circle cx="326.0" cy="311.4" r="5.5"/>
<circle cx="434.8" cy="301.8" r="5.5"/>
<circle cx="318.9" cy="308.3" r="5.5"/>
<circle cx="485.9" cy="317.8" r="5.5"/>
<circle cx="422.5" cy="290.5" r="5.5"/>
<circle cx="375.0" cy="271.8" r="5.5"/>
<circle cx="300.0" cy="323.9" r="5.5"/>
<circle cx="369.8" cy="286.9" r="5.5"/>
<circle cx="386.9" cy="324.9" r="5.5"/>
<circle cx="471.2" cy="306.2" r="5.5"/>
<circle cx="445.7" cy="295.7" r="5.5"/>
<circle cx="419.1" cy="312.9" r="5.5"/>
<circle cx="422.3" cy="265.1" r="5.5"/>
<circle cx="383.2" cy="299.5" r="5.5"/>
<circle cx="423.7" cy="321.6" r="5.5"/>
<circle cx="445.4" cy="288.8" r="5.5"/>
<circle cx="385.9" cy="311.9" r="5.5"/>
<circle cx="440.3" cy="285.1" r="5.5"/>
<circle cx="369.7" cy="301.1" r="5.5"/>
<circle cx="388.9" cy="304.8" r="5.5"/>
<circle cx="459.5" cy="288.7" r="5.5"/>
<circle cx="405.4" cy="274.8" r="5.5"/>
<circle cx="451.4" cy="306.7" r="5.5"/>
<circle cx="410.6" cy="283.7" r="5.5"/>
<circle cx="309.5" cy="278.0" r="5.5"/>
<circle cx="343.4" cy="311.2" r="5.5"/>
<circle cx="405.0" cy="316.7" r="5.5"/>
<circle cx="474.3" cy="279.2" r="5.5"/>
<circle cx="322.1" cy="308.4" r="5.5"/>
<circle cx="375.8" cy="315.2" r="5.5"/>
<circle cx="379.5" cy="276.6" r="5.5"/>
<circle cx="477.0" cy="309.7" r="5.5"/>
<circle cx="448.4" cy="307.1" r="5.5"/>
<circle cx="478.4" cy="318.1" r="5.5"/>
<circle cx="305.3" cy="266.9" r="5.5"/>
<circle cx="300.1" cy="309.6" r="5.5"/>
<circle cx="389.8" cy="307.4" r="5.5"/>
<circle cx="311.0" cy="273.3" r="5.5"/>
<circle cx="464.7" cy="301.8" r="5.5"/>
<circle cx="322.2" cy="269.7" r="5.5"/>
<circle cx="448.9" cy="315.7" r="5.5"/>
<circle cx="314.4" cy="324.7" r="5.5"/>
<circle cx="315.8" cy="287.0" r="5.5"/>
<circle cx="414.2" cy="314.0" r="5.5"/>
<circle cx="463.9" cy="263.3" r="5.5"/>
<circle cx="341.5" cy="270.8" r="5.5"/>
<circle cx="307.1" cy="304.9" r="5.5"/>
<circle cx="319.9" cy="288.9" r="5.5"/>
<circle cx="425.3" cy="311.8" r="5.5"/>
<circle cx="397.5" cy="306.2" r="5.5"/>
<circle cx="419.6" cy="276.7" r="5.5"/>
<circle cx="335.9" cy="323.4" r="5.5"/>
<circle cx="342.3" cy="320.0" r="5.5"/>
<circle cx="302.7" cy="282.0" r="5.5"/>
<circle cx="424.1" cy="276.7" r="5.5"/>
<circle cx="487.4" cy="302.1" r="5.5"/>
<circle cx="464.3" cy="304.9" r="5.5"/>
<circle cx="459.6" cy="270.6" r="5.5"/>
<circle cx="363.0" cy="277.7" r="5.5"/>
<circle cx="366.7" cy="269.7" r="5.5"/>
<circle cx="318.9" cy="294.6" r="5.5"/>
<circle cx="478.1" cy="303.2" r="5.5"/>
<circle cx="418.5" cy="320.2" r="5.5"/>
<circle cx="405.7" cy="298.5" r="5.5"/>
<circle cx="409.4" cy="295.7" r="5.5"/>
<circle cx="323.9" cy="268.1" r="5.5"/>
<circle cx="459.0" cy="292.0" r="5.5"/>
<circle cx="448.3" cy="265.3" r="5.5"/>
<circle cx="390.1" cy="320.7" r="5.5"/>
<circle cx="294.5" cy="324.1" r="5.5"/>
<circle cx="360.7" cy="295.0" r="5.5"/>
<circle cx="414.9" cy="299.8" r="5.5"/>
<circle cx="354.6" cy="322.0" r="5.5"/>
<circle cx="350.3" cy="262.2" r="5.5"/>
<circle cx="295.3" cy="324.3" r="5.5"/>
<circle cx="338.9" cy="283.9" r="5.5"/>
<circle cx="407.2" cy="295.0" r="5.5"/>
<circle cx="360.0" cy="308.1" r="5.5"/>
<circle cx="405.1" cy="268.9" r="5.5"/>
<circle cx="429.8" cy="306.8" r="5.5"/>
<circle cx="437.8" cy="307.1" r="5.5"/>
<circle cx="296.6" cy="265.8" r="5.5"/>
<circle cx="464.4" cy="277.7" r="5.5"/>
<circle cx="486.4" cy="326.0" r="5.5"/>
<circle cx="460.4" cy="307.2" r="5.5"/>
<circle cx="299.4" cy="316.1" r="5.5"/>
<circle cx="369.9" cy="316.3" r="5.5"/>
<circle cx="474.4" cy="265.7" r="5.5"/>
<circle cx="367.1" cy="279.6" r="5.5"/>
<circle cx="325.1" cy="322.7" r="5.5"/>
<circle cx="426.2" cy="298.7" r="5.5"/>
<circle cx="441.6" cy="298.0" r="5.5"/>
<circle cx="296.9" cy="297.5" r="5.5"/>
<circle cx="425.0" cy="307.0" r="5.5"/>
<circle cx="451.5" cy="280.3" r="5.5"/>
<circle cx="410.4" cy="310.0" r="5.5"/>
<circle cx="376.4" cy="323.3" r="5.5"/>
<circle cx="356.2" cy="295.2" r="5.5"/>
<circle cx="374.3" cy="320.1" r="5.5"/>
<circle cx="458.4" cy="309.0" r="5.5"/>
<circle cx="427.9" cy="299.7" r="5.5"/>
<circle cx="432.4" cy="282.2" r="5.5"/>
<circle cx="307.6" cy="289.7" r="5.5"/>
<circle cx="482.1" cy="266.4" r="5.5"/>
<circle cx="406.5" cy="270.7" r="5.5"/>
<circle cx="297.3" cy="307.2" r="5.5"/>
<circle cx="424.1" cy="278.3" r="5.5"/>
<circle cx="406.4" cy="298.2" r="5.5"/>
<circle cx="387.3" cy="307.8" r="5.5"/>
<circle cx="446.8" cy="312.2" r="5.5"/>
<circle cx="406.5" cy="321.9" r="5.5"/>
<circle cx="482.5" cy="309.8" r="5.5"/>
<circle cx="347.5" cy="273.1" r="5.5"/>
<circle cx="426.9" cy="312.2" r="5.5"/>
<circle cx="485.1" cy="322.1" r="5.5"/>
<circle cx="369.2" cy="267.3" r="5.5"/>
<circle cx="416.5" cy="296.2" r="5.5"/>
<circle cx="421.3" cy="274.3" r="5.5"/>
<circle cx="410.7" cy="302.4" r="5.5"/>
<circle cx="294.3" cy="267.7" r="5.5"/>
<circle cx="379.2" cy="303.8" r="5.5"/>
<circle cx="449.7" cy="273.3" r="5.5"/>
<circle cx="479.8" cy="275.8" r="5.5"/>
<circle cx="482.9" cy="276.2" r="5.5"/>
<circle cx="420.2" cy="318.1" r="5.5"/>
<circle cx="331.1" cy="286.2" r="5.5"/>
<circle cx="471.5" cy="310.7" r="5.5"/>
<circle cx="446.6" cy="267.6" r="5.5"/>
<circle cx="470.2" cy="290.3" r="5.5"/>
<circle cx="331.5" cy="314.9" r="5.5"/>
<circle cx="383.6" cy="313.8" r="5.5"/>
<circle cx="455.5" cy="263.9" r="5.5"/>
<circle cx="340.9" cy="303.5" r="5.5"/>
<circle cx="315.2" cy="272.6" r="5.5"/>
<circle cx="413.9" cy="316.4" r="5.5"/>
<circle cx="326.2" cy="271.8" r="5.5"/>
<circle cx="444.8" cy="287.2" r="5.5"/>
<circle cx="366.1" cy="297.7" r="5.5"/>
<circle cx="486.1" cy="303.5" r="5.5"/>
<circle cx="371.7" cy="290.0" r="5.5"/>
<circle cx="470.4" cy="306.3" r="5.5"/>
<circle cx="405.3" cy="278.3" r="5.5"/>
<circle cx="449.9" cy="270.2" r="5.5"/>
<circle cx="374.1" cy="274.3" r="5.5"/>
<circle cx="333.8" cy="270.7" r="5.5"/>
<circle cx="331.7" cy="312.8" r="5.5"/>
<circle cx="298.3" cy="287.8" r="5.5"/>
<circle cx="300.2" cy="264.8" r="5.5"/>
<circle cx="358.8" cy="283.6" r="5.5"/>
<circle cx="467.2" cy="286.3" r="5.5"/>
<circle cx="469.3" cy="325.6" r="5.5"/>
<circle cx="389.6" cy="292.0" r="5.5"/>
<circle cx="461.1" cy="319.9" r="5.5"/>
<circle cx="486.6" cy="276.5" r="5.5"/>
<circle cx="356.5" cy="297.7" r="5.5"/>
<circle cx="395.1" cy="283.5" r="5.5"/>
<circle cx="318.6" cy="287.2" r="5.5"/>
<circle cx="464.2" cy="286.6" r="5.5"/>
<circle cx="358.7" cy="321.2" r="5.5"/>
<circle cx="305.2" cy="280.6" r="5.5"/>
<circle cx="325.5" cy="280.9" r="5.5"/>
<circle cx="472.4" cy="282.9" r="5.5"/>
<circle cx="359.5" cy="277.5" r="5.5"/>
<circle cx="380.5" cy="265.1" r="5.5"/>
<circle cx="377.4" cy="318.6" r="5.5"/>
<circle cx="472.2" cy="284.0" r="5.5"/>
<circle cx="310.0" cy="264.7" r="5.5"/>
<circle cx="372.5" cy="279.5" r="5.5"/>
<circle cx="440.2" cy="276.8" r="5.5"/>
<circle cx="375.4" cy="284.0" r="5.5"/>
<circle cx="378.0" cy="303.6" r="5.5"/>
<circle cx="456.6" cy="320.5" r="5.5"/>
<circle cx="400.7" cy="325.3" r="5.5"/>
<circle cx="356.4" cy="309.2" r="5.5"/>
<circle cx="406.5" cy="319.9" r="5.5"/>
<circle cx="408.0" cy="315.8" r="5.5"/>
<circle cx="471.7" cy="273.4" r="5.5"/>
<circle cx="431.3" cy="319.7" r="5.5"/>
<circle cx="417.9" cy="297.3" r="5.5"/>
<circle cx="318.0" cy="308.4" r="5.5"/>
<circle cx="339.7" cy="308.3" r="5.5"/>
<circle cx="294.6" cy="303.1" r="5.5"/>
<circle cx="399.3" cy="315.3" r="5.5"/>
<circle cx="360.7" cy="278.8" r="5.5"/>
<circle cx="335.6" cy="297.5" r="5.5"/>
<circle cx="369.2" cy="322.9" r="5.5"/>
<circle cx="335.0" cy="298.8" r="5.5"/>
<circle cx="379.3" cy="271.1" r="5.5"/>
<circle cx="320.2" cy="307.8" r="5.5"/>
<circle cx="345.3" cy="271.4" r="5.5"/>
<circle cx="400.5" cy="288.2" r="5.5"/>
<circle cx="332.0" cy="313.3" r="5.5"/>
<circle cx="359.7" cy="298.4" r="5.5"/>
<circle cx="475.0" cy="299.2" r="5.5"/>
<circle cx="353.9" cy="270.6" r="5.5"/>
<circle cx="377.0" cy="309.2" r="5.5"/>
<circle cx="308.6" cy="325.7" r="5.5"/>
<circle cx="470.1" cy="315.0" r="5.5"/>
<circle cx="388.3" cy="264.8" r="5.5"/>
<circle cx="307.4" cy="325.5" r="5.5"/>
<circle cx="306.3" cy="271.7" r="5.5"/>
<circle cx="433.6" cy="307.8" r="5.5"/>
<circle cx="425.7" cy="291.4" r="5.5"/>
<circle cx="346.2" cy="323.1" r="5.5"/>
<circle cx="460.4" cy="267.1" r="5.5"/>
<circle cx="484.8" cy="278.1" r="5.5"/>
<circle cx="364.9" cy="300.4" r="5.5"/>
<circle cx="459.0" cy="283.8" r="5.5"/>
<circle cx="389.0" cy="269.1" r="5.5"/>
<circle cx="339.3" cy="312.7" r="5.5"/>
<circle cx="391.7" cy="270.4" r="5.5"/>
<circle cx="484.0" cy="284.7" r="5.5"/>
<circle cx="310.6" cy="267.6" r="5.5"/>
<circle cx="480.3" cy="279.7" r="5.5"/>
<circle cx="441.8" cy="271.9" r="5.5"/>
<circle cx="483.9" cy="278.0" r="5.5"/>
<circle cx="319.2" cy="295.0" r="5.5"/>
<circle cx="373.4" cy="312.2" r="5.5"/>
<circle cx="458.8" cy="307.4" r="5.5"/>
<circle cx="467.8" cy="267.2" r="5.5"/>
<circle cx="479.3" cy="264.9" r="5.5"/>
<circle cx="482.3" cy="307.5" r="5.5"/>
<circle cx="414.6" cy="289.4" r="5.5"/>
<circle cx="305.3" cy="267.4" r="5.5"/>
<circle cx="401.8" cy="313.1" r="5.5"/>
<circle cx="380.0" cy="278.5" r="5.5"/>
<circle cx="479.6" cy="270.0" r="5.5"/>
<circle cx="337.0" cy="303.2" r="5.5"/>
<circle cx="321.1" cy="275.0" r="5.5"/>
<circle cx="438.8" cy="325.1" r="5.5"/>
<circle cx="418.8" cy="312.5" r="5.5"/>
<circle cx="339.9" cy="287.1" r="5.5"/>
<circle cx="329.8" cy="317.0" r="5.5"/>
<circle cx="399.7" cy="294.2" r="5.5"/>
<circle cx="304.4" cy="319.1" r="5.5"/>
<circle cx="440.3" cy="280.9" r="5.5"/>
<circle cx="357.9" cy="273.9" r="5.5"/>
<circle cx="325.2" cy="264.7" r="5.5"/>
<circle cx="434.2" cy="270.5" r="5.5"/>
<circle cx="337.9" cy="304.4" r="5.5"/>
<circle cx="433.5" cy="298.9" r="5.5"/>
<circle cx="420.1" cy="269.7" r="5.5"/>
<circle cx="301.0" cy="291.9" r="5.5"/>
<circle cx="477.7" cy="264.8" r="5.5"/>
<circle cx="342.1" cy="304.8" r="5.5"/>
<circle cx="346.4" cy="294.2" r="5.5"/>
<circle cx="408.2" cy="301.3" r="5.5"/>
<circle cx="359.7" cy="295.3" r="5.5"/>
<circle cx="310.8" cy="325.6" r="5.5"/>
<circle cx="418.5" cy="279.2" r="5.5"/>
<circle cx="308.3" cy="277.8" r="5.5"/>
<circle cx="444.1" cy="269.9" r="5.5"/>
<circle cx="413.9" cy="310.0" r="5.5"/>
<circle cx="326.4" cy="313.1" r="5.5"/>
<circle cx="392.1" cy="318.0" r="5.5"/>
<circle cx="437.6" cy="318.6" r="5.5"/>
<circle cx="319.1" cy="309.8" r="5.5"/>
<circle cx="452.2" cy="263.4" r="5.5"/>
<circle cx="474.2" cy="290.1" r="5.5"/>
<circle cx="472.2" cy="288.6" r="5.5"/>
<circle cx="385.5" cy="321.9" r="5.5"/>
<circle cx="466.6" cy="320.3" r="5.5"/>
<circle cx="430.2" cy="276.1" r="5.5"/>
<circle cx="350.7" cy="265.5" r="5.5"/>
<circle cx="321.7" cy="301.0" r="5.5"/>
<circle cx="304.6" cy="320.5" r="5.5"/>
<circle cx="420.2" cy="276.6" r="5.5"/>
<circle cx="397.8" cy="316.8" r="5.5"/>
<circle cx="428.5" cy="310.5" r="5.5"/>
<circle cx="422.1" cy="270.3" r="5.5"/>
<circle cx="484.5" cy="312.3" r="5.5"/>
<circle cx="458.1" cy="320.1" r="5.5"/>
<circle cx="318.8" cy="264.5" r="5.5"/>
<circle cx="374.4" cy="284.0" r="5.5"/>
<circle cx="450.4" cy="279.8" r="5.5"/>
<circle cx="299.8" cy="276.1" r="5.5"/>
<circle cx="301.7" cy="292.5" r="5.5"/>
<circle cx="352.5" cy="281.7" r="5.5"/>
<circle cx="367.6" cy="303.6" r="5.5"/>
<circle cx="398.0" cy="274.0" r="5.5"/>
<circle cx="428.5" cy="284.8" r="5.5"/>
<circle cx="389.1" cy="319.9" r="5.5"/>
<circle cx="432.1" cy="287.1" r="5.5"/>
<circle cx="418.4" cy="263.2" r="5.5"/>
<circle cx="344.0" cy="272.4" r="5.5"/>
<circle cx="376.1" cy="286.4" r="5.5"/>
<circle cx="335.5" cy="271.4" r="5.5"/>
<circle cx="381.8" cy="270.1" r="5.5"/>
<circle cx="468.0" cy="271.1" r="5.5"/>
<circle cx="448.2" cy="295.0" r="5.5"/>
<circle cx="475.2" cy="281.6" r="5.5"/>
<circle cx="440.1" cy="265.1" r="5.5"/>
<circle cx="414.4" cy="267.0" r="5.5"/>
<circle cx="300.0" cy="317.1" r="5.5"/>
<circle cx="360.8" cy="301.2" r="5.5"/>
<circle cx="401.6" cy="306.2" r="5.5"/>
<circle cx="301.8" cy="290.9" r="5.5"/>
<circle cx="373.6" cy="288.3" r="5.5"/>
<circle cx="409.7" cy="320.0" r="5.5"/>
<circle cx="444.9" cy="317.3" r="5.5"/>
<circle cx="330.4" cy="324.7" r="5.5"/>
<circle cx="350.4" cy="284.4" r="5.5"/>
<circle cx="330.3" cy="310.3" r="5.5"/>
<circle cx="334.0" cy="271.6" r="5.5"/>
<circle cx="450.1" cy="288.8" r="5.5"/>
<circle cx="407.0" cy="306.6" r="5.5"/>
<circle cx="324.4" cy="311.4" r="5.5"/>
<circle cx="482.1" cy="288.4" r="5.5"/>
<circle cx="352.8" cy="300.6" r="5.5"/>
<circle cx="443.9" cy="303.1" r="5.5"/>
<circle cx="362.6" cy="275.8" r="5.5"/>
<circle cx="473.7" cy="297.5" r="5.5"/>
<circle cx="412.3" cy="323.3" r="5.5"/>
<circle cx="407.8" cy="324.3" r="5.5"/>
<circle cx="337.8" cy="286.5" r="5.5"/>
<circle cx="356.2" cy="303.3" r="5.5"/>
<circle cx="332.1" cy="281.7" r="5.5"/>
<circle cx="342.5" cy="275.9" r="5.5"/>
<circle cx="450.9" cy="277.5" r="5.5"/>
<circle cx="440.2" cy="292.5" r="5.5"/>
<circle cx="322.0" cy="312.9" r="5.5"/>
<circle cx="444.5" cy="269.8" r="5.5"/>
<circle cx="481.3" cy="288.0" r="5.5"/>
<circle cx="387.6" cy="299.8" r="5.5"/>
<circle cx="295.5" cy="270.9" r="5.5"/>
<circle cx="375.2" cy="304.1" r="5.5"/>
<circle cx="404.2" cy="262.8" r="5.5"/>
<circle cx="461.7" cy="274.6" r="5.5"/>
<circle cx="310.9" cy="298.1" r="5.5"/>
<circle cx="294.0" cy="290.3" r="5.5"/>
<circle cx="369.4" cy="302.3" r="5.5"/>
<circle cx="348.7" cy="319.3" r="5.5"/>
<circle cx="476.2" cy="269.8" r="5.5"/>
<circle cx="405.8" cy="296.2" r="5.5"/>
<circle cx="313.5" cy="271.7" r="5.5"/>
<circle cx="479.8" cy="275.5" r="5.5"/>
<circle cx="293.7" cy="309.5" r="5.5"/>
<circle cx="329.6" cy="263.2" r="5.5"/>
<circle cx="356.1" cy="266.0" r="5.5"/>
<circle cx="457.0" cy="301.5" r="5.5"/>
<circle cx="327.1" cy="297.0" r="5.5"/>
<circle cx="386.5" cy="316.8" r="5.5"/>
<circle cx="349.4" cy="313.5" r="5.5"/>
<circle cx="297.8" cy="299.2" r="5.5"/>
<circle cx="378.3" cy="301.0" r="5.5"/>
<circle cx="342.8" cy="289.4" r="5.5"/>
<circle cx="409.9" cy="301.2" r="5.5"/>
<circle cx="411.0" cy="301.4" r="5.5"/>
<circle cx="436.5" cy="291.5" r="5.5"/>
<circle cx="420.5" cy="281.8" r="5.5"/>
<circle cx="365.0" cy="289.2" r="5.5"/>
<circle cx="391.0" cy="317.7" r="5.5"/>
<circle cx="353.8" cy="322.2" r="5.5"/>
<circle cx="446.1" cy="309.9" r="5.5"/>
<circle cx="404.6" cy="311.3" r="5.5"/>
<circle cx="433.8" cy="322.2" r="5.5"/>
<circle cx="417.6" cy="262.9" r="5.5"/>
<circle cx="450.2" cy="305.5" r="5.5"/>
<circle cx="457.7" cy="273.9" r="5.5"/>
<circle cx="467.6" cy="322.3" r="5.5"/>
<circle cx="441.2" cy="271.8" r="5.5"/>
<circle cx="328.1" cy="281.9" r="5.5"/>
<circle cx="365.7" cy="285.3" r="5.5"/>
<circle cx="397.6" cy="272.8" r="5.5"/>
<circle cx="408.3" cy="320.5" r="5.5"/>
<circle cx="361.4" cy="297.2" r="5.5"/>
<circle cx="455.2" cy="310.1" r="5.5"/>
<circle cx="348.1" cy="283.6" r="5.5"/>
<circle cx="369.4" cy="273.6" r="5.5"/>
<circle cx="327.1" cy="271.4" r="5.5"/>
<circle cx="445.4" cy="300.1" r="5.5"/>
<circle cx="418.2" cy="289.9" r="5.5"/>
<circle cx="405.7" cy="319.2" r="5.5"/>
<circle cx="470.6" cy="276.5" r="5.5"/>
<circle cx="378.2" cy="313.2" r="5.5"/>
<circle cx="425.9" cy="289.6" r="5.5"/>
<circle cx="431.4" cy="277.7" r="5.5"/>
<circle cx="337.3" cy="323.1" r="5.5"/>
<circle cx="389.0" cy="278.0" r="5.5"/>
<circle cx="451.6" cy="309.1" r="5.5"/>
<circle cx="422.8" cy="277.5" r="5.5"/>
<circle cx="308.4" cy="276.4" r="5.5"/>
<circle cx="342.9" cy="310.6" r="5.5"/>
<circle cx="338.1" cy="266.8" r="5.5"/>
<circle cx="293.7" cy="293.4" r="5.5"/>
<circle cx="309.2" cy="268.8" r="5.5"/>
<circle cx="407.0" cy="264.9" r="5.5"/>
<circle cx="456.9" cy="262.3" r="5.5"/>
<circle cx="351.7" cy="287.5" r="5.5"/>
<circle cx="323.4" cy="305.4" r="5.5"/>
<circle cx="414.5" cy="324.7" r="5.5"/>
<circle cx="442.3" cy="321.4" r="5.5"/>
<circle cx="430.6" cy="311.7" r="5.5"/>
<circle cx="445.0" cy="296.7" r="5.5"/>
<circle cx="358.0" cy="295.1" r="5.5"/>
<circle cx="301.3" cy="272.0" r="5.5"/>
<circle cx="295.1" cy="268.9" r="5.5"/>
<circle cx="462.5" cy="313.6" r="5.5"/>
<circle cx="394.7" cy="317.4" r="5.5"/>
<circle cx="466.9" cy="322.8" r="5.5"/>
<circle cx="410.7" cy="289.1" r="5.5"/>
<circle cx="368.6" cy="268.8" r="5.5"/>
<circle cx="386.7" cy="321.8" r="5.5"/>
<circle cx="304.6" cy="303.3" r="5.5"/>
<circle cx="460.1" cy="317.2" r="5.5"/>
<circle cx="340.5" cy="293.4" r="5.5"/>
<circle cx="333.2" cy="287.8" r="5.5"/>
<circle cx="305.9" cy="324.3" r="5.5"/>
<circle cx="377.9" cy="304.4" r="5.5"/>
<circle cx="418.3" cy="281.5" r="5.5"/>
<circle cx="302.7" cy="280.1" r="5.5"/>
<circle cx="479.4" cy="291.5" r="5.5"/>
<circle cx="392.5" cy="292.2" r="5.5"/>
<circle cx="327.3" cy="305.2" r="5.5"/>
<circle cx="364.2" cy="299.8" r="5.5"/>
<circle cx="369.9" cy="280.9" r="5.5"/>
<circle cx="485.5" cy="280.9" r="5.5"/>
<circle cx="413.9" cy="304.6" r="5.5"/>
<circle cx="333.0" cy="310.2" r="5.5"/>
<circle cx="396.4" cy="274.6" r="5.5"/>
<circle cx="327.9" cy="316.1" r="5.5"/>
<circle cx="306.8" cy="271.5" r="5.5"/>
<circle cx="453.2" cy="321.4" r="5.5"/>
<circle cx="330.7" cy="301.4" r="5.5"/>
<circle cx="438.6" cy="307.8" r="5.5"/>
<circle cx="467.5" cy="282.6" r="5.5"/>
<circle cx="400.0" cy="264.0" r="5.5"/>
<circle cx="408.5" cy="321.9" r="5.5"/>
<circle cx="340.8" cy="314.6" r="5.5"/>
<circle cx="292.0" cy="298.5" r="5.5"/>
<circle cx="293.7" cy="290.6" r="5.5"/>
<circle cx="304.8" cy="276.8" r="5.5"/>
<circle cx="346.8" cy="275.5" r="5.5"/>
<circle cx="420.7" cy="323.5" r="5.5"/>
<circle cx="355.0" cy="268.0" r="5.5"/>
<circle cx="379.0" cy="299.1" r="5.5"/>
<circle cx="457.0" cy="277.7" r="5.5"/>
<circle cx="436.3" cy="275.3" r="5.5"/>
<circle cx="397.1" cy="314.2" r="5.5"/>
<circle cx="478.2" cy="265.2" r="5.5"/>
<circle cx="361.8" cy="295.7" r="5.5"/>
<circle cx="319.7" cy="263.7" r="5.5"/>
<circle cx="448.8" cy="282.5" r="5.5"/>
<circle cx="426.8" cy="298.4" r="5.5"/>
<circle cx="337.0" cy="323.8" r="5.5"/>
<circle cx="417.3" cy="287.9" r="5.5"/>
<circle cx="294.4" cy="286.0" r="5.5"/>
<circle cx="334.5" cy="281.8" r="5.5"/>
<circle cx="423.3" cy="291.5" r="5.5"/>
<circle cx="429.3" cy="300.4" r="5.5"/>
<circle cx="337.8" cy="325.8" r="5.5"/>
<circle cx="467.8" cy="314.0" r="5.5"/>
<circle cx="383.0" cy="302.2" r="5.5"/>
<circle cx="371.2" cy="280.9" r="5.5"/>
<circle cx="303.6" cy="323.7" r="5.5"/>
<circle cx="377.3" cy="311.3" r="5.5"/>
<circle cx="322.5" cy="287.4" r="5.5"/>
<circle cx="362.8" cy="274.5" r="5.5"/>
<circle cx="423.1" cy="299.6" r="5.5"/>
<circle cx="303.2" cy="297.2" r="5.5"/>
<circle cx="428.0" cy="281.1" r="5.5"/>
<circle cx="325.6" cy="298.6" r="5.5"/>
<circle cx="468.0" cy="271.4" r="5.5"/>
<circle cx="325.7" cy="310.6" r="5.5"/>
<circle cx="437.6" cy="283.8" r="5.5"/>
<circle cx="340.6" cy="313.1" r="5.5"/>
<circle cx="341.6" cy="302.9" r="5.5"/>
<circle cx="484.6" cy="285.5" r="5.5"/>
<circle cx="409.3" cy="297.5" r="5.5"/>
<circle cx="437.9" cy="262.6" r="5.5"/>
<circle cx="419.8" cy="311.3" r="5.5"/>
<circle cx="430.1" cy="311.7" r="5.5"/>
<circle cx="332.0" cy="271.8" r="5.5"/>
<circle cx="297.2" cy="313.5" r="5.5"/>
<circle cx="318.9" cy="325.9" r="5.5"/>
<circle cx="466.9" cy="307.5" r="5.5"/>
<circle cx="383.9" cy="283.8" r="5.5"/>
<circle cx="458.0" cy="316.9" r="5.5"/>
<circle cx="408.2" cy="271.5" r="5.5"/>
<circle cx="316.2" cy="288.1" r="5.5"/>
<circle cx="380.8" cy="271.7" r="5.5"/>
<circle cx="317.6" cy="269.4" r="5.5"/>
<circle cx="468.9" cy="283.5" r="5.5"/>
<circle cx="446.2" cy="304.2" r="5.5"/>
<circle cx="460.2" cy="299.5" r="5.5"/>
<circle cx="438.2" cy="263.2" r="5.5"/>
<circle cx="474.0" cy="316.5" r="5.5"/>
<circle cx="384.6" cy="278.1" r="5.5"/>
<circle cx="469.9" cy="307.6" r="5.5"/>
<circle cx="441.2" cy="277.8" r="5.5"/>
<circle cx="455.6" cy="298.2" r="5.5"/>
<circle cx="472.8" cy="270.3" r="5.5"/>
<circle cx="346.1" cy="286.2" r="5.5"/>
<circle cx="464.2" cy="308.4" r="5.5"/>
<circle cx="356.5" cy="284.0" r="5.5"/>
<circle cx="370.8" cy="299.4" r="5.5"/>
<circle cx="352.7" cy="304.5" r="5.5"/>
<circle cx="485.9" cy="262.7" r="5.5"/>
<circle cx="351.4" cy="265.7" r="5.5"/>
<circle cx="360.8" cy="312.5" r="5.5"/>
<circle cx="331.1" cy="276.3" r="5.5"/>
<circle cx="379.9" cy="289.2" r="5.5"/>
<circle cx="298.7" cy="282.0" r="5.5"/>
<circle cx="301.4" cy="266.6" r="5.5"/>
<circle cx="459.2" cy="308.8" r="5.5"/>
<circle cx="385.9" cy="296.3" r="5.5"/>
<circle cx="344.8" cy="297.7" r="5.5"/>
<circle cx="371.5" cy="281.1" r="5.5"/>
<circle cx="311.9" cy="297.0" r="5.5"/>
<circle cx="320.3" cy="307.7" r="5.5"/>
<circle cx="304.7" cy="282.8" r="5.5"/>
<circle cx="434.5" cy="299.3" r="5.5"/>
<circle cx="309.5" cy="316.7" r="5.5"/>
<circle cx="436.5" cy="286.0" r="5.5"/>
<circle cx="292.2" cy="320.5" r="5.5"/>
<circle cx="391.5" cy="263.3" r="5.5"/>
<circle cx="292.6" cy="308.0" r="5.5"/>
<circle cx="326.3" cy="315.0" r="5.5"/>
<circle cx="332.1" cy="273.5" r="5.5"/>
<circle cx="360.2" cy="284.5" r="5.5"/>
<circle cx="355.7" cy="313.7" r="5.5"/>
<circle cx="307.9" cy="324.3" r="5.5"/>
<circle cx="432.5" cy="318.4" r="5.5"/>
<circle cx="456.3" cy="322.9" r="5.5"/>
<circle cx="330.9" cy="291.2" r="5.5"/>
<circle cx="449.9" cy="301.2" r="5.5"/>
<circle cx="313.6" cy="305.8" r="5.5"/>
<circle cx="384.1" cy="281.7" r="5.5"/>
<circle cx="400.7" cy="269.4" r="5.5"/>
<circle cx="412.9" cy="277.1" r="5.5"/>
<circle cx="471.3" cy="281.4" r="5.5"/>
<circle cx="304.4" cy="273.6" r="5.5"/>
<circle cx="458.6" cy="284.8" r="5.5"/>
<circle cx="318.8" cy="306.9" r="5.5"/>
<circle cx="474.0" cy="268.6" r="5.5"/>
<circle cx="323.5" cy="293.8" r="5.5"/>
<circle cx="371.7" cy="315.3" r="5.5"/>
<circle cx="376.7" cy="271.8" r="5.5"/>
<circle cx="336.6" cy="275.3" r="5.5"/>
<circle cx="450.2" cy="294.4" r="5.5"/>
<circle cx="403.1" cy="325.0" r="5.5"/>
<circle cx="464.2" cy="277.0" r="5.5"/>
<circle cx="307.7" cy="298.8" r="5.5"/>
<circle cx="397.7" cy="263.6" r="5.5"/>
<circle cx="410.9" cy="304.9" r="5.5"/>
<circle cx="449.0" cy="310.7" r="5.5"/>
<circle cx="409.1" cy="272.6" r="5.5"/>
<circle cx="438.2" cy="297.1" r="5.5"/>
<circle cx="455.7" cy="268.2" r="5.5"/>
<circle cx="347.2" cy="304.4" r="5.5"/>
<circle cx="368.1" cy="294.6" r="5.5"/>
<circle cx="382.6" cy="285.8" r="5.5"/>
<circle cx="456.2" cy="303.3" r="5.5"/>
<circle cx="363.1" cy="308.9" r="5.5"/>
<circle cx="486.2" cy="308.4" r="5.5"/>
<circle cx="292.0" cy="319.4" r="5.5"/>
<circle cx="314.8" cy="270.9" r="5.5"/>
<circle cx="477.1" cy="272.6" r="5.5"/>
<circle cx="471.9" cy="278.0" r="5.5"/>
<circle cx="320.3" cy="309.0" r="5.5"/>
<circle cx="343.6" cy="312.9" r="5.5"/>
<circle cx="357.9" cy="307.3" r="5.5"/>
<circle cx="486.1" cy="323.5" r="5.5"/>
<circle cx="479.1" cy="273.1" r="5.5"/>
<circle cx="380.1" cy="282.1" r="5.5"/>
<circle cx="407.0" cy="298.8" r="5.5"/>
<circle cx="384.1" cy="275.8" r="5.5"/>
<circle cx="418.9" cy="281.8" r="5.5"/>
<circle cx="434.9" cy="295.3" r="5.5"/>
<circle cx="330.9" cy="266.1" r="5.5"/>
<circle cx="342.2" cy="291.8" r="5.5"/>
<circle cx="382.8" cy="294.8" r="5.5"/>
<circle cx="374.3" cy="276.3" r="5.5"/>
<circle cx="359.2" cy="289.5" r="5.5"/>
<circle cx="353.8" cy="306.6" r="5.5"/>
<circle cx="336.1" cy="290.8" r="5.5"/>
<circle cx="402.3" cy="320.9" r="5.5"/>
<circle cx="361.9" cy="291.8" r="5.5"/>
<circle cx="378.5" cy="276.3" r="5.5"/>
<circle cx="320.9" cy="309.7" r="5.5"/>
<circle cx="356.1" cy="266.5" r="5.5"/>
<circle cx="348.1" cy="282.9" r="5.5"/>
<circle cx="449.1" cy="283.0" r="5.5"/>
<circle cx="428.8" cy="263.7" r="5.5"/>
<circle cx="428.0" cy="303.9" r="5.5"/>
<circle cx="377.5" cy="317.9" r="5.5"/>
<circle cx="298.3" cy="312.5" r="5.5"/>
<circle cx="351.4" cy="280.8" r="5.5"/>
<circle cx="369.3" cy="304.6" r="5.5"/>
<circle cx="350.8" cy="308.8" r="5.5"/>
<circle cx="307.9" cy="270.3" r="5.5"/>
<circle cx="349.7" cy="274.9" r="5.5"/>
<circle cx="305.2" cy="265.0" r="5.5"/>
<circle cx="447.8" cy="269.2" r="5.5"/>
<circle cx="475.8" cy="276.9" r="5.5"/>
<circle cx="422.7" cy="305.8" r="5.5"/>
<circle cx="352.1" cy="303.9" r="5.5"/>
<circle cx="479.8" cy="295.0" r="5.5"/>
<circle cx="450.4" cy="287.7" r="5.5"/>
<circle cx="393.3" cy="263.4" r="5.5"/>
<circle cx="356.8" cy="265.2" r="5.5"/>
<circle cx="308.8" cy="293.7" r="5.5"/>
<circle cx="486.9" cy="268.9" r="5.5"/>
<circle cx="327.2" cy="309.5" r="5.5"/>
<circle cx="468.6" cy="309.7" r="5.5"/>
<circle cx="376.2" cy="296.7" r="5.5"/>
<circle cx="314.5" cy="313.2" r="5.5"/>
<circle cx="337.8" cy="309.9" r="5.5"/>
<circle cx="326.4" cy="290.8" r="5.5"/>
<circle cx="412.2" cy="266.7" r="5.5"/>
<circle cx="338.1" cy="302.1" r="5.5"/>
<circle cx="449.7" cy="302.4" r="5.5"/>
<circle cx="335.8" cy="274.4" r="5.5"/>
<circle cx="408.1" cy="263.4" r="5.5"/>
<circle cx="317.7" cy="319.3" r="5.5"/>
<circle cx="363.7" cy="291.4" r="5.5"/>
<circle cx="412.1" cy="310.1" r="5.5"/>
<circle cx="477.1" cy="306.2" r="5.5"/>
<circle cx="443.0" cy="318.8" r="5.5"/>
<circle cx="335.4" cy="309.0" r="5.5"/>
<circle cx="327.5" cy="322.0" r="5.5"/>
<circle cx="447.3" cy="308.5" r="5.5"/>
<circle cx="483.8" cy="282.4" r="5.5"/>
<circle cx="455.5" cy="304.4" r="5.5"/>
<circle cx="408.9" cy="322.0" r="5.5"/>
<circle cx="316.1" cy="285.6" r="5.5"/>
<circle cx="395.1" cy="300.2" r="5.5"/>
<circle cx="425.6" cy="298.6" r="5.5"/>
<circle cx="403.6" cy="295.8" r="5.5"/>
<circle cx="350.5" cy="278.5" r="5.5"/>
<circle cx="341.4" cy="272.9" r="5.5"/>
<circle cx="411.0" cy="262.6" r="5.5"/>
<circle cx="295.8" cy="295.3" r="5.5"/>
<circle cx="360.1" cy="281.1" r="5.5"/>
<circle cx="394.5" cy="296.0" r="5.5"/>
<circle cx="318.2" cy="262.1" r="5.5"/>
<circle cx="433.6" cy="304.7" r="5.5"/>
<circle cx="310.8" cy="272.7" r="5.5"/>
<circle cx="428.0" cy="278.1" r="5.5"/>
<circle cx="424.4" cy="276.7" r="5.5"/>
<circle cx="351.5" cy="301.0" r="5.5"/>
<circle cx="418.9" cy="312.6" r="5.5"/>
<circle cx="366.1" cy="320.0" r="5.5"/>
<circle cx="326.0" cy="268.6" r="5.5"/>
<circle cx="470.4" cy="265.0" r="5.5"/>
<circle cx="337.2" cy="308.6" r="5.5"/>
<circle cx="353.2" cy="297.2" r="5.5"/>
<circle cx="376.8" cy="300.1" r="5.5"/>
<circle cx="478.4" cy="280.3" r="5.5"/>
<circle cx="425.1" cy="282.0" r="5.5"/>
<circle cx="485.7" cy="324.9" r="5.5"/>
<circle cx="385.8" cy="322.0" r="5.5"/>
<circle cx="394.8" cy="288.9" r="5.5"/>
<circle cx="319.1" cy="266.1" r="5.5"/>
<circle cx="374.3" cy="305.2" r="5.5"/>
<circle cx="446.2" cy="320.9" r="5.5"/>
<circle cx="441.1" cy="305.3" r="5.5"/>
<circle cx="292.1" cy="267.6" r="5.5"/>
<circle cx="370.2" cy="266.0" r="5.5"/>
<circle cx="330.1" cy="322.8" r="5.5"/>
<circle cx="331.1" cy="282.2" r="5.5"/>
<circle cx="326.3" cy="315.2" r="5.5"/>
<circle cx="387.0" cy="289.3" r="5.5"/>
<circle cx="421.5" cy="311.5" r="5.5"/>
<circle cx="479.3" cy="281.4" r="5.5"/>
<circle cx="292.6" cy="288.1" r="5.5"/>
<circle cx="337.1" cy="325.9" r="5.5"/>
<circle cx="411.6" cy="291.5" r="5.5"/>
<circle cx="483.5" cy="316.6" r="5.5"/>
<circle cx="446.8" cy="315.4" r="5.5"/>
<circle cx="388.9" cy="296.7" r="5.5"/>
<circle cx="353.9" cy="275.3" r="5.5"/>
<circle cx="379.4" cy="264.1" r="5.5"/>
<circle cx="363.5" cy="318.1" r="5.5"/>
<circle cx="304.7" cy="315.8" r="5.5"/>
<circle cx="418.5" cy="324.9" r="5.5"/>
<circle cx="395.1" cy="302.2" r="5.5"/>
<circle cx="403.6" cy="283.5" r="5.5"/>
<circle cx="402.8" cy="316.5" r="5.5"/>
<circle cx="294.0" cy="321.0" r="5.5"/>
<circle cx="423.4" cy="282.1" r="5.5"/>
<circle cx="364.9" cy="285.0" r="5.5"/>
<circle cx="484.4" cy="308.3" r="5.5"/>
<circle cx="365.6" cy="305.8" r="5.5"/>
<circle cx="364.0" cy="296.4" r="5.5"/>
<circle cx="398.8" cy="296.1" r="5.5"/>
<circle cx="474.0" cy="313.9" r="5.5"/>
<circle cx="423.0" cy="262.7" r="5.5"/>
<circle cx="360.8" cy="314.3" r="5.5"/>
<circle cx="476.5" cy="288.1" r="5.5"/>
<circle cx="500.1" cy="246.0" r="5.5"/>
<circle cx="498.4" cy="247.0" r="5.5"/>
<circle cx="489.0" cy="257.9" r="5.5"/>
<circle cx="503.8" cy="251.6" r="5.5"/>
<circle cx="498.6" cy="253.0" r="5.5"/>
<circle cx="497.1" cy="251.2" r="5.5"/>
<circle cx="510.7" cy="261.5" r="5.5"/>
<circle cx="498.3" cy="245.0" r="5.5"/>
<circle cx="499.3" cy="258.8" r="5.5"/>
<circle cx="500.4" cy="247.2" r="5.5"/>
<circle cx="492.1" cy="243.1" r="5.5"/>
<circle cx="508.6" cy="260.9" r="5.5"/>
<circle cx="500.2" cy="249.9" r="5.5"/>
<circle cx="503.8" cy="251.3" r="5.5"/>
<circle cx="490.3" cy="261.8" r="5.5"/>
<circle cx="512.1" cy="260.4" r="5.5"/>
<circle cx="490.8" cy="260.9" r="5.5"/>
<circle cx="491.3" cy="242.8" r="5.5"/>
<circle cx="491.7" cy="259.3" r="5.5"/>
<circle cx="503.2" cy="252.2" r="5.5"/>
<circle cx="489.5" cy="241.7" r="5.5"/>
</g>
<line x1="117" y1="245.5" x2="876" y2="359.4" stroke="#000" stroke-width="5.3" stroke-linecap="round"/>
<g fill="#0A4A9E" stroke="#0A4A9E" stroke-width="0.5" font-weight="bold" font-size="26">
<text x="118.00" y="38.0" textLength="106.00" lengthAdjust="spacingAndGlyphs">Relación</text>
<text x="230.00" y="38.0" textLength="31.00" lengthAdjust="spacingAndGlyphs">de</text>
<text x="266.00" y="38.0" textLength="137.00" lengthAdjust="spacingAndGlyphs">producción</text>
<text x="410.00" y="38.0" textLength="71.00" lengthAdjust="spacingAndGlyphs">eólica</text>
<text x="489.00" y="38.0" textLength="14.00" lengthAdjust="spacingAndGlyphs">y</text>
<text x="510.00" y="38.0" textLength="88.00" lengthAdjust="spacingAndGlyphs">precios</text>
<text x="605.00" y="38.0" textLength="30.00" lengthAdjust="spacingAndGlyphs">en</text>
<text x="642.00" y="38.0" textLength="89.00" lengthAdjust="spacingAndGlyphs">España</text>
<text x="738.00" y="38.0" textLength="132.20" lengthAdjust="spacingAndGlyphs">peninsular</text>
<text x="116.00" y="71.4" textLength="70.00" lengthAdjust="spacingAndGlyphs">Datos</text>
<text x="191.00" y="71.4" textLength="93.00" lengthAdjust="spacingAndGlyphs">diarios.</text>
<text x="290.00" y="71.4" textLength="150.00" lengthAdjust="spacingAndGlyphs">01/01/2012</text>
<text x="447.00" y="71.4" textLength="10.00" lengthAdjust="spacingAndGlyphs">-</text>
<text x="463.00" y="71.4" textLength="158.00" lengthAdjust="spacingAndGlyphs">31/12/2020.</text>
<text x="627.00" y="71.4" textLength="61.00" lengthAdjust="spacingAndGlyphs">3288</text>
<text x="695.00" y="71.4" textLength="176.80" lengthAdjust="spacingAndGlyphs">observaciones</text>
</g>
<g fill="#595959" font-size="18" text-anchor="end">
<text x="76" y="104.9">100</text>
<text x="76" y="138.7">90</text>
<text x="76" y="172.5">80</text>
<text x="76" y="206.3">70</text>
<text x="76" y="240.1">60</text>
<text x="76" y="273.9">50</text>
<text x="76" y="307.7">40</text>
<text x="76" y="341.5">30</text>
<text x="76" y="375.3">20</text>
<text x="76" y="409.1">10</text>
<text x="76" y="442.9">0</text>
</g>
<g fill="#595959" font-size="18" text-anchor="middle">
<text x="94.0" y="467.4">0</text>
<text x="189.8" y="467.4">50</text>
<text x="285.6" y="467.4">100</text>
<text x="381.3" y="467.4">150</text>
<text x="477.1" y="467.4">200</text>
<text x="572.9" y="467.4">250</text>
<text x="668.7" y="467.4">300</text>
<text x="764.5" y="467.4">350</text>
<text x="860.2" y="467.4">400</text>
<text x="956.0" y="467.4">450</text>
</g>
<text x="525" y="494.3" fill="#595959" font-size="17" text-anchor="middle" textLength="193" lengthAdjust="spacingAndGlyphs">Producción Eólica (GWh)</text>
<text transform="translate(35.2,268.4) rotate(-90)" fill="#595959" font-size="17" text-anchor="middle" textLength="121.8" lengthAdjust="spacingAndGlyphs">Precio (€/MWh)</text>
</svg>
</body></html>
